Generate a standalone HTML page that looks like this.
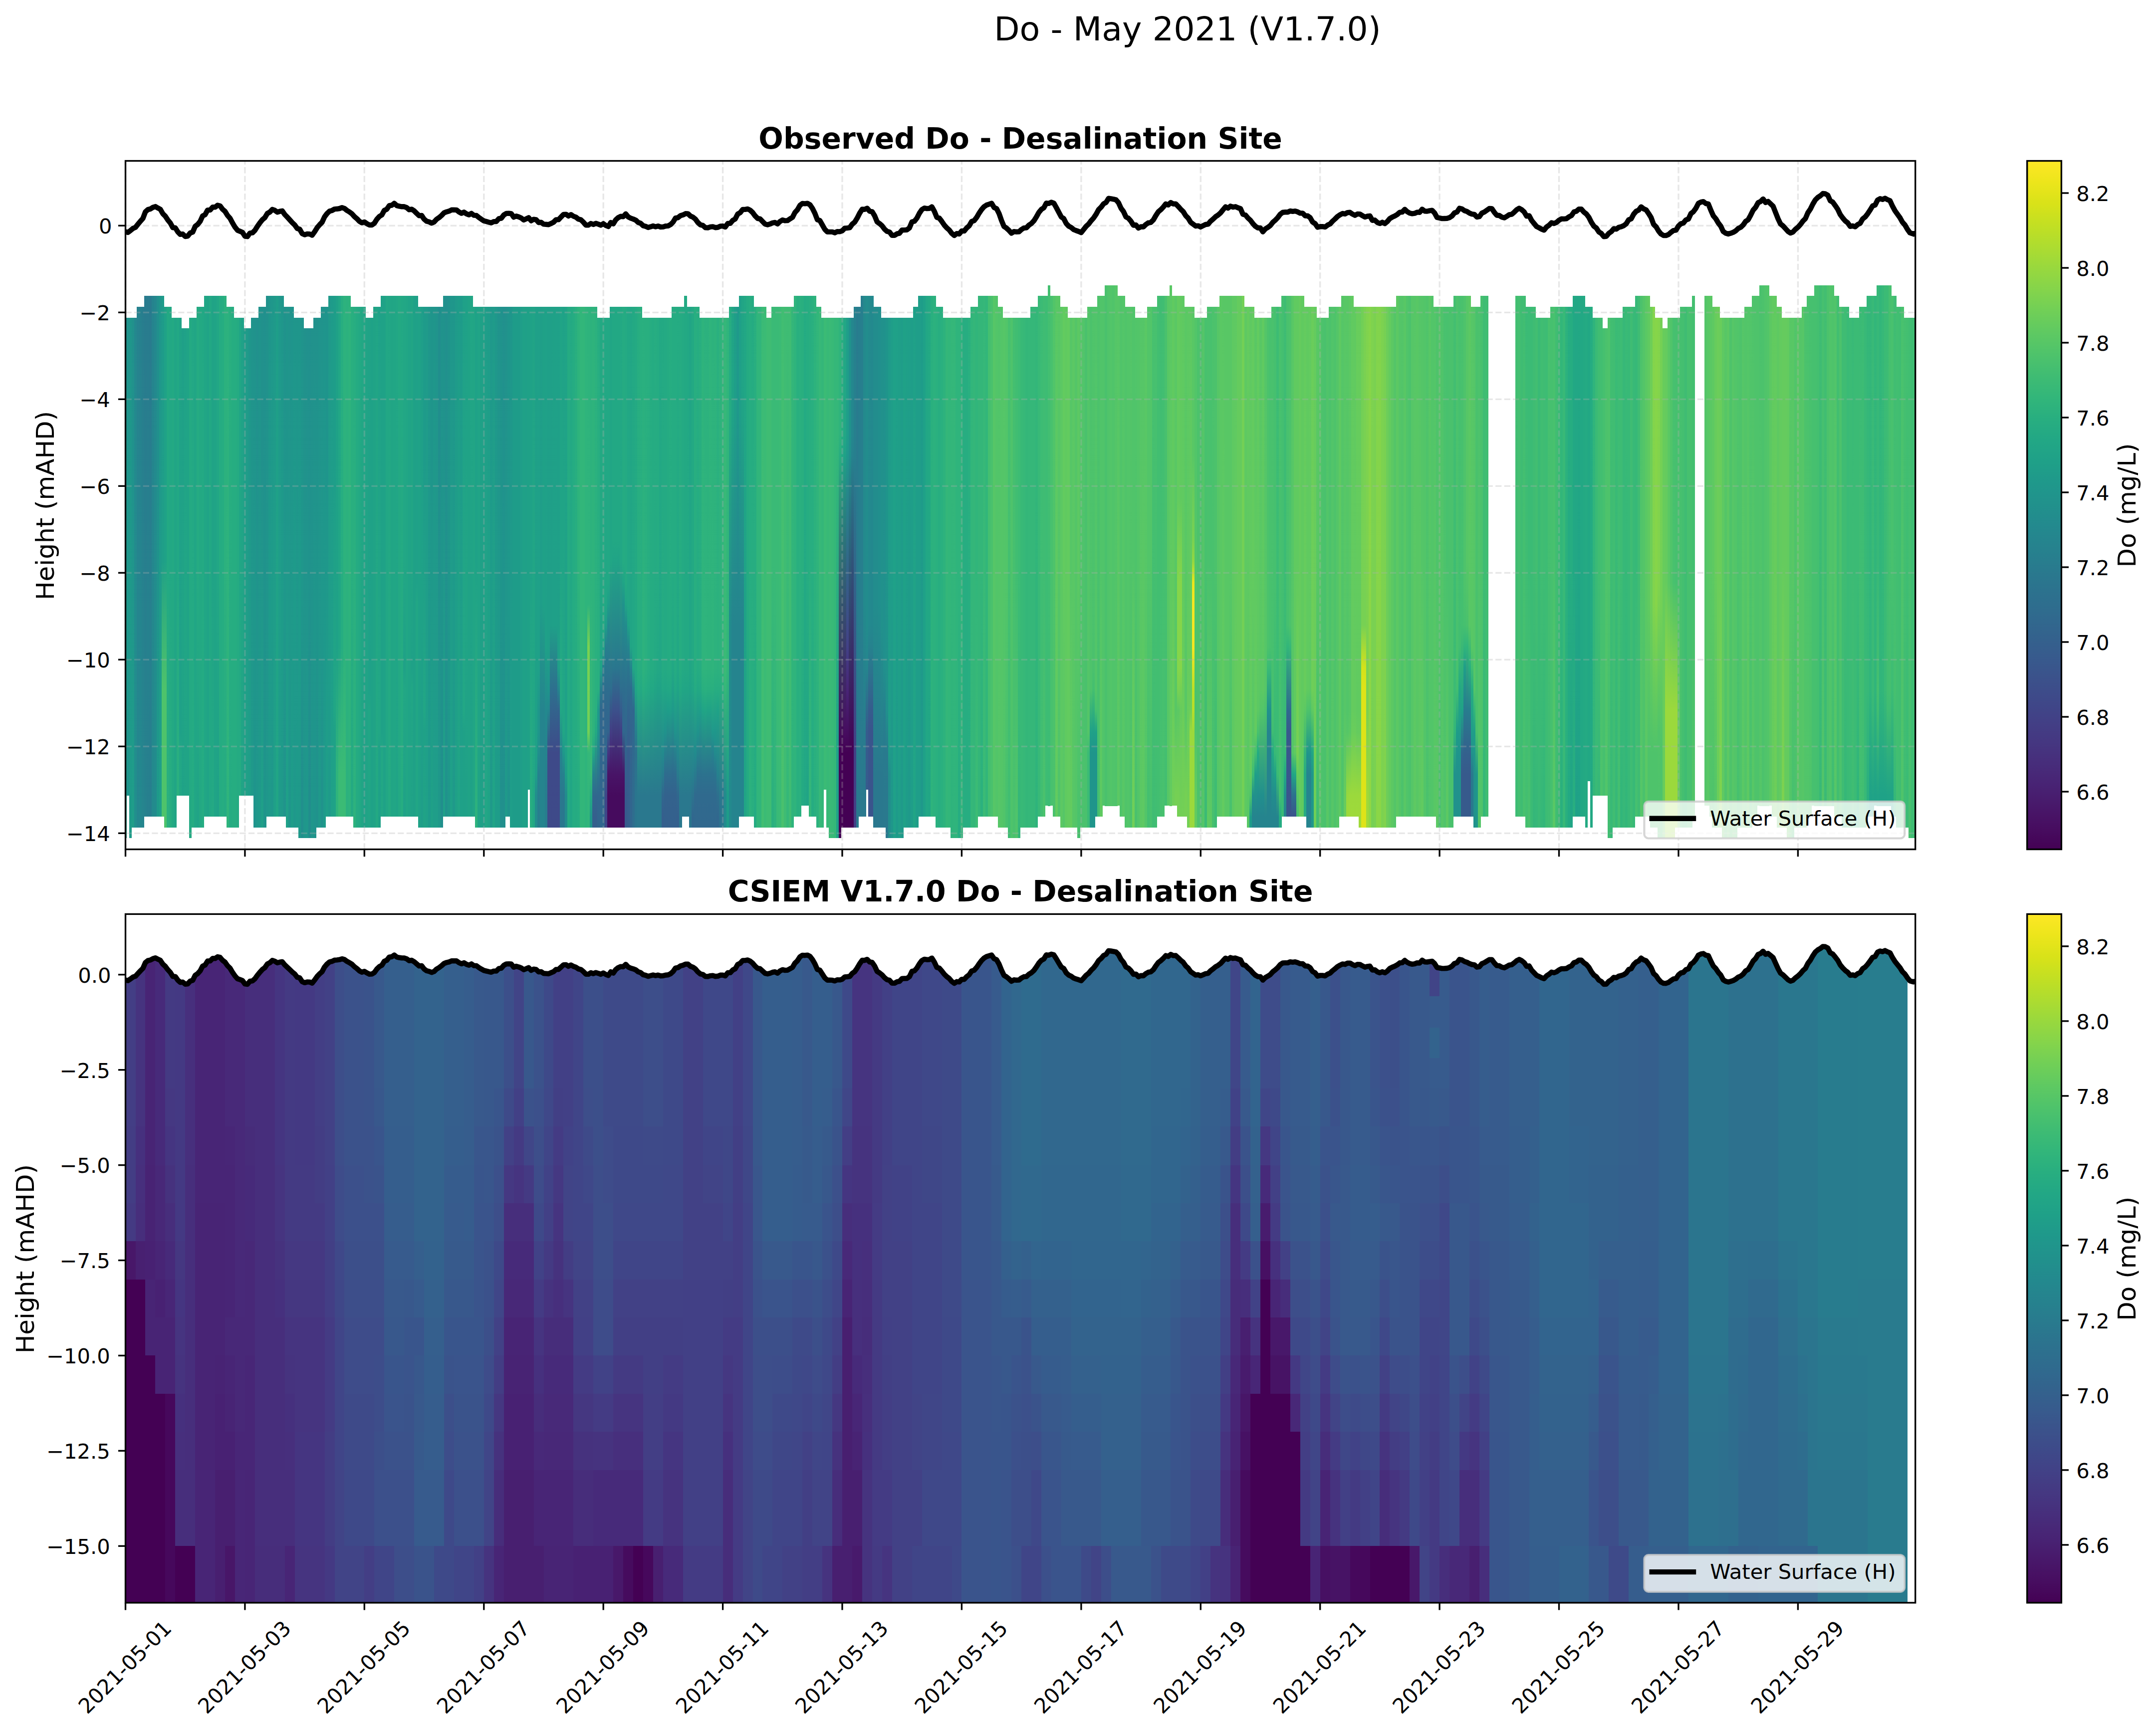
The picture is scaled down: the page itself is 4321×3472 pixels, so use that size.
<!DOCTYPE html><html><head><meta charset="utf-8"><title>Do - May 2021 (V1.7.0)</title>
<style>html,body{margin:0;padding:0;background:#fff}svg{display:block}text{font-family:'DejaVu Sans','Liberation Sans',sans-serif;fill:#000}</style></head><body>
<svg width="4321" height="3472" viewBox="0 0 4321 3472">
<defs>
<linearGradient id="gv" gradientUnits="userSpaceOnUse" x1="0" x2="0" y1="571.5" y2="1679.9"/>
<linearGradient id="g1" href="#gv"><stop offset="0.000" stop-color="#1f948c"/><stop offset="1.000" stop-color="#1f9e89"/></linearGradient><linearGradient id="g2" href="#gv"><stop offset="0.000" stop-color="#20928c"/><stop offset="0.577" stop-color="#1f978b"/><stop offset="1.000" stop-color="#20928c"/></linearGradient><linearGradient id="g3" href="#gv"><stop offset="0.000" stop-color="#1f958b"/><stop offset="1.000" stop-color="#1e9c89"/></linearGradient><linearGradient id="g4" href="#gv"><stop offset="0.000" stop-color="#21918c"/><stop offset="0.308" stop-color="#20928c"/><stop offset="1.000" stop-color="#1f9e89"/></linearGradient><linearGradient id="g5" href="#gv"><stop offset="0.000" stop-color="#24878e"/><stop offset="1.000" stop-color="#218f8d"/></linearGradient><linearGradient id="g6" href="#gv"><stop offset="0.000" stop-color="#26828e"/><stop offset="1.000" stop-color="#24878e"/></linearGradient><linearGradient id="g7" href="#gv"><stop offset="0.000" stop-color="#27808e"/><stop offset="1.000" stop-color="#23888e"/></linearGradient><linearGradient id="g8" href="#gv"><stop offset="0.000" stop-color="#287d8e"/><stop offset="1.000" stop-color="#25858e"/></linearGradient><linearGradient id="g9" href="#gv"><stop offset="0.000" stop-color="#297b8e"/><stop offset="1.000" stop-color="#26828e"/></linearGradient><linearGradient id="g10" href="#gv"><stop offset="0.000" stop-color="#297b8e"/><stop offset="0.615" stop-color="#26818e"/><stop offset="1.000" stop-color="#277f8e"/></linearGradient><linearGradient id="g11" href="#gv"><stop offset="0.000" stop-color="#297a8e"/><stop offset="0.615" stop-color="#27808e"/><stop offset="1.000" stop-color="#277e8e"/></linearGradient><linearGradient id="g12" href="#gv"><stop offset="0.000" stop-color="#25838e"/><stop offset="1.000" stop-color="#238a8d"/></linearGradient><linearGradient id="g13" href="#gv"><stop offset="0.000" stop-color="#24878e"/><stop offset="0.615" stop-color="#228d8d"/><stop offset="1.000" stop-color="#228b8d"/></linearGradient><linearGradient id="g14" href="#gv"><stop offset="0.000" stop-color="#21908d"/><stop offset="0.308" stop-color="#21908d"/><stop offset="1.000" stop-color="#1e9b8a"/></linearGradient><linearGradient id="g15" href="#gv"><stop offset="0.000" stop-color="#1f968b"/><stop offset="1.000" stop-color="#1fa088"/></linearGradient><linearGradient id="g16" href="#gv"><stop offset="0.000" stop-color="#1e9b8a"/><stop offset="0.500" stop-color="#1f9f88"/><stop offset="0.731" stop-color="#4ec36b"/><stop offset="1.000" stop-color="#4ec36b"/></linearGradient><linearGradient id="g17" href="#gv"><stop offset="0.000" stop-color="#1fa287"/><stop offset="0.500" stop-color="#1fa287"/><stop offset="0.731" stop-color="#4ec36b"/><stop offset="1.000" stop-color="#4ec36b"/></linearGradient><linearGradient id="g18" href="#gv"><stop offset="0.000" stop-color="#23a983"/><stop offset="0.500" stop-color="#23a983"/><stop offset="1.000" stop-color="#2cb17e"/></linearGradient><linearGradient id="g19" href="#gv"><stop offset="0.000" stop-color="#22a884"/><stop offset="0.500" stop-color="#22a884"/><stop offset="1.000" stop-color="#28ae80"/></linearGradient><linearGradient id="g20" href="#gv"><stop offset="0.000" stop-color="#22a884"/><stop offset="0.500" stop-color="#22a884"/><stop offset="1.000" stop-color="#2cb17e"/></linearGradient><linearGradient id="g21" href="#gv"><stop offset="0.000" stop-color="#20a386"/><stop offset="0.808" stop-color="#1fa188"/><stop offset="0.846" stop-color="#22a785"/><stop offset="1.000" stop-color="#21a685"/></linearGradient><linearGradient id="g22" href="#gv"><stop offset="0.000" stop-color="#1f9f88"/><stop offset="0.615" stop-color="#20a486"/><stop offset="1.000" stop-color="#1fa287"/></linearGradient><linearGradient id="g23" href="#gv"><stop offset="0.000" stop-color="#1fa188"/><stop offset="0.577" stop-color="#21a685"/><stop offset="1.000" stop-color="#20a386"/></linearGradient><linearGradient id="g24" href="#gv"><stop offset="0.000" stop-color="#22a785"/><stop offset="1.000" stop-color="#25ac82"/></linearGradient><linearGradient id="g25" href="#gv"><stop offset="0.000" stop-color="#25ab82"/><stop offset="0.500" stop-color="#25ab82"/><stop offset="1.000" stop-color="#20a386"/></linearGradient><linearGradient id="g26" href="#gv"><stop offset="0.000" stop-color="#22a884"/><stop offset="1.000" stop-color="#25ac82"/></linearGradient><linearGradient id="g27" href="#gv"><stop offset="0.000" stop-color="#20a386"/><stop offset="0.500" stop-color="#20a386"/><stop offset="1.000" stop-color="#24aa83"/></linearGradient><linearGradient id="g28" href="#gv"><stop offset="0.000" stop-color="#22a785"/><stop offset="0.500" stop-color="#22a785"/><stop offset="1.000" stop-color="#1fa187"/></linearGradient><linearGradient id="g29" href="#gv"><stop offset="0.000" stop-color="#2cb17e"/><stop offset="0.500" stop-color="#2cb17e"/><stop offset="1.000" stop-color="#24aa83"/></linearGradient><linearGradient id="g30" href="#gv"><stop offset="0.000" stop-color="#2cb17e"/><stop offset="1.000" stop-color="#2fb47c"/></linearGradient><linearGradient id="g31" href="#gv"><stop offset="0.000" stop-color="#29af7f"/><stop offset="1.000" stop-color="#25ac82"/></linearGradient><linearGradient id="g32" href="#gv"><stop offset="0.000" stop-color="#21a685"/><stop offset="0.500" stop-color="#21a685"/><stop offset="1.000" stop-color="#27ad81"/></linearGradient><linearGradient id="g33" href="#gv"><stop offset="0.000" stop-color="#1fa188"/><stop offset="0.615" stop-color="#21a685"/><stop offset="1.000" stop-color="#20a486"/></linearGradient><linearGradient id="g34" href="#gv"><stop offset="0.000" stop-color="#1e9c89"/><stop offset="0.615" stop-color="#1fa187"/><stop offset="1.000" stop-color="#1f9f88"/></linearGradient><linearGradient id="g35" href="#gv"><stop offset="0.000" stop-color="#1f9a8a"/><stop offset="1.000" stop-color="#1fa187"/></linearGradient><linearGradient id="g36" href="#gv"><stop offset="0.000" stop-color="#1f958b"/><stop offset="1.000" stop-color="#1f9f88"/></linearGradient><linearGradient id="g37" href="#gv"><stop offset="0.000" stop-color="#20938c"/><stop offset="1.000" stop-color="#1f9a8a"/></linearGradient><linearGradient id="g38" href="#gv"><stop offset="0.000" stop-color="#20928c"/><stop offset="0.577" stop-color="#1f978b"/><stop offset="1.000" stop-color="#1f948c"/></linearGradient><linearGradient id="g39" href="#gv"><stop offset="0.000" stop-color="#21908d"/><stop offset="1.000" stop-color="#1f988b"/></linearGradient><linearGradient id="g40" href="#gv"><stop offset="0.000" stop-color="#20928c"/><stop offset="1.000" stop-color="#1f9a8a"/></linearGradient><linearGradient id="g41" href="#gv"><stop offset="0.000" stop-color="#21918c"/><stop offset="0.308" stop-color="#21918c"/><stop offset="1.000" stop-color="#1fa088"/></linearGradient><linearGradient id="g42" href="#gv"><stop offset="0.000" stop-color="#21908d"/><stop offset="1.000" stop-color="#1f958b"/></linearGradient><linearGradient id="g43" href="#gv"><stop offset="0.000" stop-color="#21918c"/><stop offset="1.000" stop-color="#1f988b"/></linearGradient><linearGradient id="g44" href="#gv"><stop offset="0.000" stop-color="#1f958b"/><stop offset="0.615" stop-color="#1e9b8a"/><stop offset="1.000" stop-color="#1f998a"/></linearGradient><linearGradient id="g45" href="#gv"><stop offset="0.000" stop-color="#1f978b"/><stop offset="0.577" stop-color="#1e9c89"/><stop offset="1.000" stop-color="#1f978b"/></linearGradient><linearGradient id="g46" href="#gv"><stop offset="0.000" stop-color="#1f998a"/><stop offset="1.000" stop-color="#1fa088"/></linearGradient><linearGradient id="g47" href="#gv"><stop offset="0.000" stop-color="#1e9d89"/><stop offset="1.000" stop-color="#21a685"/></linearGradient><linearGradient id="g48" href="#gv"><stop offset="0.000" stop-color="#1f988b"/><stop offset="0.577" stop-color="#1f9e89"/><stop offset="1.000" stop-color="#1f9a8a"/></linearGradient><linearGradient id="g49" href="#gv"><stop offset="0.000" stop-color="#1f968b"/><stop offset="0.615" stop-color="#1e9c89"/><stop offset="1.000" stop-color="#1f998a"/></linearGradient><linearGradient id="g50" href="#gv"><stop offset="0.000" stop-color="#20928c"/><stop offset="0.577" stop-color="#1f988b"/><stop offset="1.000" stop-color="#20938c"/></linearGradient><linearGradient id="g51" href="#gv"><stop offset="0.000" stop-color="#1f958b"/><stop offset="0.308" stop-color="#1f958b"/><stop offset="1.000" stop-color="#1fa188"/></linearGradient><linearGradient id="g52" href="#gv"><stop offset="0.000" stop-color="#20938c"/><stop offset="0.615" stop-color="#1f998a"/><stop offset="1.000" stop-color="#1f968b"/></linearGradient><linearGradient id="g53" href="#gv"><stop offset="0.000" stop-color="#1f948c"/><stop offset="1.000" stop-color="#1e9d89"/></linearGradient><linearGradient id="g54" href="#gv"><stop offset="0.000" stop-color="#1f958b"/><stop offset="0.577" stop-color="#1e9b8a"/><stop offset="1.000" stop-color="#1f988b"/></linearGradient><linearGradient id="g55" href="#gv"><stop offset="0.000" stop-color="#1f958b"/><stop offset="1.000" stop-color="#1e9b8a"/></linearGradient><linearGradient id="g56" href="#gv"><stop offset="0.000" stop-color="#1f958b"/><stop offset="0.615" stop-color="#1e9b8a"/><stop offset="1.000" stop-color="#1f998a"/></linearGradient><linearGradient id="g57" href="#gv"><stop offset="0.000" stop-color="#20938c"/><stop offset="0.538" stop-color="#1f978b"/><stop offset="1.000" stop-color="#218f8d"/></linearGradient><linearGradient id="g58" href="#gv"><stop offset="0.000" stop-color="#21918c"/><stop offset="1.000" stop-color="#1f978b"/></linearGradient><linearGradient id="g59" href="#gv"><stop offset="0.000" stop-color="#21908d"/><stop offset="1.000" stop-color="#1f988b"/></linearGradient><linearGradient id="g60" href="#gv"><stop offset="0.000" stop-color="#21908d"/><stop offset="0.538" stop-color="#20938c"/><stop offset="1.000" stop-color="#228d8d"/></linearGradient><linearGradient id="g61" href="#gv"><stop offset="0.000" stop-color="#21918c"/><stop offset="1.000" stop-color="#1f968b"/></linearGradient><linearGradient id="g62" href="#gv"><stop offset="0.000" stop-color="#21918c"/><stop offset="0.615" stop-color="#1f968b"/><stop offset="1.000" stop-color="#1f948c"/></linearGradient><linearGradient id="g63" href="#gv"><stop offset="0.000" stop-color="#21918c"/><stop offset="0.577" stop-color="#1f958b"/><stop offset="1.000" stop-color="#20928c"/></linearGradient><linearGradient id="g64" href="#gv"><stop offset="0.000" stop-color="#20938c"/><stop offset="1.000" stop-color="#1f998a"/></linearGradient><linearGradient id="g65" href="#gv"><stop offset="0.000" stop-color="#20938c"/><stop offset="0.577" stop-color="#1f988b"/><stop offset="1.000" stop-color="#20928c"/></linearGradient><linearGradient id="g66" href="#gv"><stop offset="0.000" stop-color="#1f948c"/><stop offset="1.000" stop-color="#1e9b8a"/></linearGradient><linearGradient id="g67" href="#gv"><stop offset="0.000" stop-color="#1f948c"/><stop offset="0.269" stop-color="#1f948c"/><stop offset="1.000" stop-color="#1fa088"/></linearGradient><linearGradient id="g68" href="#gv"><stop offset="0.000" stop-color="#1f998a"/><stop offset="0.577" stop-color="#1f9e89"/><stop offset="1.000" stop-color="#1f9a8a"/></linearGradient><linearGradient id="g69" href="#gv"><stop offset="0.000" stop-color="#1e9b8a"/><stop offset="1.000" stop-color="#1fa188"/></linearGradient><linearGradient id="g70" href="#gv"><stop offset="0.000" stop-color="#1e9d89"/><stop offset="0.308" stop-color="#1e9d89"/><stop offset="0.769" stop-color="#21a685"/><stop offset="0.808" stop-color="#1fa187"/><stop offset="1.000" stop-color="#1fa287"/></linearGradient><linearGradient id="g71" href="#gv"><stop offset="0.000" stop-color="#1fa187"/><stop offset="0.654" stop-color="#1fa287"/><stop offset="0.885" stop-color="#2fb47c"/><stop offset="1.000" stop-color="#2fb47c"/></linearGradient><linearGradient id="g72" href="#gv"><stop offset="0.000" stop-color="#22a785"/><stop offset="0.654" stop-color="#21a685"/><stop offset="0.885" stop-color="#3bbb75"/><stop offset="1.000" stop-color="#3bbb75"/></linearGradient><linearGradient id="g73" href="#gv"><stop offset="0.000" stop-color="#28ae80"/><stop offset="0.654" stop-color="#26ad81"/><stop offset="0.885" stop-color="#3bbb75"/><stop offset="1.000" stop-color="#3bbb75"/></linearGradient><linearGradient id="g74" href="#gv"><stop offset="0.000" stop-color="#2db27d"/><stop offset="0.654" stop-color="#2db27d"/><stop offset="0.885" stop-color="#3bbb75"/><stop offset="1.000" stop-color="#3bbb75"/></linearGradient><linearGradient id="g75" href="#gv"><stop offset="0.000" stop-color="#29af7f"/><stop offset="0.500" stop-color="#29af7f"/><stop offset="1.000" stop-color="#23a983"/></linearGradient><linearGradient id="g76" href="#gv"><stop offset="0.000" stop-color="#27ad81"/><stop offset="1.000" stop-color="#2db27d"/></linearGradient><linearGradient id="g77" href="#gv"><stop offset="0.000" stop-color="#22a884"/><stop offset="1.000" stop-color="#21a585"/></linearGradient><linearGradient id="g78" href="#gv"><stop offset="0.000" stop-color="#22a785"/><stop offset="1.000" stop-color="#1fa187"/></linearGradient><linearGradient id="g79" href="#gv"><stop offset="0.000" stop-color="#20a386"/><stop offset="0.731" stop-color="#1fa188"/><stop offset="0.769" stop-color="#21a685"/><stop offset="1.000" stop-color="#21a585"/></linearGradient><linearGradient id="g80" href="#gv"><stop offset="0.000" stop-color="#20a486"/><stop offset="1.000" stop-color="#23a983"/></linearGradient><linearGradient id="g81" href="#gv"><stop offset="0.000" stop-color="#1fa188"/><stop offset="0.808" stop-color="#22a785"/><stop offset="0.846" stop-color="#1fa188"/><stop offset="1.000" stop-color="#1fa187"/></linearGradient><linearGradient id="g82" href="#gv"><stop offset="0.000" stop-color="#1fa287"/><stop offset="0.808" stop-color="#1fa187"/><stop offset="0.846" stop-color="#22a785"/><stop offset="1.000" stop-color="#21a685"/></linearGradient><linearGradient id="g83" href="#gv"><stop offset="0.000" stop-color="#21a685"/><stop offset="1.000" stop-color="#25ab82"/></linearGradient><linearGradient id="g84" href="#gv"><stop offset="0.000" stop-color="#22a785"/><stop offset="1.000" stop-color="#20a486"/></linearGradient><linearGradient id="g85" href="#gv"><stop offset="0.000" stop-color="#22a884"/><stop offset="1.000" stop-color="#26ad81"/></linearGradient><linearGradient id="g86" href="#gv"><stop offset="0.000" stop-color="#22a785"/><stop offset="0.500" stop-color="#22a785"/><stop offset="0.692" stop-color="#1fa187"/><stop offset="0.731" stop-color="#22a785"/><stop offset="1.000" stop-color="#1fa188"/></linearGradient><linearGradient id="g87" href="#gv"><stop offset="0.000" stop-color="#21a585"/><stop offset="0.500" stop-color="#21a585"/><stop offset="0.692" stop-color="#1fa187"/><stop offset="0.731" stop-color="#21a685"/><stop offset="1.000" stop-color="#1fa187"/></linearGradient><linearGradient id="g88" href="#gv"><stop offset="0.000" stop-color="#1fa188"/><stop offset="0.538" stop-color="#1fa188"/><stop offset="0.577" stop-color="#21a685"/><stop offset="1.000" stop-color="#21a685"/></linearGradient><linearGradient id="g89" href="#gv"><stop offset="0.000" stop-color="#1f9e89"/><stop offset="0.577" stop-color="#1fa287"/><stop offset="1.000" stop-color="#1f9e89"/></linearGradient><linearGradient id="g90" href="#gv"><stop offset="0.000" stop-color="#1e9b8a"/><stop offset="0.308" stop-color="#1e9b8a"/><stop offset="0.769" stop-color="#21a685"/><stop offset="0.808" stop-color="#1fa187"/><stop offset="1.000" stop-color="#20a386"/></linearGradient><linearGradient id="g91" href="#gv"><stop offset="0.000" stop-color="#1f9a8a"/><stop offset="1.000" stop-color="#1fa188"/></linearGradient><linearGradient id="g92" href="#gv"><stop offset="0.000" stop-color="#1f968b"/><stop offset="1.000" stop-color="#1e9b8a"/></linearGradient><linearGradient id="g93" href="#gv"><stop offset="0.000" stop-color="#1f958b"/><stop offset="0.308" stop-color="#1f958b"/><stop offset="1.000" stop-color="#1fa187"/></linearGradient><linearGradient id="g94" href="#gv"><stop offset="0.000" stop-color="#1f958b"/><stop offset="1.000" stop-color="#1f9e89"/></linearGradient><linearGradient id="g95" href="#gv"><stop offset="0.000" stop-color="#20938c"/><stop offset="1.000" stop-color="#1f9e89"/></linearGradient><linearGradient id="g96" href="#gv"><stop offset="0.000" stop-color="#218e8d"/><stop offset="0.269" stop-color="#218e8d"/><stop offset="1.000" stop-color="#1f998a"/></linearGradient><linearGradient id="g97" href="#gv"><stop offset="0.000" stop-color="#20928c"/><stop offset="0.538" stop-color="#1f958b"/><stop offset="1.000" stop-color="#218e8d"/></linearGradient><linearGradient id="g98" href="#gv"><stop offset="0.000" stop-color="#20928c"/><stop offset="0.308" stop-color="#20938c"/><stop offset="1.000" stop-color="#1fa188"/></linearGradient><linearGradient id="g99" href="#gv"><stop offset="0.000" stop-color="#21908d"/><stop offset="1.000" stop-color="#20938c"/></linearGradient><linearGradient id="g100" href="#gv"><stop offset="0.000" stop-color="#20928c"/><stop offset="1.000" stop-color="#1f998a"/></linearGradient><linearGradient id="g101" href="#gv"><stop offset="0.000" stop-color="#1f968b"/><stop offset="1.000" stop-color="#1fa188"/></linearGradient><linearGradient id="g102" href="#gv"><stop offset="0.000" stop-color="#1f968b"/><stop offset="0.615" stop-color="#1e9b8a"/><stop offset="1.000" stop-color="#1f998a"/></linearGradient><linearGradient id="g103" href="#gv"><stop offset="0.000" stop-color="#1f9a8a"/><stop offset="1.000" stop-color="#1fa187"/></linearGradient><linearGradient id="g104" href="#gv"><stop offset="0.000" stop-color="#1e9c89"/><stop offset="1.000" stop-color="#21a585"/></linearGradient><linearGradient id="g105" href="#gv"><stop offset="0.000" stop-color="#1e9b8a"/><stop offset="1.000" stop-color="#1fa188"/></linearGradient><linearGradient id="g106" href="#gv"><stop offset="0.000" stop-color="#1fa088"/><stop offset="0.769" stop-color="#22a785"/><stop offset="0.808" stop-color="#1fa187"/><stop offset="1.000" stop-color="#1fa187"/></linearGradient><linearGradient id="g107" href="#gv"><stop offset="0.000" stop-color="#1fa188"/><stop offset="0.577" stop-color="#21a585"/><stop offset="1.000" stop-color="#1fa088"/></linearGradient><linearGradient id="g108" href="#gv"><stop offset="0.000" stop-color="#21a685"/><stop offset="1.000" stop-color="#1fa187"/></linearGradient><linearGradient id="g109" href="#gv"><stop offset="0.000" stop-color="#1fa287"/><stop offset="0.500" stop-color="#1fa287"/><stop offset="1.000" stop-color="#2eb37c"/></linearGradient><linearGradient id="g110" href="#gv"><stop offset="0.000" stop-color="#1e9d89"/><stop offset="1.000" stop-color="#22a785"/></linearGradient><linearGradient id="g111" href="#gv"><stop offset="0.000" stop-color="#1e9c89"/><stop offset="1.000" stop-color="#20a486"/></linearGradient><linearGradient id="g112" href="#gv"><stop offset="0.000" stop-color="#1f988b"/><stop offset="0.577" stop-color="#1e9d89"/><stop offset="1.000" stop-color="#1f998a"/></linearGradient><linearGradient id="g113" href="#gv"><stop offset="0.000" stop-color="#1f9a8a"/><stop offset="1.000" stop-color="#20a486"/></linearGradient><linearGradient id="g114" href="#gv"><stop offset="0.000" stop-color="#1f978b"/><stop offset="1.000" stop-color="#1e9d89"/></linearGradient><linearGradient id="g115" href="#gv"><stop offset="0.000" stop-color="#20938c"/><stop offset="1.000" stop-color="#1e9d89"/></linearGradient><linearGradient id="g116" href="#gv"><stop offset="0.000" stop-color="#20928c"/><stop offset="0.538" stop-color="#1f958b"/><stop offset="1.000" stop-color="#218f8d"/></linearGradient><linearGradient id="g117" href="#gv"><stop offset="0.000" stop-color="#21908d"/><stop offset="0.577" stop-color="#1f948c"/><stop offset="1.000" stop-color="#218f8d"/></linearGradient><linearGradient id="g118" href="#gv"><stop offset="0.000" stop-color="#21918c"/><stop offset="1.000" stop-color="#1f9a8a"/></linearGradient><linearGradient id="g119" href="#gv"><stop offset="0.000" stop-color="#1f948c"/><stop offset="0.577" stop-color="#1f988b"/><stop offset="1.000" stop-color="#20928c"/></linearGradient><linearGradient id="g120" href="#gv"><stop offset="0.000" stop-color="#1f968b"/><stop offset="1.000" stop-color="#1f9e89"/></linearGradient><linearGradient id="g121" href="#gv"><stop offset="0.000" stop-color="#1fa287"/><stop offset="0.500" stop-color="#1fa287"/><stop offset="1.000" stop-color="#28ae80"/></linearGradient><linearGradient id="g122" href="#gv"><stop offset="0.000" stop-color="#20a386"/><stop offset="1.000" stop-color="#22a884"/></linearGradient><linearGradient id="g123" href="#gv"><stop offset="0.000" stop-color="#1fa088"/><stop offset="0.846" stop-color="#1fa187"/><stop offset="0.885" stop-color="#1f9e89"/><stop offset="0.923" stop-color="#228d8d"/><stop offset="1.000" stop-color="#228d8d"/></linearGradient><linearGradient id="g124" href="#gv"><stop offset="0.000" stop-color="#1fa088"/><stop offset="0.692" stop-color="#1fa188"/><stop offset="0.769" stop-color="#1f978b"/><stop offset="0.808" stop-color="#1f978b"/><stop offset="0.846" stop-color="#218f8d"/><stop offset="0.885" stop-color="#26818e"/><stop offset="1.000" stop-color="#287c8e"/></linearGradient><linearGradient id="g125" href="#gv"><stop offset="0.000" stop-color="#1f9f88"/><stop offset="0.577" stop-color="#1f9e89"/><stop offset="0.769" stop-color="#25848e"/><stop offset="1.000" stop-color="#25848e"/></linearGradient><linearGradient id="g126" href="#gv"><stop offset="0.000" stop-color="#1fa187"/><stop offset="0.577" stop-color="#1fa187"/><stop offset="0.769" stop-color="#25848e"/><stop offset="1.000" stop-color="#25848e"/></linearGradient><linearGradient id="g127" href="#gv"><stop offset="0.000" stop-color="#1fa188"/><stop offset="0.654" stop-color="#1fa088"/><stop offset="0.769" stop-color="#23898e"/><stop offset="0.923" stop-color="#287d8e"/><stop offset="1.000" stop-color="#287d8e"/></linearGradient><linearGradient id="g128" href="#gv"><stop offset="0.000" stop-color="#1fa088"/><stop offset="0.654" stop-color="#1f9f88"/><stop offset="0.731" stop-color="#1f948c"/><stop offset="0.769" stop-color="#24868e"/><stop offset="0.846" stop-color="#3e4a89"/><stop offset="1.000" stop-color="#3e4989"/></linearGradient><linearGradient id="g129" href="#gv"><stop offset="0.000" stop-color="#1fa088"/><stop offset="0.615" stop-color="#1f9f88"/><stop offset="0.731" stop-color="#2d708e"/><stop offset="0.846" stop-color="#3e4a89"/><stop offset="1.000" stop-color="#3e4989"/></linearGradient><linearGradient id="g130" href="#gv"><stop offset="0.000" stop-color="#1fa187"/><stop offset="0.615" stop-color="#1fa088"/><stop offset="0.731" stop-color="#2e6f8e"/><stop offset="0.846" stop-color="#3e4a89"/><stop offset="1.000" stop-color="#3e4989"/></linearGradient><linearGradient id="g131" href="#gv"><stop offset="0.000" stop-color="#1fa188"/><stop offset="0.615" stop-color="#1fa088"/><stop offset="0.731" stop-color="#2d708e"/><stop offset="0.846" stop-color="#3e4a89"/><stop offset="1.000" stop-color="#3e4989"/></linearGradient><linearGradient id="g132" href="#gv"><stop offset="0.000" stop-color="#1fa188"/><stop offset="0.692" stop-color="#1f9f88"/><stop offset="0.731" stop-color="#25858e"/><stop offset="0.769" stop-color="#33638d"/><stop offset="0.808" stop-color="#39558c"/><stop offset="0.846" stop-color="#3e4a89"/><stop offset="1.000" stop-color="#3e4989"/></linearGradient><linearGradient id="g133" href="#gv"><stop offset="0.000" stop-color="#20a486"/><stop offset="0.500" stop-color="#20a486"/><stop offset="0.731" stop-color="#24aa83"/><stop offset="0.769" stop-color="#22a785"/><stop offset="0.846" stop-color="#25858e"/><stop offset="0.885" stop-color="#277e8e"/><stop offset="0.923" stop-color="#2a788e"/><stop offset="1.000" stop-color="#2a788e"/></linearGradient><linearGradient id="g134" href="#gv"><stop offset="0.000" stop-color="#1fa287"/><stop offset="0.808" stop-color="#21a685"/><stop offset="0.846" stop-color="#1f988b"/><stop offset="0.885" stop-color="#27808e"/><stop offset="0.923" stop-color="#2a788e"/><stop offset="1.000" stop-color="#2a788e"/></linearGradient><linearGradient id="g135" href="#gv"><stop offset="0.000" stop-color="#20a486"/><stop offset="0.846" stop-color="#1fa188"/><stop offset="0.885" stop-color="#1e9d89"/><stop offset="0.923" stop-color="#228c8d"/><stop offset="1.000" stop-color="#228c8d"/></linearGradient><linearGradient id="g136" href="#gv"><stop offset="0.000" stop-color="#24aa83"/><stop offset="1.000" stop-color="#21a685"/></linearGradient><linearGradient id="g137" href="#gv"><stop offset="0.000" stop-color="#29af7f"/><stop offset="1.000" stop-color="#25ab82"/></linearGradient><linearGradient id="g138" href="#gv"><stop offset="0.000" stop-color="#2eb37c"/><stop offset="0.500" stop-color="#2eb37c"/><stop offset="1.000" stop-color="#25ac82"/></linearGradient><linearGradient id="g139" href="#gv"><stop offset="0.000" stop-color="#2eb37c"/><stop offset="0.577" stop-color="#2fb47c"/><stop offset="0.654" stop-color="#7ad151"/><stop offset="0.808" stop-color="#73d056"/><stop offset="0.846" stop-color="#35b779"/><stop offset="1.000" stop-color="#31b57b"/></linearGradient><linearGradient id="g140" href="#gv"><stop offset="0.000" stop-color="#2db27d"/><stop offset="0.500" stop-color="#2db27d"/><stop offset="0.885" stop-color="#38b977"/><stop offset="0.923" stop-color="#25ac82"/><stop offset="0.962" stop-color="#1f978b"/><stop offset="1.000" stop-color="#1f978b"/></linearGradient><linearGradient id="g141" href="#gv"><stop offset="0.000" stop-color="#2eb37c"/><stop offset="0.808" stop-color="#2eb37c"/><stop offset="0.846" stop-color="#22a884"/><stop offset="0.885" stop-color="#26818e"/><stop offset="0.923" stop-color="#31688e"/><stop offset="0.962" stop-color="#355f8d"/><stop offset="1.000" stop-color="#355f8d"/></linearGradient><linearGradient id="g142" href="#gv"><stop offset="0.000" stop-color="#2cb17e"/><stop offset="0.769" stop-color="#2ab07f"/><stop offset="0.808" stop-color="#23a983"/><stop offset="0.923" stop-color="#31678e"/><stop offset="0.962" stop-color="#355f8d"/><stop offset="1.000" stop-color="#355f8d"/></linearGradient><linearGradient id="g143" href="#gv"><stop offset="0.000" stop-color="#27ad81"/><stop offset="0.731" stop-color="#29af7f"/><stop offset="0.769" stop-color="#1f988b"/><stop offset="0.808" stop-color="#20938c"/><stop offset="0.923" stop-color="#31678e"/><stop offset="1.000" stop-color="#33628d"/></linearGradient><linearGradient id="g144" href="#gv"><stop offset="0.000" stop-color="#23a983"/><stop offset="0.500" stop-color="#23a983"/><stop offset="0.692" stop-color="#20a486"/><stop offset="0.731" stop-color="#287d8e"/><stop offset="0.769" stop-color="#31678e"/><stop offset="1.000" stop-color="#31678e"/></linearGradient><linearGradient id="g145" href="#gv"><stop offset="0.000" stop-color="#23a983"/><stop offset="0.615" stop-color="#24aa83"/><stop offset="0.654" stop-color="#20a386"/><stop offset="0.692" stop-color="#277f8e"/><stop offset="0.731" stop-color="#2e6e8e"/><stop offset="0.769" stop-color="#31678e"/><stop offset="1.000" stop-color="#31678e"/></linearGradient><linearGradient id="g146" href="#gv"><stop offset="0.000" stop-color="#22a884"/><stop offset="0.577" stop-color="#22a785"/><stop offset="0.615" stop-color="#1f9e89"/><stop offset="0.654" stop-color="#277f8e"/><stop offset="0.731" stop-color="#2e6d8e"/><stop offset="0.769" stop-color="#31678e"/><stop offset="0.846" stop-color="#31678e"/><stop offset="0.885" stop-color="#365c8d"/><stop offset="0.923" stop-color="#3f4788"/><stop offset="1.000" stop-color="#3f4788"/></linearGradient><linearGradient id="g147" href="#gv"><stop offset="0.000" stop-color="#22a884"/><stop offset="0.538" stop-color="#22a884"/><stop offset="0.577" stop-color="#1f9e89"/><stop offset="0.615" stop-color="#23888e"/><stop offset="0.731" stop-color="#2e6d8e"/><stop offset="0.808" stop-color="#33638d"/><stop offset="0.846" stop-color="#453581"/><stop offset="0.885" stop-color="#481467"/><stop offset="0.923" stop-color="#460b5e"/><stop offset="1.000" stop-color="#460b5e"/></linearGradient><linearGradient id="g148" href="#gv"><stop offset="0.000" stop-color="#21a685"/><stop offset="0.500" stop-color="#21a685"/><stop offset="0.731" stop-color="#2e6d8e"/><stop offset="0.808" stop-color="#433d84"/><stop offset="0.885" stop-color="#481467"/><stop offset="0.923" stop-color="#460b5e"/><stop offset="1.000" stop-color="#460b5e"/></linearGradient><linearGradient id="g149" href="#gv"><stop offset="0.000" stop-color="#22a884"/><stop offset="0.462" stop-color="#22a884"/><stop offset="0.500" stop-color="#20a486"/><stop offset="0.692" stop-color="#2a778e"/><stop offset="0.769" stop-color="#3c508b"/><stop offset="0.885" stop-color="#481467"/><stop offset="0.923" stop-color="#460b5e"/><stop offset="1.000" stop-color="#460b5e"/></linearGradient><linearGradient id="g150" href="#gv"><stop offset="0.000" stop-color="#22a884"/><stop offset="0.462" stop-color="#22a884"/><stop offset="0.500" stop-color="#20a486"/><stop offset="0.692" stop-color="#2a768e"/><stop offset="0.769" stop-color="#3c508b"/><stop offset="0.885" stop-color="#481467"/><stop offset="0.923" stop-color="#460b5e"/><stop offset="1.000" stop-color="#460b5e"/></linearGradient><linearGradient id="g151" href="#gv"><stop offset="0.000" stop-color="#22a884"/><stop offset="0.462" stop-color="#22a884"/><stop offset="0.500" stop-color="#20a386"/><stop offset="0.692" stop-color="#2a768e"/><stop offset="0.769" stop-color="#3c508b"/><stop offset="0.885" stop-color="#481467"/><stop offset="0.923" stop-color="#460b5e"/><stop offset="1.000" stop-color="#460b5e"/></linearGradient><linearGradient id="g152" href="#gv"><stop offset="0.000" stop-color="#23a983"/><stop offset="0.500" stop-color="#22a785"/><stop offset="0.731" stop-color="#2e6d8e"/><stop offset="0.769" stop-color="#375b8d"/><stop offset="0.808" stop-color="#433d84"/><stop offset="0.885" stop-color="#481467"/><stop offset="0.923" stop-color="#460b5e"/><stop offset="1.000" stop-color="#460b5e"/></linearGradient><linearGradient id="g153" href="#gv"><stop offset="0.000" stop-color="#25ab82"/><stop offset="0.500" stop-color="#25ab82"/><stop offset="0.538" stop-color="#20a486"/><stop offset="0.577" stop-color="#20928c"/><stop offset="0.731" stop-color="#2e6d8e"/><stop offset="0.769" stop-color="#31678e"/><stop offset="0.808" stop-color="#31678e"/><stop offset="0.885" stop-color="#481467"/><stop offset="0.923" stop-color="#460b5e"/><stop offset="1.000" stop-color="#460b5e"/></linearGradient><linearGradient id="g154" href="#gv"><stop offset="0.000" stop-color="#24aa83"/><stop offset="0.538" stop-color="#24aa83"/><stop offset="0.577" stop-color="#20a486"/><stop offset="0.615" stop-color="#228b8d"/><stop offset="0.731" stop-color="#2e6e8e"/><stop offset="0.923" stop-color="#375a8c"/><stop offset="1.000" stop-color="#375a8c"/></linearGradient><linearGradient id="g155" href="#gv"><stop offset="0.000" stop-color="#22a884"/><stop offset="0.577" stop-color="#22a785"/><stop offset="0.615" stop-color="#1fa287"/><stop offset="0.654" stop-color="#25858e"/><stop offset="0.692" stop-color="#2b758e"/><stop offset="0.769" stop-color="#32648e"/><stop offset="0.846" stop-color="#365d8d"/><stop offset="1.000" stop-color="#355e8d"/></linearGradient><linearGradient id="g156" href="#gv"><stop offset="0.000" stop-color="#22a785"/><stop offset="0.654" stop-color="#21a585"/><stop offset="0.692" stop-color="#25848e"/><stop offset="0.731" stop-color="#2f6b8e"/><stop offset="0.808" stop-color="#33638d"/><stop offset="1.000" stop-color="#31668e"/></linearGradient><linearGradient id="g157" href="#gv"><stop offset="0.000" stop-color="#23a983"/><stop offset="0.692" stop-color="#22a785"/><stop offset="0.731" stop-color="#26828e"/><stop offset="0.769" stop-color="#31668e"/><stop offset="1.000" stop-color="#2e6f8e"/></linearGradient><linearGradient id="g158" href="#gv"><stop offset="0.000" stop-color="#24aa83"/><stop offset="0.692" stop-color="#23a983"/><stop offset="0.731" stop-color="#21a585"/><stop offset="0.808" stop-color="#277f8e"/><stop offset="0.846" stop-color="#2d708e"/><stop offset="0.923" stop-color="#2a768e"/><stop offset="1.000" stop-color="#2a768e"/></linearGradient><linearGradient id="g159" href="#gv"><stop offset="0.000" stop-color="#27ad81"/><stop offset="0.692" stop-color="#28ae80"/><stop offset="0.731" stop-color="#25ab82"/><stop offset="0.923" stop-color="#2a788e"/><stop offset="1.000" stop-color="#2a788e"/></linearGradient><linearGradient id="g160" href="#gv"><stop offset="0.000" stop-color="#29af7f"/><stop offset="0.692" stop-color="#28ae80"/><stop offset="0.731" stop-color="#24aa83"/><stop offset="0.923" stop-color="#2a788e"/><stop offset="1.000" stop-color="#2a788e"/></linearGradient><linearGradient id="g161" href="#gv"><stop offset="0.000" stop-color="#29af7f"/><stop offset="0.692" stop-color="#2db27d"/><stop offset="0.731" stop-color="#28ae80"/><stop offset="0.923" stop-color="#2a788e"/><stop offset="1.000" stop-color="#2a788e"/></linearGradient><linearGradient id="g162" href="#gv"><stop offset="0.000" stop-color="#29af7f"/><stop offset="0.692" stop-color="#2ab07f"/><stop offset="0.731" stop-color="#25ac82"/><stop offset="0.923" stop-color="#2a788e"/><stop offset="1.000" stop-color="#2a788e"/></linearGradient><linearGradient id="g163" href="#gv"><stop offset="0.000" stop-color="#29af7f"/><stop offset="0.692" stop-color="#27ad81"/><stop offset="0.731" stop-color="#24aa83"/><stop offset="0.923" stop-color="#2a788e"/><stop offset="1.000" stop-color="#2a788e"/></linearGradient><linearGradient id="g164" href="#gv"><stop offset="0.000" stop-color="#27ad81"/><stop offset="0.692" stop-color="#25ac82"/><stop offset="0.731" stop-color="#22a884"/><stop offset="0.923" stop-color="#2a788e"/><stop offset="1.000" stop-color="#2a788e"/></linearGradient><linearGradient id="g165" href="#gv"><stop offset="0.000" stop-color="#25ac82"/><stop offset="0.692" stop-color="#25ac82"/><stop offset="0.731" stop-color="#22a884"/><stop offset="0.923" stop-color="#2a788e"/><stop offset="1.000" stop-color="#2a788e"/></linearGradient><linearGradient id="g166" href="#gv"><stop offset="0.000" stop-color="#27ad81"/><stop offset="0.692" stop-color="#24aa83"/><stop offset="0.731" stop-color="#21a585"/><stop offset="0.923" stop-color="#2a788e"/><stop offset="1.000" stop-color="#2a788e"/></linearGradient><linearGradient id="g167" href="#gv"><stop offset="0.000" stop-color="#25ac82"/><stop offset="0.500" stop-color="#25ac82"/><stop offset="0.692" stop-color="#22a884"/><stop offset="0.731" stop-color="#20a386"/><stop offset="0.923" stop-color="#2a788e"/><stop offset="1.000" stop-color="#2a788e"/></linearGradient><linearGradient id="g168" href="#gv"><stop offset="0.000" stop-color="#23a983"/><stop offset="0.692" stop-color="#22a785"/><stop offset="0.731" stop-color="#20a386"/><stop offset="0.923" stop-color="#2a788e"/><stop offset="1.000" stop-color="#2a788e"/></linearGradient><linearGradient id="g169" href="#gv"><stop offset="0.000" stop-color="#23a983"/><stop offset="0.692" stop-color="#25ab82"/><stop offset="0.731" stop-color="#22a785"/><stop offset="0.846" stop-color="#238a8d"/><stop offset="0.885" stop-color="#287c8e"/><stop offset="0.923" stop-color="#31678e"/><stop offset="0.962" stop-color="#355f8d"/><stop offset="1.000" stop-color="#355f8d"/></linearGradient><linearGradient id="g170" href="#gv"><stop offset="0.000" stop-color="#24aa83"/><stop offset="0.692" stop-color="#24aa83"/><stop offset="0.731" stop-color="#21a685"/><stop offset="0.808" stop-color="#20928c"/><stop offset="0.885" stop-color="#2f6c8e"/><stop offset="0.923" stop-color="#33628d"/><stop offset="1.000" stop-color="#355f8d"/></linearGradient><linearGradient id="g171" href="#gv"><stop offset="0.000" stop-color="#25ab82"/><stop offset="0.692" stop-color="#25ab82"/><stop offset="0.731" stop-color="#22a785"/><stop offset="0.769" stop-color="#1e9d89"/><stop offset="0.885" stop-color="#2f6c8e"/><stop offset="0.923" stop-color="#33628d"/><stop offset="1.000" stop-color="#355f8d"/></linearGradient><linearGradient id="g172" href="#gv"><stop offset="0.000" stop-color="#26ad81"/><stop offset="0.692" stop-color="#25ac82"/><stop offset="0.731" stop-color="#22a884"/><stop offset="0.769" stop-color="#1f9e89"/><stop offset="0.885" stop-color="#2f6c8e"/><stop offset="0.923" stop-color="#33628d"/><stop offset="1.000" stop-color="#355f8d"/></linearGradient><linearGradient id="g173" href="#gv"><stop offset="0.000" stop-color="#25ac82"/><stop offset="0.500" stop-color="#25ac82"/><stop offset="0.692" stop-color="#22a884"/><stop offset="0.769" stop-color="#1f9a8a"/><stop offset="0.885" stop-color="#2f6b8e"/><stop offset="0.923" stop-color="#33628d"/><stop offset="1.000" stop-color="#355f8d"/></linearGradient><linearGradient id="g174" href="#gv"><stop offset="0.000" stop-color="#25ac82"/><stop offset="0.692" stop-color="#25ac82"/><stop offset="0.731" stop-color="#22a884"/><stop offset="0.808" stop-color="#20938c"/><stop offset="0.885" stop-color="#2f6c8e"/><stop offset="0.923" stop-color="#33628d"/><stop offset="1.000" stop-color="#355f8d"/></linearGradient><linearGradient id="g175" href="#gv"><stop offset="0.000" stop-color="#25ac82"/><stop offset="0.692" stop-color="#22a884"/><stop offset="0.731" stop-color="#20a486"/><stop offset="0.846" stop-color="#24878e"/><stop offset="0.885" stop-color="#297b8e"/><stop offset="0.923" stop-color="#31678e"/><stop offset="0.962" stop-color="#355f8d"/><stop offset="1.000" stop-color="#355f8d"/></linearGradient><linearGradient id="g176" href="#gv"><stop offset="0.000" stop-color="#25ab82"/><stop offset="0.692" stop-color="#26ad81"/><stop offset="0.731" stop-color="#23a983"/><stop offset="0.923" stop-color="#2a788e"/><stop offset="1.000" stop-color="#2a788e"/></linearGradient><linearGradient id="g177" href="#gv"><stop offset="0.000" stop-color="#24aa83"/><stop offset="0.692" stop-color="#24aa83"/><stop offset="0.731" stop-color="#21a685"/><stop offset="0.923" stop-color="#2a788e"/><stop offset="1.000" stop-color="#2a788e"/></linearGradient><linearGradient id="g178" href="#gv"><stop offset="0.000" stop-color="#23a983"/><stop offset="0.692" stop-color="#23a983"/><stop offset="0.731" stop-color="#21a585"/><stop offset="0.923" stop-color="#2a788e"/><stop offset="1.000" stop-color="#2a788e"/></linearGradient><linearGradient id="g179" href="#gv"><stop offset="0.000" stop-color="#22a884"/><stop offset="0.692" stop-color="#23a983"/><stop offset="0.731" stop-color="#21a585"/><stop offset="0.923" stop-color="#2a788e"/><stop offset="1.000" stop-color="#2a788e"/></linearGradient><linearGradient id="g180" href="#gv"><stop offset="0.000" stop-color="#21a585"/><stop offset="0.692" stop-color="#21a685"/><stop offset="0.731" stop-color="#20a386"/><stop offset="0.923" stop-color="#2a788e"/><stop offset="1.000" stop-color="#2b758e"/></linearGradient><linearGradient id="g181" href="#gv"><stop offset="0.000" stop-color="#23a983"/><stop offset="0.692" stop-color="#23a983"/><stop offset="0.731" stop-color="#21a685"/><stop offset="0.885" stop-color="#27808e"/><stop offset="0.962" stop-color="#31678e"/><stop offset="1.000" stop-color="#31678e"/></linearGradient><linearGradient id="g182" href="#gv"><stop offset="0.000" stop-color="#28ae80"/><stop offset="0.692" stop-color="#28ae80"/><stop offset="0.731" stop-color="#25ab82"/><stop offset="0.846" stop-color="#228b8d"/><stop offset="0.923" stop-color="#306a8e"/><stop offset="1.000" stop-color="#31678e"/></linearGradient><linearGradient id="g183" href="#gv"><stop offset="0.000" stop-color="#27ad81"/><stop offset="0.692" stop-color="#25ac82"/><stop offset="0.731" stop-color="#22a884"/><stop offset="0.808" stop-color="#20938c"/><stop offset="0.885" stop-color="#2c718e"/><stop offset="0.923" stop-color="#306a8e"/><stop offset="1.000" stop-color="#31678e"/></linearGradient><linearGradient id="g184" href="#gv"><stop offset="0.000" stop-color="#29af7f"/><stop offset="0.692" stop-color="#26ad81"/><stop offset="0.731" stop-color="#23a983"/><stop offset="0.769" stop-color="#1f9e89"/><stop offset="0.885" stop-color="#2c718e"/><stop offset="0.923" stop-color="#306a8e"/><stop offset="1.000" stop-color="#31678e"/></linearGradient><linearGradient id="g185" href="#gv"><stop offset="0.000" stop-color="#2eb37c"/><stop offset="0.692" stop-color="#2fb47c"/><stop offset="0.731" stop-color="#29af7f"/><stop offset="0.769" stop-color="#20a486"/><stop offset="0.885" stop-color="#2c728e"/><stop offset="0.923" stop-color="#306a8e"/><stop offset="1.000" stop-color="#31678e"/></linearGradient><linearGradient id="g186" href="#gv"><stop offset="0.000" stop-color="#2cb17e"/><stop offset="0.692" stop-color="#2fb47c"/><stop offset="0.731" stop-color="#2ab07f"/><stop offset="0.769" stop-color="#21a585"/><stop offset="0.885" stop-color="#2c728e"/><stop offset="0.923" stop-color="#306a8e"/><stop offset="1.000" stop-color="#31678e"/></linearGradient><linearGradient id="g187" href="#gv"><stop offset="0.000" stop-color="#2cb17e"/><stop offset="0.692" stop-color="#2eb37c"/><stop offset="0.731" stop-color="#29af7f"/><stop offset="0.769" stop-color="#20a386"/><stop offset="0.885" stop-color="#2c728e"/><stop offset="0.923" stop-color="#306a8e"/><stop offset="1.000" stop-color="#31678e"/></linearGradient><linearGradient id="g188" href="#gv"><stop offset="0.000" stop-color="#2fb47c"/><stop offset="0.692" stop-color="#2eb37c"/><stop offset="0.731" stop-color="#29af7f"/><stop offset="0.769" stop-color="#20a386"/><stop offset="0.885" stop-color="#2c728e"/><stop offset="0.923" stop-color="#306a8e"/><stop offset="1.000" stop-color="#31678e"/></linearGradient><linearGradient id="g189" href="#gv"><stop offset="0.000" stop-color="#2db27d"/><stop offset="0.692" stop-color="#2fb47c"/><stop offset="0.731" stop-color="#29af7f"/><stop offset="0.808" stop-color="#1f988b"/><stop offset="0.846" stop-color="#26828e"/><stop offset="0.885" stop-color="#2c728e"/><stop offset="0.923" stop-color="#306a8e"/><stop offset="1.000" stop-color="#31678e"/></linearGradient><linearGradient id="g190" href="#gv"><stop offset="0.000" stop-color="#2eb37c"/><stop offset="0.692" stop-color="#2db27d"/><stop offset="0.731" stop-color="#27ad81"/><stop offset="0.808" stop-color="#1f978b"/><stop offset="0.846" stop-color="#228b8d"/><stop offset="0.885" stop-color="#2b748e"/><stop offset="0.923" stop-color="#306a8e"/><stop offset="1.000" stop-color="#31678e"/></linearGradient><linearGradient id="g191" href="#gv"><stop offset="0.000" stop-color="#2ab07f"/><stop offset="0.692" stop-color="#2cb17e"/><stop offset="0.731" stop-color="#27ad81"/><stop offset="0.769" stop-color="#1fa287"/><stop offset="0.885" stop-color="#26818e"/><stop offset="0.923" stop-color="#2e6f8e"/><stop offset="0.962" stop-color="#31678e"/><stop offset="1.000" stop-color="#31678e"/></linearGradient><linearGradient id="g192" href="#gv"><stop offset="0.000" stop-color="#2eb37c"/><stop offset="0.692" stop-color="#2db27d"/><stop offset="0.731" stop-color="#27ad81"/><stop offset="0.923" stop-color="#2a788e"/><stop offset="0.962" stop-color="#2d718e"/><stop offset="1.000" stop-color="#2d718e"/></linearGradient><linearGradient id="g193" href="#gv"><stop offset="0.000" stop-color="#31b57b"/><stop offset="0.692" stop-color="#31b57b"/><stop offset="0.731" stop-color="#2ab07f"/><stop offset="0.923" stop-color="#2a788e"/><stop offset="1.000" stop-color="#2a788e"/></linearGradient><linearGradient id="g194" href="#gv"><stop offset="0.000" stop-color="#34b679"/><stop offset="0.692" stop-color="#3aba76"/><stop offset="0.731" stop-color="#35b779"/><stop offset="0.923" stop-color="#228c8d"/><stop offset="1.000" stop-color="#228c8d"/></linearGradient><linearGradient id="g195" href="#gv"><stop offset="0.000" stop-color="#2fb47c"/><stop offset="0.692" stop-color="#32b67a"/><stop offset="0.923" stop-color="#1e9c89"/><stop offset="1.000" stop-color="#1e9c89"/></linearGradient><linearGradient id="g196" href="#gv"><stop offset="0.000" stop-color="#27ad81"/><stop offset="0.231" stop-color="#25ab82"/><stop offset="0.615" stop-color="#228b8d"/><stop offset="1.000" stop-color="#238a8d"/></linearGradient><linearGradient id="g197" href="#gv"><stop offset="0.000" stop-color="#21a585"/><stop offset="0.231" stop-color="#20a386"/><stop offset="0.615" stop-color="#25848e"/><stop offset="1.000" stop-color="#25848e"/></linearGradient><linearGradient id="g198" href="#gv"><stop offset="0.000" stop-color="#1f9f88"/><stop offset="0.231" stop-color="#1f9e89"/><stop offset="0.615" stop-color="#25848e"/><stop offset="1.000" stop-color="#25848e"/></linearGradient><linearGradient id="g199" href="#gv"><stop offset="0.000" stop-color="#1f9a8a"/><stop offset="0.231" stop-color="#1f988b"/><stop offset="0.615" stop-color="#25848e"/><stop offset="1.000" stop-color="#25848e"/></linearGradient><linearGradient id="g200" href="#gv"><stop offset="0.000" stop-color="#1fa188"/><stop offset="0.231" stop-color="#1f9f88"/><stop offset="0.615" stop-color="#25848e"/><stop offset="1.000" stop-color="#25848e"/></linearGradient><linearGradient id="g201" href="#gv"><stop offset="0.000" stop-color="#21a585"/><stop offset="0.231" stop-color="#20a386"/><stop offset="0.615" stop-color="#25848e"/><stop offset="1.000" stop-color="#25848e"/></linearGradient><linearGradient id="g202" href="#gv"><stop offset="0.000" stop-color="#22a884"/><stop offset="0.577" stop-color="#1fa287"/><stop offset="1.000" stop-color="#21a585"/></linearGradient><linearGradient id="g203" href="#gv"><stop offset="0.000" stop-color="#26ad81"/><stop offset="0.500" stop-color="#26ad81"/><stop offset="1.000" stop-color="#2db27d"/></linearGradient><linearGradient id="g204" href="#gv"><stop offset="0.000" stop-color="#25ab82"/><stop offset="1.000" stop-color="#29af7f"/></linearGradient><linearGradient id="g205" href="#gv"><stop offset="0.000" stop-color="#29af7f"/><stop offset="1.000" stop-color="#25ab82"/></linearGradient><linearGradient id="g206" href="#gv"><stop offset="0.000" stop-color="#3aba76"/><stop offset="1.000" stop-color="#42be71"/></linearGradient><linearGradient id="g207" href="#gv"><stop offset="0.000" stop-color="#3aba76"/><stop offset="0.500" stop-color="#3aba76"/><stop offset="1.000" stop-color="#29af7f"/></linearGradient><linearGradient id="g208" href="#gv"><stop offset="0.000" stop-color="#3aba76"/><stop offset="0.500" stop-color="#3aba76"/><stop offset="1.000" stop-color="#2db27d"/></linearGradient><linearGradient id="g209" href="#gv"><stop offset="0.000" stop-color="#40bd72"/><stop offset="1.000" stop-color="#4ac16d"/></linearGradient><linearGradient id="g210" href="#gv"><stop offset="0.000" stop-color="#3fbc73"/><stop offset="1.000" stop-color="#35b779"/></linearGradient><linearGradient id="g211" href="#gv"><stop offset="0.000" stop-color="#34b679"/><stop offset="1.000" stop-color="#2eb37c"/></linearGradient><linearGradient id="g212" href="#gv"><stop offset="0.000" stop-color="#29af7f"/><stop offset="0.500" stop-color="#29af7f"/><stop offset="1.000" stop-color="#23a983"/></linearGradient><linearGradient id="g213" href="#gv"><stop offset="0.000" stop-color="#25ac82"/><stop offset="1.000" stop-color="#22a785"/></linearGradient><linearGradient id="g214" href="#gv"><stop offset="0.000" stop-color="#26ad81"/><stop offset="0.500" stop-color="#26ad81"/><stop offset="1.000" stop-color="#20a386"/></linearGradient><linearGradient id="g215" href="#gv"><stop offset="0.000" stop-color="#28ae80"/><stop offset="0.500" stop-color="#28ae80"/><stop offset="1.000" stop-color="#35b779"/></linearGradient><linearGradient id="g216" href="#gv"><stop offset="0.000" stop-color="#2ab07f"/><stop offset="1.000" stop-color="#25ac82"/></linearGradient><linearGradient id="g217" href="#gv"><stop offset="0.000" stop-color="#2eb37c"/><stop offset="1.000" stop-color="#29af7f"/></linearGradient><linearGradient id="g218" href="#gv"><stop offset="0.000" stop-color="#32b67a"/><stop offset="1.000" stop-color="#2cb17e"/></linearGradient><linearGradient id="g219" href="#gv"><stop offset="0.000" stop-color="#35b779"/><stop offset="0.269" stop-color="#35b779"/><stop offset="0.846" stop-color="#1fa188"/><stop offset="1.000" stop-color="#1fa187"/></linearGradient><linearGradient id="g220" href="#gv"><stop offset="0.000" stop-color="#2fb47c"/><stop offset="0.269" stop-color="#2fb47c"/><stop offset="0.308" stop-color="#28ae80"/><stop offset="0.846" stop-color="#440256"/><stop offset="1.000" stop-color="#440154"/></linearGradient><linearGradient id="g221" href="#gv"><stop offset="0.000" stop-color="#26ad81"/><stop offset="0.269" stop-color="#26ad81"/><stop offset="0.308" stop-color="#22a785"/><stop offset="0.846" stop-color="#440154"/><stop offset="1.000" stop-color="#440154"/></linearGradient><linearGradient id="g222" href="#gv"><stop offset="0.000" stop-color="#22a785"/><stop offset="0.269" stop-color="#22a785"/><stop offset="0.308" stop-color="#1fa187"/><stop offset="0.808" stop-color="#470d60"/><stop offset="0.846" stop-color="#440154"/><stop offset="1.000" stop-color="#440154"/></linearGradient><linearGradient id="g223" href="#gv"><stop offset="0.000" stop-color="#1f9e89"/><stop offset="0.269" stop-color="#1f9e89"/><stop offset="0.308" stop-color="#1f988b"/><stop offset="0.654" stop-color="#424186"/><stop offset="0.731" stop-color="#482576"/><stop offset="0.846" stop-color="#440154"/><stop offset="1.000" stop-color="#440154"/></linearGradient><linearGradient id="g224" href="#gv"><stop offset="0.000" stop-color="#20928c"/><stop offset="0.269" stop-color="#20928c"/><stop offset="0.308" stop-color="#218e8d"/><stop offset="0.846" stop-color="#440154"/><stop offset="1.000" stop-color="#440154"/></linearGradient><linearGradient id="g225" href="#gv"><stop offset="0.000" stop-color="#24878e"/><stop offset="0.269" stop-color="#24878e"/><stop offset="0.308" stop-color="#26828e"/><stop offset="0.846" stop-color="#440154"/><stop offset="1.000" stop-color="#440154"/></linearGradient><linearGradient id="g226" href="#gv"><stop offset="0.000" stop-color="#26828e"/><stop offset="0.308" stop-color="#277f8e"/><stop offset="0.846" stop-color="#423f85"/><stop offset="1.000" stop-color="#433e85"/></linearGradient><linearGradient id="g227" href="#gv"><stop offset="0.000" stop-color="#287c8e"/><stop offset="1.000" stop-color="#2a788e"/></linearGradient><linearGradient id="g228" href="#gv"><stop offset="0.000" stop-color="#277e8e"/><stop offset="0.577" stop-color="#277e8e"/><stop offset="1.000" stop-color="#2a788e"/></linearGradient><linearGradient id="g229" href="#gv"><stop offset="0.000" stop-color="#277f8e"/><stop offset="0.577" stop-color="#277f8e"/><stop offset="1.000" stop-color="#2a788e"/></linearGradient><linearGradient id="g230" href="#gv"><stop offset="0.000" stop-color="#238a8d"/><stop offset="0.577" stop-color="#238a8d"/><stop offset="0.846" stop-color="#297a8e"/><stop offset="1.000" stop-color="#2a788e"/></linearGradient><linearGradient id="g231" href="#gv"><stop offset="0.000" stop-color="#228d8d"/><stop offset="0.615" stop-color="#228c8d"/><stop offset="0.692" stop-color="#25858e"/><stop offset="0.808" stop-color="#365c8d"/><stop offset="1.000" stop-color="#375b8d"/></linearGradient><linearGradient id="g232" href="#gv"><stop offset="0.000" stop-color="#238a8d"/><stop offset="0.615" stop-color="#23898e"/><stop offset="0.654" stop-color="#26828e"/><stop offset="0.769" stop-color="#365c8d"/><stop offset="0.808" stop-color="#3a548c"/><stop offset="1.000" stop-color="#3a548c"/></linearGradient><linearGradient id="g233" href="#gv"><stop offset="0.000" stop-color="#23898e"/><stop offset="0.615" stop-color="#23888e"/><stop offset="0.654" stop-color="#26828e"/><stop offset="0.769" stop-color="#365c8d"/><stop offset="0.808" stop-color="#3a548c"/><stop offset="1.000" stop-color="#3a548c"/></linearGradient><linearGradient id="g234" href="#gv"><stop offset="0.000" stop-color="#228d8d"/><stop offset="0.577" stop-color="#228d8d"/><stop offset="0.885" stop-color="#2a788e"/><stop offset="1.000" stop-color="#2a788e"/></linearGradient><linearGradient id="g235" href="#gv"><stop offset="0.000" stop-color="#228d8d"/><stop offset="0.577" stop-color="#228d8d"/><stop offset="0.885" stop-color="#2a788e"/><stop offset="1.000" stop-color="#2a788e"/></linearGradient><linearGradient id="g236" href="#gv"><stop offset="0.000" stop-color="#218f8d"/><stop offset="0.577" stop-color="#218f8d"/><stop offset="0.885" stop-color="#2a788e"/><stop offset="1.000" stop-color="#2a788e"/></linearGradient><linearGradient id="g237" href="#gv"><stop offset="0.000" stop-color="#21918c"/><stop offset="0.615" stop-color="#21918c"/><stop offset="0.885" stop-color="#2a788e"/><stop offset="1.000" stop-color="#2a788e"/></linearGradient><linearGradient id="g238" href="#gv"><stop offset="0.000" stop-color="#20928c"/><stop offset="0.692" stop-color="#21908d"/><stop offset="0.769" stop-color="#26818e"/><stop offset="0.846" stop-color="#297a8e"/><stop offset="1.000" stop-color="#2a788e"/></linearGradient><linearGradient id="g239" href="#gv"><stop offset="0.000" stop-color="#1f958b"/><stop offset="0.500" stop-color="#1f958b"/><stop offset="0.731" stop-color="#21918c"/><stop offset="0.769" stop-color="#21908d"/><stop offset="0.846" stop-color="#297a8e"/><stop offset="1.000" stop-color="#2a788e"/></linearGradient><linearGradient id="g240" href="#gv"><stop offset="0.000" stop-color="#1f9a8a"/><stop offset="0.808" stop-color="#1f9e89"/><stop offset="0.846" stop-color="#1e9c89"/><stop offset="0.885" stop-color="#228d8d"/><stop offset="1.000" stop-color="#218e8d"/></linearGradient><linearGradient id="g241" href="#gv"><stop offset="0.000" stop-color="#1f9e89"/><stop offset="0.500" stop-color="#1f9e89"/><stop offset="1.000" stop-color="#1f968b"/></linearGradient><linearGradient id="g242" href="#gv"><stop offset="0.000" stop-color="#1fa188"/><stop offset="1.000" stop-color="#1e9b8a"/></linearGradient><linearGradient id="g243" href="#gv"><stop offset="0.000" stop-color="#1f9e89"/><stop offset="1.000" stop-color="#1f9a8a"/></linearGradient><linearGradient id="g244" href="#gv"><stop offset="0.000" stop-color="#1fa088"/><stop offset="1.000" stop-color="#1e9c89"/></linearGradient><linearGradient id="g245" href="#gv"><stop offset="0.000" stop-color="#1fa088"/><stop offset="1.000" stop-color="#1f998a"/></linearGradient><linearGradient id="g246" href="#gv"><stop offset="0.000" stop-color="#1fa088"/><stop offset="1.000" stop-color="#21a585"/></linearGradient><linearGradient id="g247" href="#gv"><stop offset="0.000" stop-color="#1e9d89"/><stop offset="1.000" stop-color="#1f988b"/></linearGradient><linearGradient id="g248" href="#gv"><stop offset="0.000" stop-color="#23a983"/><stop offset="1.000" stop-color="#21a685"/></linearGradient><linearGradient id="g249" href="#gv"><stop offset="0.000" stop-color="#29af7f"/><stop offset="1.000" stop-color="#2eb37c"/></linearGradient><linearGradient id="g250" href="#gv"><stop offset="0.000" stop-color="#35b779"/><stop offset="1.000" stop-color="#2eb37c"/></linearGradient><linearGradient id="g251" href="#gv"><stop offset="0.000" stop-color="#35b779"/><stop offset="1.000" stop-color="#2fb47c"/></linearGradient><linearGradient id="g252" href="#gv"><stop offset="0.000" stop-color="#2fb47c"/><stop offset="0.500" stop-color="#2fb47c"/><stop offset="1.000" stop-color="#25ac82"/></linearGradient><linearGradient id="g253" href="#gv"><stop offset="0.000" stop-color="#2ab07f"/><stop offset="1.000" stop-color="#31b57b"/></linearGradient><linearGradient id="g254" href="#gv"><stop offset="0.000" stop-color="#2ab07f"/><stop offset="1.000" stop-color="#27ad81"/></linearGradient><linearGradient id="g255" href="#gv"><stop offset="0.000" stop-color="#31b57b"/><stop offset="1.000" stop-color="#35b779"/></linearGradient><linearGradient id="g256" href="#gv"><stop offset="0.000" stop-color="#31b57b"/><stop offset="0.500" stop-color="#31b57b"/><stop offset="1.000" stop-color="#3dbc74"/></linearGradient><linearGradient id="g257" href="#gv"><stop offset="0.000" stop-color="#34b679"/><stop offset="0.500" stop-color="#34b679"/><stop offset="1.000" stop-color="#2ab07f"/></linearGradient><linearGradient id="g258" href="#gv"><stop offset="0.000" stop-color="#35b779"/><stop offset="1.000" stop-color="#3bbb75"/></linearGradient><linearGradient id="g259" href="#gv"><stop offset="0.000" stop-color="#50c46a"/><stop offset="1.000" stop-color="#56c667"/></linearGradient><linearGradient id="g260" href="#gv"><stop offset="0.000" stop-color="#56c667"/><stop offset="1.000" stop-color="#50c46a"/></linearGradient><linearGradient id="g261" href="#gv"><stop offset="0.000" stop-color="#52c569"/><stop offset="0.500" stop-color="#52c569"/><stop offset="1.000" stop-color="#46c06f"/></linearGradient><linearGradient id="g262" href="#gv"><stop offset="0.000" stop-color="#48c16e"/><stop offset="1.000" stop-color="#40bd72"/></linearGradient><linearGradient id="g263" href="#gv"><stop offset="0.000" stop-color="#42be71"/><stop offset="1.000" stop-color="#4ac16d"/></linearGradient><linearGradient id="g264" href="#gv"><stop offset="0.000" stop-color="#40bd72"/><stop offset="0.500" stop-color="#40bd72"/><stop offset="1.000" stop-color="#50c46a"/></linearGradient><linearGradient id="g265" href="#gv"><stop offset="0.000" stop-color="#3dbc74"/><stop offset="0.500" stop-color="#3dbc74"/><stop offset="1.000" stop-color="#34b679"/></linearGradient><linearGradient id="g266" href="#gv"><stop offset="0.000" stop-color="#34b679"/><stop offset="1.000" stop-color="#2eb37c"/></linearGradient><linearGradient id="g267" href="#gv"><stop offset="0.000" stop-color="#3bbb75"/><stop offset="1.000" stop-color="#42be71"/></linearGradient><linearGradient id="g268" href="#gv"><stop offset="0.000" stop-color="#3fbc73"/><stop offset="0.500" stop-color="#3fbc73"/><stop offset="1.000" stop-color="#4cc26c"/></linearGradient><linearGradient id="g269" href="#gv"><stop offset="0.000" stop-color="#44bf70"/><stop offset="1.000" stop-color="#3bbb75"/></linearGradient><linearGradient id="g270" href="#gv"><stop offset="0.000" stop-color="#52c569"/><stop offset="1.000" stop-color="#4ac16d"/></linearGradient><linearGradient id="g271" href="#gv"><stop offset="0.000" stop-color="#58c765"/><stop offset="1.000" stop-color="#63cb5f"/></linearGradient><linearGradient id="g272" href="#gv"><stop offset="0.000" stop-color="#58c765"/><stop offset="1.000" stop-color="#50c46a"/></linearGradient><linearGradient id="g273" href="#gv"><stop offset="0.000" stop-color="#63cb5f"/><stop offset="0.500" stop-color="#63cb5f"/><stop offset="1.000" stop-color="#54c568"/></linearGradient><linearGradient id="g274" href="#gv"><stop offset="0.000" stop-color="#56c667"/><stop offset="0.500" stop-color="#56c667"/><stop offset="1.000" stop-color="#65cb5e"/></linearGradient><linearGradient id="g275" href="#gv"><stop offset="0.000" stop-color="#5cc863"/><stop offset="1.000" stop-color="#56c667"/></linearGradient><linearGradient id="g276" href="#gv"><stop offset="0.000" stop-color="#5cc863"/><stop offset="0.500" stop-color="#5cc863"/><stop offset="1.000" stop-color="#48c16e"/></linearGradient><linearGradient id="g277" href="#gv"><stop offset="0.000" stop-color="#56c667"/><stop offset="1.000" stop-color="#4ac16d"/></linearGradient><linearGradient id="g278" href="#gv"><stop offset="0.000" stop-color="#52c569"/><stop offset="1.000" stop-color="#4ac16d"/></linearGradient><linearGradient id="g279" href="#gv"><stop offset="0.000" stop-color="#52c569"/><stop offset="0.808" stop-color="#54c568"/><stop offset="0.846" stop-color="#3bbb75"/><stop offset="1.000" stop-color="#3bbb75"/></linearGradient><linearGradient id="g280" href="#gv"><stop offset="0.000" stop-color="#4cc26c"/><stop offset="0.731" stop-color="#4ec36b"/><stop offset="0.808" stop-color="#1fa188"/><stop offset="0.846" stop-color="#1f958b"/><stop offset="1.000" stop-color="#1f958b"/></linearGradient><linearGradient id="g281" href="#gv"><stop offset="0.000" stop-color="#50c46a"/><stop offset="0.692" stop-color="#4ac16d"/><stop offset="0.731" stop-color="#44bf70"/><stop offset="0.808" stop-color="#1fa088"/><stop offset="0.846" stop-color="#1f958b"/><stop offset="1.000" stop-color="#1f958b"/></linearGradient><linearGradient id="g282" href="#gv"><stop offset="0.000" stop-color="#50c46a"/><stop offset="0.731" stop-color="#52c569"/><stop offset="0.769" stop-color="#46c06f"/><stop offset="0.808" stop-color="#1fa187"/><stop offset="0.846" stop-color="#1f958b"/><stop offset="1.000" stop-color="#1f958b"/></linearGradient><linearGradient id="g283" href="#gv"><stop offset="0.000" stop-color="#4ec36b"/><stop offset="1.000" stop-color="#44bf70"/></linearGradient><linearGradient id="g284" href="#gv"><stop offset="0.000" stop-color="#50c46a"/><stop offset="0.500" stop-color="#50c46a"/><stop offset="1.000" stop-color="#60ca60"/></linearGradient><linearGradient id="g285" href="#gv"><stop offset="0.000" stop-color="#56c667"/><stop offset="1.000" stop-color="#4ec36b"/></linearGradient><linearGradient id="g286" href="#gv"><stop offset="0.000" stop-color="#56c667"/><stop offset="1.000" stop-color="#5cc863"/></linearGradient><linearGradient id="g287" href="#gv"><stop offset="0.000" stop-color="#52c569"/><stop offset="1.000" stop-color="#58c765"/></linearGradient><linearGradient id="g288" href="#gv"><stop offset="0.000" stop-color="#54c568"/><stop offset="1.000" stop-color="#4cc26c"/></linearGradient><linearGradient id="g289" href="#gv"><stop offset="0.000" stop-color="#50c46a"/><stop offset="0.500" stop-color="#50c46a"/><stop offset="1.000" stop-color="#73d056"/></linearGradient><linearGradient id="g290" href="#gv"><stop offset="0.000" stop-color="#52c569"/><stop offset="1.000" stop-color="#4ac16d"/></linearGradient><linearGradient id="g291" href="#gv"><stop offset="0.000" stop-color="#54c568"/><stop offset="1.000" stop-color="#5cc863"/></linearGradient><linearGradient id="g292" href="#gv"><stop offset="0.000" stop-color="#54c568"/><stop offset="1.000" stop-color="#5ec962"/></linearGradient><linearGradient id="g293" href="#gv"><stop offset="0.000" stop-color="#5ac864"/><stop offset="1.000" stop-color="#52c569"/></linearGradient><linearGradient id="g294" href="#gv"><stop offset="0.000" stop-color="#52c569"/><stop offset="0.500" stop-color="#52c569"/><stop offset="1.000" stop-color="#42be71"/></linearGradient><linearGradient id="g295" href="#gv"><stop offset="0.000" stop-color="#52c569"/><stop offset="0.500" stop-color="#52c569"/><stop offset="1.000" stop-color="#46c06f"/></linearGradient><linearGradient id="g296" href="#gv"><stop offset="0.000" stop-color="#48c16e"/><stop offset="1.000" stop-color="#3fbc73"/></linearGradient><linearGradient id="g297" href="#gv"><stop offset="0.000" stop-color="#48c16e"/><stop offset="1.000" stop-color="#40bd72"/></linearGradient><linearGradient id="g298" href="#gv"><stop offset="0.000" stop-color="#3fbc73"/><stop offset="1.000" stop-color="#46c06f"/></linearGradient><linearGradient id="g299" href="#gv"><stop offset="0.000" stop-color="#40bd72"/><stop offset="1.000" stop-color="#48c16e"/></linearGradient><linearGradient id="g300" href="#gv"><stop offset="0.000" stop-color="#4ac16d"/><stop offset="1.000" stop-color="#42be71"/></linearGradient><linearGradient id="g301" href="#gv"><stop offset="0.000" stop-color="#5ac864"/><stop offset="1.000" stop-color="#63cb5f"/></linearGradient><linearGradient id="g302" href="#gv"><stop offset="0.000" stop-color="#60ca60"/><stop offset="0.538" stop-color="#60ca60"/><stop offset="1.000" stop-color="#73d056"/></linearGradient><linearGradient id="g303" href="#gv"><stop offset="0.000" stop-color="#5ac864"/><stop offset="0.769" stop-color="#58c765"/><stop offset="0.923" stop-color="#75d054"/><stop offset="1.000" stop-color="#75d054"/></linearGradient><linearGradient id="g304" href="#gv"><stop offset="0.000" stop-color="#63cb5f"/><stop offset="0.385" stop-color="#63cb5f"/><stop offset="0.538" stop-color="#86d549"/><stop offset="0.692" stop-color="#86d549"/><stop offset="0.731" stop-color="#7ad151"/><stop offset="0.769" stop-color="#5cc863"/><stop offset="0.923" stop-color="#75d054"/><stop offset="1.000" stop-color="#75d054"/></linearGradient><linearGradient id="g305" href="#gv"><stop offset="0.000" stop-color="#60ca60"/><stop offset="0.385" stop-color="#60ca60"/><stop offset="0.538" stop-color="#86d549"/><stop offset="0.692" stop-color="#86d549"/><stop offset="0.769" stop-color="#65cb5e"/><stop offset="1.000" stop-color="#75d054"/></linearGradient><linearGradient id="g306" href="#gv"><stop offset="0.000" stop-color="#5ec962"/><stop offset="0.538" stop-color="#60ca60"/><stop offset="1.000" stop-color="#75d054"/></linearGradient><linearGradient id="g307" href="#gv"><stop offset="0.000" stop-color="#5ac864"/><stop offset="0.769" stop-color="#58c765"/><stop offset="0.923" stop-color="#75d054"/><stop offset="1.000" stop-color="#75d054"/></linearGradient><linearGradient id="g308" href="#gv"><stop offset="0.000" stop-color="#5cc863"/><stop offset="0.538" stop-color="#5ec962"/><stop offset="1.000" stop-color="#75d054"/></linearGradient><linearGradient id="g309" href="#gv"><stop offset="0.000" stop-color="#5cc863"/><stop offset="0.731" stop-color="#65cb5e"/><stop offset="0.769" stop-color="#6ece58"/><stop offset="0.808" stop-color="#9bd93c"/><stop offset="1.000" stop-color="#9bd93c"/></linearGradient><linearGradient id="g310" href="#gv"><stop offset="0.000" stop-color="#58c765"/><stop offset="0.308" stop-color="#58c765"/><stop offset="0.462" stop-color="#7ad151"/><stop offset="0.500" stop-color="#93d741"/><stop offset="0.538" stop-color="#ece51b"/><stop offset="0.577" stop-color="#f8e621"/><stop offset="0.654" stop-color="#f8e621"/><stop offset="0.731" stop-color="#bddf26"/><stop offset="0.769" stop-color="#b8de29"/><stop offset="0.808" stop-color="#9bd93c"/><stop offset="1.000" stop-color="#9bd93c"/></linearGradient><linearGradient id="g311" href="#gv"><stop offset="0.000" stop-color="#52c569"/><stop offset="0.500" stop-color="#52c569"/><stop offset="0.769" stop-color="#4ac16d"/><stop offset="0.923" stop-color="#63cb5f"/><stop offset="1.000" stop-color="#63cb5f"/></linearGradient><linearGradient id="g312" href="#gv"><stop offset="0.000" stop-color="#48c16e"/><stop offset="0.500" stop-color="#48c16e"/><stop offset="1.000" stop-color="#3aba76"/></linearGradient><linearGradient id="g313" href="#gv"><stop offset="0.000" stop-color="#4ac16d"/><stop offset="0.500" stop-color="#4ac16d"/><stop offset="1.000" stop-color="#60ca60"/></linearGradient><linearGradient id="g314" href="#gv"><stop offset="0.000" stop-color="#48c16e"/><stop offset="0.500" stop-color="#48c16e"/><stop offset="1.000" stop-color="#5ec962"/></linearGradient><linearGradient id="g315" href="#gv"><stop offset="0.000" stop-color="#4cc26c"/><stop offset="1.000" stop-color="#46c06f"/></linearGradient><linearGradient id="g316" href="#gv"><stop offset="0.000" stop-color="#4cc26c"/><stop offset="0.500" stop-color="#4cc26c"/><stop offset="1.000" stop-color="#3bbb75"/></linearGradient><linearGradient id="g317" href="#gv"><stop offset="0.000" stop-color="#58c765"/><stop offset="1.000" stop-color="#63cb5f"/></linearGradient><linearGradient id="g318" href="#gv"><stop offset="0.000" stop-color="#58c765"/><stop offset="0.500" stop-color="#58c765"/><stop offset="1.000" stop-color="#46c06f"/></linearGradient><linearGradient id="g319" href="#gv"><stop offset="0.000" stop-color="#5ec962"/><stop offset="1.000" stop-color="#65cb5e"/></linearGradient><linearGradient id="g320" href="#gv"><stop offset="0.000" stop-color="#65cb5e"/><stop offset="1.000" stop-color="#58c765"/></linearGradient><linearGradient id="g321" href="#gv"><stop offset="0.000" stop-color="#5ec962"/><stop offset="0.885" stop-color="#63cb5f"/><stop offset="0.923" stop-color="#50c46a"/><stop offset="0.962" stop-color="#1e9d89"/><stop offset="1.000" stop-color="#1e9d89"/></linearGradient><linearGradient id="g322" href="#gv"><stop offset="0.000" stop-color="#63cb5f"/><stop offset="0.500" stop-color="#63cb5f"/><stop offset="0.846" stop-color="#56c667"/><stop offset="0.885" stop-color="#3dbc74"/><stop offset="0.923" stop-color="#21908d"/><stop offset="0.962" stop-color="#25848e"/><stop offset="1.000" stop-color="#25848e"/></linearGradient><linearGradient id="g323" href="#gv"><stop offset="0.000" stop-color="#58c765"/><stop offset="0.808" stop-color="#63cb5f"/><stop offset="0.846" stop-color="#46c06f"/><stop offset="0.885" stop-color="#1f9e89"/><stop offset="0.962" stop-color="#25848e"/><stop offset="1.000" stop-color="#25848e"/></linearGradient><linearGradient id="g324" href="#gv"><stop offset="0.000" stop-color="#63cb5f"/><stop offset="0.769" stop-color="#5cc863"/><stop offset="0.808" stop-color="#48c16e"/><stop offset="0.846" stop-color="#25ab82"/><stop offset="0.923" stop-color="#218f8d"/><stop offset="0.962" stop-color="#25848e"/><stop offset="1.000" stop-color="#25848e"/></linearGradient><linearGradient id="g325" href="#gv"><stop offset="0.000" stop-color="#58c765"/><stop offset="0.731" stop-color="#5ac864"/><stop offset="0.769" stop-color="#54c568"/><stop offset="0.923" stop-color="#218f8d"/><stop offset="0.962" stop-color="#25848e"/><stop offset="1.000" stop-color="#25848e"/></linearGradient><linearGradient id="g326" href="#gv"><stop offset="0.000" stop-color="#60ca60"/><stop offset="0.731" stop-color="#5cc863"/><stop offset="0.769" stop-color="#52c569"/><stop offset="0.923" stop-color="#218f8d"/><stop offset="0.962" stop-color="#25848e"/><stop offset="1.000" stop-color="#25848e"/></linearGradient><linearGradient id="g327" href="#gv"><stop offset="0.000" stop-color="#54c568"/><stop offset="0.731" stop-color="#56c667"/><stop offset="0.769" stop-color="#4cc26c"/><stop offset="0.962" stop-color="#25848e"/><stop offset="1.000" stop-color="#25848e"/></linearGradient><linearGradient id="g328" href="#gv"><stop offset="0.000" stop-color="#4cc26c"/><stop offset="0.654" stop-color="#4cc26c"/><stop offset="0.692" stop-color="#3bbb75"/><stop offset="0.769" stop-color="#20928c"/><stop offset="0.808" stop-color="#25848e"/><stop offset="1.000" stop-color="#25848e"/></linearGradient><linearGradient id="g329" href="#gv"><stop offset="0.000" stop-color="#48c16e"/><stop offset="0.654" stop-color="#48c16e"/><stop offset="0.692" stop-color="#3aba76"/><stop offset="0.769" stop-color="#20928c"/><stop offset="0.808" stop-color="#25848e"/><stop offset="1.000" stop-color="#25848e"/></linearGradient><linearGradient id="g330" href="#gv"><stop offset="0.000" stop-color="#4ac16d"/><stop offset="0.769" stop-color="#46c06f"/><stop offset="0.808" stop-color="#3fbc73"/><stop offset="0.846" stop-color="#22a884"/><stop offset="0.923" stop-color="#228d8d"/><stop offset="0.962" stop-color="#25848e"/><stop offset="1.000" stop-color="#25848e"/></linearGradient><linearGradient id="g331" href="#gv"><stop offset="0.000" stop-color="#46c06f"/><stop offset="0.538" stop-color="#46c06f"/><stop offset="0.846" stop-color="#38b977"/><stop offset="0.885" stop-color="#1fa088"/><stop offset="0.923" stop-color="#228c8d"/><stop offset="0.962" stop-color="#25848e"/><stop offset="1.000" stop-color="#25848e"/></linearGradient><linearGradient id="g332" href="#gv"><stop offset="0.000" stop-color="#3dbc74"/><stop offset="0.885" stop-color="#3bbb75"/><stop offset="0.962" stop-color="#25848e"/><stop offset="1.000" stop-color="#25848e"/></linearGradient><linearGradient id="g333" href="#gv"><stop offset="0.000" stop-color="#48c16e"/><stop offset="0.923" stop-color="#44bf70"/><stop offset="0.962" stop-color="#25ac82"/><stop offset="1.000" stop-color="#25ac82"/></linearGradient><linearGradient id="g334" href="#gv"><stop offset="0.000" stop-color="#44bf70"/><stop offset="0.500" stop-color="#44bf70"/><stop offset="1.000" stop-color="#38b977"/></linearGradient><linearGradient id="g335" href="#gv"><stop offset="0.000" stop-color="#3fbc73"/><stop offset="0.846" stop-color="#3aba76"/><stop offset="0.885" stop-color="#23a983"/><stop offset="0.923" stop-color="#21908d"/><stop offset="0.962" stop-color="#26828e"/><stop offset="1.000" stop-color="#26828e"/></linearGradient><linearGradient id="g336" href="#gv"><stop offset="0.000" stop-color="#4ac16d"/><stop offset="0.615" stop-color="#46c06f"/><stop offset="0.654" stop-color="#32b67a"/><stop offset="0.769" stop-color="#30698e"/><stop offset="0.808" stop-color="#38588c"/><stop offset="1.000" stop-color="#3b528b"/></linearGradient><linearGradient id="g337" href="#gv"><stop offset="0.000" stop-color="#4cc26c"/><stop offset="0.615" stop-color="#4cc26c"/><stop offset="0.654" stop-color="#37b878"/><stop offset="0.769" stop-color="#306a8e"/><stop offset="0.808" stop-color="#38588c"/><stop offset="1.000" stop-color="#3b528b"/></linearGradient><linearGradient id="g338" href="#gv"><stop offset="0.000" stop-color="#58c765"/><stop offset="0.846" stop-color="#54c568"/><stop offset="0.885" stop-color="#20a486"/><stop offset="0.923" stop-color="#2d718e"/><stop offset="0.962" stop-color="#3b528b"/><stop offset="1.000" stop-color="#3b528b"/></linearGradient><linearGradient id="g339" href="#gv"><stop offset="0.000" stop-color="#60ca60"/><stop offset="0.846" stop-color="#60ca60"/><stop offset="0.885" stop-color="#22a884"/><stop offset="0.923" stop-color="#2c718e"/><stop offset="0.962" stop-color="#3b528b"/><stop offset="1.000" stop-color="#3b528b"/></linearGradient><linearGradient id="g340" href="#gv"><stop offset="0.000" stop-color="#60ca60"/><stop offset="0.500" stop-color="#60ca60"/><stop offset="0.846" stop-color="#77d153"/><stop offset="0.962" stop-color="#48c16e"/><stop offset="1.000" stop-color="#48c16e"/></linearGradient><linearGradient id="g341" href="#gv"><stop offset="0.000" stop-color="#63cb5f"/><stop offset="0.731" stop-color="#67cc5c"/><stop offset="0.769" stop-color="#5cc863"/><stop offset="0.885" stop-color="#25ab82"/><stop offset="1.000" stop-color="#25ab82"/></linearGradient><linearGradient id="g342" href="#gv"><stop offset="0.000" stop-color="#60ca60"/><stop offset="0.731" stop-color="#60ca60"/><stop offset="0.769" stop-color="#4ec36b"/><stop offset="0.846" stop-color="#1f958b"/><stop offset="0.885" stop-color="#25848e"/><stop offset="1.000" stop-color="#25848e"/></linearGradient><linearGradient id="g343" href="#gv"><stop offset="0.000" stop-color="#63cb5f"/><stop offset="0.731" stop-color="#5ec962"/><stop offset="0.769" stop-color="#4cc26c"/><stop offset="0.846" stop-color="#1f958b"/><stop offset="0.885" stop-color="#25848e"/><stop offset="1.000" stop-color="#25848e"/></linearGradient><linearGradient id="g344" href="#gv"><stop offset="0.000" stop-color="#69cd5b"/><stop offset="0.731" stop-color="#6ece58"/><stop offset="0.769" stop-color="#5ec962"/><stop offset="0.846" stop-color="#21a685"/><stop offset="0.885" stop-color="#1f988b"/><stop offset="1.000" stop-color="#1f988b"/></linearGradient><linearGradient id="g345" href="#gv"><stop offset="0.000" stop-color="#63cb5f"/><stop offset="1.000" stop-color="#6ece58"/></linearGradient><linearGradient id="g346" href="#gv"><stop offset="0.000" stop-color="#58c765"/><stop offset="0.500" stop-color="#58c765"/><stop offset="1.000" stop-color="#3fbc73"/></linearGradient><linearGradient id="g347" href="#gv"><stop offset="0.000" stop-color="#4ec36b"/><stop offset="1.000" stop-color="#58c765"/></linearGradient><linearGradient id="g348" href="#gv"><stop offset="0.000" stop-color="#50c46a"/><stop offset="1.000" stop-color="#56c667"/></linearGradient><linearGradient id="g349" href="#gv"><stop offset="0.000" stop-color="#56c667"/><stop offset="1.000" stop-color="#4ec36b"/></linearGradient><linearGradient id="g350" href="#gv"><stop offset="0.000" stop-color="#58c765"/><stop offset="0.769" stop-color="#56c667"/><stop offset="1.000" stop-color="#6ccd5a"/></linearGradient><linearGradient id="g351" href="#gv"><stop offset="0.000" stop-color="#58c765"/><stop offset="0.769" stop-color="#52c569"/><stop offset="0.808" stop-color="#56c667"/><stop offset="0.923" stop-color="#98d83e"/><stop offset="1.000" stop-color="#a2da37"/></linearGradient><linearGradient id="g352" href="#gv"><stop offset="0.000" stop-color="#5cc863"/><stop offset="0.769" stop-color="#56c667"/><stop offset="0.808" stop-color="#5ac864"/><stop offset="0.923" stop-color="#9bd93c"/><stop offset="1.000" stop-color="#a2da37"/></linearGradient><linearGradient id="g353" href="#gv"><stop offset="0.000" stop-color="#60ca60"/><stop offset="0.769" stop-color="#65cb5e"/><stop offset="0.808" stop-color="#69cd5b"/><stop offset="0.923" stop-color="#9bd93c"/><stop offset="1.000" stop-color="#a2da37"/></linearGradient><linearGradient id="g354" href="#gv"><stop offset="0.000" stop-color="#60ca60"/><stop offset="0.769" stop-color="#63cb5f"/><stop offset="0.808" stop-color="#69cd5b"/><stop offset="0.923" stop-color="#9bd93c"/><stop offset="1.000" stop-color="#a2da37"/></linearGradient><linearGradient id="g355" href="#gv"><stop offset="0.000" stop-color="#69cd5b"/><stop offset="0.769" stop-color="#60ca60"/><stop offset="0.808" stop-color="#65cb5e"/><stop offset="0.923" stop-color="#9bd93c"/><stop offset="1.000" stop-color="#a2da37"/></linearGradient><linearGradient id="g356" href="#gv"><stop offset="0.000" stop-color="#69cd5b"/><stop offset="0.769" stop-color="#60ca60"/><stop offset="0.808" stop-color="#65cb5e"/><stop offset="0.923" stop-color="#9bd93c"/><stop offset="1.000" stop-color="#a2da37"/></linearGradient><linearGradient id="g357" href="#gv"><stop offset="0.000" stop-color="#70cf57"/><stop offset="0.615" stop-color="#77d153"/><stop offset="0.692" stop-color="#d5e21a"/><stop offset="0.731" stop-color="#dfe318"/><stop offset="1.000" stop-color="#dfe318"/></linearGradient><linearGradient id="g358" href="#gv"><stop offset="0.000" stop-color="#7ad151"/><stop offset="0.615" stop-color="#77d153"/><stop offset="0.692" stop-color="#d2e21b"/><stop offset="0.731" stop-color="#dfe318"/><stop offset="1.000" stop-color="#dfe318"/></linearGradient><linearGradient id="g359" href="#gv"><stop offset="0.000" stop-color="#81d34d"/><stop offset="0.769" stop-color="#7ad151"/><stop offset="0.923" stop-color="#9dd93b"/><stop offset="1.000" stop-color="#a2da37"/></linearGradient><linearGradient id="g360" href="#gv"><stop offset="0.000" stop-color="#84d44b"/><stop offset="1.000" stop-color="#90d743"/></linearGradient><linearGradient id="g361" href="#gv"><stop offset="0.000" stop-color="#7fd34e"/><stop offset="1.000" stop-color="#75d054"/></linearGradient><linearGradient id="g362" href="#gv"><stop offset="0.000" stop-color="#81d34d"/><stop offset="1.000" stop-color="#8bd646"/></linearGradient><linearGradient id="g363" href="#gv"><stop offset="0.000" stop-color="#81d34d"/><stop offset="1.000" stop-color="#8bd646"/></linearGradient><linearGradient id="g364" href="#gv"><stop offset="0.000" stop-color="#75d054"/><stop offset="1.000" stop-color="#81d34d"/></linearGradient><linearGradient id="g365" href="#gv"><stop offset="0.000" stop-color="#54c568"/><stop offset="1.000" stop-color="#4cc26c"/></linearGradient><linearGradient id="g366" href="#gv"><stop offset="0.000" stop-color="#56c667"/><stop offset="1.000" stop-color="#5ec962"/></linearGradient><linearGradient id="g367" href="#gv"><stop offset="0.000" stop-color="#54c568"/><stop offset="1.000" stop-color="#5ec962"/></linearGradient><linearGradient id="g368" href="#gv"><stop offset="0.000" stop-color="#54c568"/><stop offset="0.500" stop-color="#54c568"/><stop offset="1.000" stop-color="#63cb5f"/></linearGradient><linearGradient id="g369" href="#gv"><stop offset="0.000" stop-color="#50c46a"/><stop offset="1.000" stop-color="#4ac16d"/></linearGradient><linearGradient id="g370" href="#gv"><stop offset="0.000" stop-color="#58c765"/><stop offset="1.000" stop-color="#50c46a"/></linearGradient><linearGradient id="g371" href="#gv"><stop offset="0.000" stop-color="#52c569"/><stop offset="1.000" stop-color="#58c765"/></linearGradient><linearGradient id="g372" href="#gv"><stop offset="0.000" stop-color="#4ec36b"/><stop offset="0.500" stop-color="#4ec36b"/><stop offset="1.000" stop-color="#5cc863"/></linearGradient><linearGradient id="g373" href="#gv"><stop offset="0.000" stop-color="#54c568"/><stop offset="0.500" stop-color="#54c568"/><stop offset="1.000" stop-color="#46c06f"/></linearGradient><linearGradient id="g374" href="#gv"><stop offset="0.000" stop-color="#4ec36b"/><stop offset="1.000" stop-color="#56c667"/></linearGradient><linearGradient id="g375" href="#gv"><stop offset="0.000" stop-color="#48c16e"/><stop offset="1.000" stop-color="#50c46a"/></linearGradient><linearGradient id="g376" href="#gv"><stop offset="0.000" stop-color="#48c16e"/><stop offset="0.500" stop-color="#48c16e"/><stop offset="1.000" stop-color="#5ec962"/></linearGradient><linearGradient id="g377" href="#gv"><stop offset="0.000" stop-color="#44bf70"/><stop offset="0.769" stop-color="#3bbb75"/><stop offset="0.808" stop-color="#34b679"/><stop offset="0.885" stop-color="#21918c"/><stop offset="1.000" stop-color="#21918c"/></linearGradient><linearGradient id="g378" href="#gv"><stop offset="0.000" stop-color="#4cc26c"/><stop offset="0.692" stop-color="#48c16e"/><stop offset="0.731" stop-color="#42be71"/><stop offset="0.808" stop-color="#1e9c89"/><stop offset="0.846" stop-color="#1f958b"/><stop offset="0.885" stop-color="#21918c"/><stop offset="1.000" stop-color="#21918c"/></linearGradient><linearGradient id="g379" href="#gv"><stop offset="0.000" stop-color="#48c16e"/><stop offset="0.654" stop-color="#42be71"/><stop offset="0.731" stop-color="#23a983"/><stop offset="0.846" stop-color="#1f948c"/><stop offset="0.885" stop-color="#21918c"/><stop offset="1.000" stop-color="#21918c"/></linearGradient><linearGradient id="g380" href="#gv"><stop offset="0.000" stop-color="#4ac16d"/><stop offset="0.615" stop-color="#44bf70"/><stop offset="0.769" stop-color="#1fa287"/><stop offset="0.846" stop-color="#32658e"/><stop offset="0.885" stop-color="#375a8c"/><stop offset="1.000" stop-color="#375a8c"/></linearGradient><linearGradient id="g381" href="#gv"><stop offset="0.000" stop-color="#4ec36b"/><stop offset="0.538" stop-color="#4ec36b"/><stop offset="0.615" stop-color="#46c06f"/><stop offset="0.654" stop-color="#31b57b"/><stop offset="0.692" stop-color="#1f9e89"/><stop offset="0.769" stop-color="#297b8e"/><stop offset="0.846" stop-color="#34618d"/><stop offset="0.885" stop-color="#375a8c"/><stop offset="1.000" stop-color="#375a8c"/></linearGradient><linearGradient id="g382" href="#gv"><stop offset="0.000" stop-color="#56c667"/><stop offset="0.500" stop-color="#56c667"/><stop offset="0.615" stop-color="#4ac16d"/><stop offset="0.654" stop-color="#31b57b"/><stop offset="0.769" stop-color="#287c8e"/><stop offset="0.846" stop-color="#34618d"/><stop offset="0.885" stop-color="#375a8c"/><stop offset="1.000" stop-color="#375a8c"/></linearGradient><linearGradient id="g383" href="#gv"><stop offset="0.000" stop-color="#5cc863"/><stop offset="0.615" stop-color="#58c765"/><stop offset="0.692" stop-color="#29af7f"/><stop offset="0.769" stop-color="#287d8e"/><stop offset="0.846" stop-color="#34618d"/><stop offset="0.885" stop-color="#375a8c"/><stop offset="1.000" stop-color="#375a8c"/></linearGradient><linearGradient id="g384" href="#gv"><stop offset="0.000" stop-color="#56c667"/><stop offset="0.654" stop-color="#58c765"/><stop offset="0.692" stop-color="#42be71"/><stop offset="0.731" stop-color="#27ad81"/><stop offset="0.808" stop-color="#1f9e89"/><stop offset="0.846" stop-color="#20928c"/><stop offset="0.885" stop-color="#297a8e"/><stop offset="1.000" stop-color="#297a8e"/></linearGradient><linearGradient id="g385" href="#gv"><stop offset="0.000" stop-color="#54c568"/><stop offset="0.731" stop-color="#56c667"/><stop offset="0.769" stop-color="#34b679"/><stop offset="0.808" stop-color="#1f9e89"/><stop offset="0.885" stop-color="#21918c"/><stop offset="1.000" stop-color="#21918c"/></linearGradient><linearGradient id="g386" href="#gv"><stop offset="0.000" stop-color="#4ac16d"/><stop offset="0.808" stop-color="#4ac16d"/><stop offset="0.885" stop-color="#1f968b"/><stop offset="1.000" stop-color="#1f968b"/></linearGradient><linearGradient id="g387" href="#gv"><stop offset="0.000" stop-color="#4ac16d"/><stop offset="1.000" stop-color="#54c568"/></linearGradient><linearGradient id="g388" href="#gv"><stop offset="0.000" stop-color="#46c06f"/><stop offset="1.000" stop-color="#50c46a"/></linearGradient><linearGradient id="g389" href="#gv"><stop offset="0.000" stop-color="#3fbc73"/><stop offset="0.500" stop-color="#3fbc73"/><stop offset="1.000" stop-color="#34b679"/></linearGradient><linearGradient id="g390" href="#gv"><stop offset="0.000" stop-color="#42be71"/><stop offset="1.000" stop-color="#3dbc74"/></linearGradient><linearGradient id="g391" href="#gv"><stop offset="0.000" stop-color="#40bd72"/><stop offset="1.000" stop-color="#48c16e"/></linearGradient><linearGradient id="g392" href="#gv"><stop offset="0.000" stop-color="#3aba76"/><stop offset="1.000" stop-color="#44bf70"/></linearGradient><linearGradient id="g393" href="#gv"><stop offset="0.000" stop-color="#3bbb75"/><stop offset="0.500" stop-color="#3bbb75"/><stop offset="1.000" stop-color="#4ac16d"/></linearGradient><linearGradient id="g394" href="#gv"><stop offset="0.000" stop-color="#3fbc73"/><stop offset="0.500" stop-color="#3fbc73"/><stop offset="1.000" stop-color="#34b679"/></linearGradient><linearGradient id="g395" href="#gv"><stop offset="0.000" stop-color="#42be71"/><stop offset="0.500" stop-color="#42be71"/><stop offset="1.000" stop-color="#35b779"/></linearGradient><linearGradient id="g396" href="#gv"><stop offset="0.000" stop-color="#40bd72"/><stop offset="0.500" stop-color="#40bd72"/><stop offset="1.000" stop-color="#35b779"/></linearGradient><linearGradient id="g397" href="#gv"><stop offset="0.000" stop-color="#3fbc73"/><stop offset="0.500" stop-color="#3fbc73"/><stop offset="1.000" stop-color="#32b67a"/></linearGradient><linearGradient id="g398" href="#gv"><stop offset="0.000" stop-color="#48c16e"/><stop offset="1.000" stop-color="#3fbc73"/></linearGradient><linearGradient id="g399" href="#gv"><stop offset="0.000" stop-color="#48c16e"/><stop offset="0.500" stop-color="#48c16e"/><stop offset="1.000" stop-color="#5ac864"/></linearGradient><linearGradient id="g400" href="#gv"><stop offset="0.000" stop-color="#32b67a"/><stop offset="0.500" stop-color="#32b67a"/><stop offset="1.000" stop-color="#29af7f"/></linearGradient><linearGradient id="g401" href="#gv"><stop offset="0.000" stop-color="#2db27d"/><stop offset="1.000" stop-color="#29af7f"/></linearGradient><linearGradient id="g402" href="#gv"><stop offset="0.000" stop-color="#27ad81"/><stop offset="1.000" stop-color="#23a983"/></linearGradient><linearGradient id="g403" href="#gv"><stop offset="0.000" stop-color="#26ad81"/><stop offset="0.500" stop-color="#26ad81"/><stop offset="1.000" stop-color="#20a486"/></linearGradient><linearGradient id="g404" href="#gv"><stop offset="0.000" stop-color="#22a884"/><stop offset="0.500" stop-color="#22a884"/><stop offset="1.000" stop-color="#29af7f"/></linearGradient><linearGradient id="g405" href="#gv"><stop offset="0.000" stop-color="#22a785"/><stop offset="0.500" stop-color="#22a785"/><stop offset="1.000" stop-color="#1fa088"/></linearGradient><linearGradient id="g406" href="#gv"><stop offset="0.000" stop-color="#22a884"/><stop offset="1.000" stop-color="#1fa287"/></linearGradient><linearGradient id="g407" href="#gv"><stop offset="0.000" stop-color="#26ad81"/><stop offset="1.000" stop-color="#22a884"/></linearGradient><linearGradient id="g408" href="#gv"><stop offset="0.000" stop-color="#2fb47c"/><stop offset="1.000" stop-color="#34b679"/></linearGradient><linearGradient id="g409" href="#gv"><stop offset="0.000" stop-color="#40bd72"/><stop offset="0.500" stop-color="#40bd72"/><stop offset="1.000" stop-color="#35b779"/></linearGradient><linearGradient id="g410" href="#gv"><stop offset="0.000" stop-color="#42be71"/><stop offset="0.500" stop-color="#42be71"/><stop offset="1.000" stop-color="#50c46a"/></linearGradient><linearGradient id="g411" href="#gv"><stop offset="0.000" stop-color="#4ac16d"/><stop offset="1.000" stop-color="#52c569"/></linearGradient><linearGradient id="g412" href="#gv"><stop offset="0.000" stop-color="#4ec36b"/><stop offset="0.500" stop-color="#4ec36b"/><stop offset="1.000" stop-color="#40bd72"/></linearGradient><linearGradient id="g413" href="#gv"><stop offset="0.000" stop-color="#42be71"/><stop offset="1.000" stop-color="#38b977"/></linearGradient><linearGradient id="g414" href="#gv"><stop offset="0.000" stop-color="#3bbb75"/><stop offset="1.000" stop-color="#37b878"/></linearGradient><linearGradient id="g415" href="#gv"><stop offset="0.000" stop-color="#3bbb75"/><stop offset="1.000" stop-color="#44bf70"/></linearGradient><linearGradient id="g416" href="#gv"><stop offset="0.000" stop-color="#3dbc74"/><stop offset="0.500" stop-color="#3dbc74"/><stop offset="1.000" stop-color="#31b57b"/></linearGradient><linearGradient id="g417" href="#gv"><stop offset="0.000" stop-color="#3aba76"/><stop offset="1.000" stop-color="#32b67a"/></linearGradient><linearGradient id="g418" href="#gv"><stop offset="0.000" stop-color="#37b878"/><stop offset="0.500" stop-color="#37b878"/><stop offset="1.000" stop-color="#48c16e"/></linearGradient><linearGradient id="g419" href="#gv"><stop offset="0.000" stop-color="#4cc26c"/><stop offset="1.000" stop-color="#56c667"/></linearGradient><linearGradient id="g420" href="#gv"><stop offset="0.000" stop-color="#54c568"/><stop offset="0.500" stop-color="#54c568"/><stop offset="1.000" stop-color="#48c16e"/></linearGradient><linearGradient id="g421" href="#gv"><stop offset="0.000" stop-color="#60ca60"/><stop offset="0.577" stop-color="#60ca60"/><stop offset="0.846" stop-color="#4ec36b"/><stop offset="1.000" stop-color="#4ec36b"/></linearGradient><linearGradient id="g422" href="#gv"><stop offset="0.000" stop-color="#6ece58"/><stop offset="0.577" stop-color="#6ece58"/><stop offset="0.846" stop-color="#4ec36b"/><stop offset="1.000" stop-color="#4ec36b"/></linearGradient><linearGradient id="g423" href="#gv"><stop offset="0.000" stop-color="#84d44b"/><stop offset="0.577" stop-color="#81d34d"/><stop offset="0.846" stop-color="#4ec36b"/><stop offset="1.000" stop-color="#4ec36b"/></linearGradient><linearGradient id="g424" href="#gv"><stop offset="0.000" stop-color="#86d549"/><stop offset="0.577" stop-color="#86d549"/><stop offset="0.846" stop-color="#4ec36b"/><stop offset="1.000" stop-color="#4ec36b"/></linearGradient><linearGradient id="g425" href="#gv"><stop offset="0.000" stop-color="#84d44b"/><stop offset="0.538" stop-color="#81d34d"/><stop offset="0.808" stop-color="#50c46a"/><stop offset="1.000" stop-color="#4ec36b"/></linearGradient><linearGradient id="g426" href="#gv"><stop offset="0.000" stop-color="#75d054"/><stop offset="0.577" stop-color="#73d056"/><stop offset="0.846" stop-color="#4ec36b"/><stop offset="1.000" stop-color="#4ec36b"/></linearGradient><linearGradient id="g427" href="#gv"><stop offset="0.000" stop-color="#65cb5e"/><stop offset="0.538" stop-color="#65cb5e"/><stop offset="0.769" stop-color="#9bd93c"/><stop offset="1.000" stop-color="#9bd93c"/></linearGradient><linearGradient id="g428" href="#gv"><stop offset="0.000" stop-color="#5ac864"/><stop offset="0.538" stop-color="#5ac864"/><stop offset="0.769" stop-color="#9bd93c"/><stop offset="1.000" stop-color="#9bd93c"/></linearGradient><linearGradient id="g429" href="#gv"><stop offset="0.000" stop-color="#50c46a"/><stop offset="0.538" stop-color="#50c46a"/><stop offset="0.769" stop-color="#9bd93c"/><stop offset="1.000" stop-color="#9bd93c"/></linearGradient><linearGradient id="g430" href="#gv"><stop offset="0.000" stop-color="#46c06f"/><stop offset="0.538" stop-color="#48c16e"/><stop offset="0.769" stop-color="#9bd93c"/><stop offset="1.000" stop-color="#9bd93c"/></linearGradient><linearGradient id="g431" href="#gv"><stop offset="0.000" stop-color="#46c06f"/><stop offset="0.538" stop-color="#46c06f"/><stop offset="0.769" stop-color="#9bd93c"/><stop offset="1.000" stop-color="#9bd93c"/></linearGradient><linearGradient id="g432" href="#gv"><stop offset="0.000" stop-color="#48c16e"/><stop offset="0.538" stop-color="#48c16e"/><stop offset="0.769" stop-color="#63cb5f"/><stop offset="1.000" stop-color="#65cb5e"/></linearGradient><linearGradient id="g433" href="#gv"><stop offset="0.000" stop-color="#44bf70"/><stop offset="1.000" stop-color="#4ac16d"/></linearGradient><linearGradient id="g434" href="#gv"><stop offset="0.000" stop-color="#44bf70"/><stop offset="0.500" stop-color="#44bf70"/><stop offset="1.000" stop-color="#54c568"/></linearGradient><linearGradient id="g435" href="#gv"><stop offset="0.000" stop-color="#5ac864"/><stop offset="0.500" stop-color="#5ac864"/><stop offset="1.000" stop-color="#4ec36b"/></linearGradient><linearGradient id="g436" href="#gv"><stop offset="0.000" stop-color="#5ec962"/><stop offset="0.500" stop-color="#5ec962"/><stop offset="1.000" stop-color="#4cc26c"/></linearGradient><linearGradient id="g437" href="#gv"><stop offset="0.000" stop-color="#67cc5c"/><stop offset="0.500" stop-color="#67cc5c"/><stop offset="1.000" stop-color="#52c569"/></linearGradient><linearGradient id="g438" href="#gv"><stop offset="0.000" stop-color="#69cd5b"/><stop offset="0.500" stop-color="#69cd5b"/><stop offset="1.000" stop-color="#84d44b"/></linearGradient><linearGradient id="g439" href="#gv"><stop offset="0.000" stop-color="#58c765"/><stop offset="1.000" stop-color="#4ec36b"/></linearGradient><linearGradient id="g440" href="#gv"><stop offset="0.000" stop-color="#52c569"/><stop offset="1.000" stop-color="#46c06f"/></linearGradient><linearGradient id="g441" href="#gv"><stop offset="0.000" stop-color="#54c568"/><stop offset="1.000" stop-color="#5ac864"/></linearGradient><linearGradient id="g442" href="#gv"><stop offset="0.000" stop-color="#52c569"/><stop offset="1.000" stop-color="#5ec962"/></linearGradient><linearGradient id="g443" href="#gv"><stop offset="0.000" stop-color="#52c569"/><stop offset="1.000" stop-color="#48c16e"/></linearGradient><linearGradient id="g444" href="#gv"><stop offset="0.000" stop-color="#4ec36b"/><stop offset="1.000" stop-color="#58c765"/></linearGradient><linearGradient id="g445" href="#gv"><stop offset="0.000" stop-color="#4ac16d"/><stop offset="1.000" stop-color="#56c667"/></linearGradient><linearGradient id="g446" href="#gv"><stop offset="0.000" stop-color="#60ca60"/><stop offset="1.000" stop-color="#67cc5c"/></linearGradient><linearGradient id="g447" href="#gv"><stop offset="0.000" stop-color="#60ca60"/><stop offset="1.000" stop-color="#6ece58"/></linearGradient><linearGradient id="g448" href="#gv"><stop offset="0.000" stop-color="#65cb5e"/><stop offset="0.500" stop-color="#65cb5e"/><stop offset="1.000" stop-color="#81d34d"/></linearGradient><linearGradient id="g449" href="#gv"><stop offset="0.000" stop-color="#58c765"/><stop offset="1.000" stop-color="#52c569"/></linearGradient><linearGradient id="g450" href="#gv"><stop offset="0.000" stop-color="#58c765"/><stop offset="0.500" stop-color="#58c765"/><stop offset="1.000" stop-color="#44bf70"/></linearGradient><linearGradient id="g451" href="#gv"><stop offset="0.000" stop-color="#52c569"/><stop offset="1.000" stop-color="#4ac16d"/></linearGradient><linearGradient id="g452" href="#gv"><stop offset="0.000" stop-color="#4ac16d"/><stop offset="1.000" stop-color="#52c569"/></linearGradient><linearGradient id="g453" href="#gv"><stop offset="0.000" stop-color="#48c16e"/><stop offset="1.000" stop-color="#52c569"/></linearGradient><linearGradient id="g454" href="#gv"><stop offset="0.000" stop-color="#46c06f"/><stop offset="1.000" stop-color="#50c46a"/></linearGradient><linearGradient id="g455" href="#gv"><stop offset="0.000" stop-color="#3fbc73"/><stop offset="1.000" stop-color="#38b977"/></linearGradient><linearGradient id="g456" href="#gv"><stop offset="0.000" stop-color="#46c06f"/><stop offset="0.500" stop-color="#46c06f"/><stop offset="1.000" stop-color="#54c568"/></linearGradient><linearGradient id="g457" href="#gv"><stop offset="0.000" stop-color="#42be71"/><stop offset="1.000" stop-color="#3aba76"/></linearGradient><linearGradient id="g458" href="#gv"><stop offset="0.000" stop-color="#4ec36b"/><stop offset="0.500" stop-color="#4ec36b"/><stop offset="1.000" stop-color="#3dbc74"/></linearGradient><linearGradient id="g459" href="#gv"><stop offset="0.000" stop-color="#50c46a"/><stop offset="1.000" stop-color="#56c667"/></linearGradient><linearGradient id="g460" href="#gv"><stop offset="0.000" stop-color="#3fbc73"/><stop offset="0.500" stop-color="#3fbc73"/><stop offset="1.000" stop-color="#34b679"/></linearGradient><linearGradient id="g461" href="#gv"><stop offset="0.000" stop-color="#38b977"/><stop offset="1.000" stop-color="#40bd72"/></linearGradient><linearGradient id="g462" href="#gv"><stop offset="0.000" stop-color="#3bbb75"/><stop offset="0.500" stop-color="#3bbb75"/><stop offset="1.000" stop-color="#2fb47c"/></linearGradient><linearGradient id="g463" href="#gv"><stop offset="0.000" stop-color="#3aba76"/><stop offset="1.000" stop-color="#44bf70"/></linearGradient><linearGradient id="g464" href="#gv"><stop offset="0.000" stop-color="#3bbb75"/><stop offset="1.000" stop-color="#42be71"/></linearGradient><linearGradient id="g465" href="#gv"><stop offset="0.000" stop-color="#34b679"/><stop offset="0.731" stop-color="#37b878"/><stop offset="1.000" stop-color="#25ab82"/></linearGradient><linearGradient id="g466" href="#gv"><stop offset="0.000" stop-color="#34b679"/><stop offset="0.731" stop-color="#31b57b"/><stop offset="0.923" stop-color="#1fa287"/><stop offset="1.000" stop-color="#1fa188"/></linearGradient><linearGradient id="g467" href="#gv"><stop offset="0.000" stop-color="#38b977"/><stop offset="0.731" stop-color="#3aba76"/><stop offset="0.769" stop-color="#37b878"/><stop offset="0.923" stop-color="#20a386"/><stop offset="1.000" stop-color="#1fa188"/></linearGradient><linearGradient id="g468" href="#gv"><stop offset="0.000" stop-color="#32b67a"/><stop offset="0.731" stop-color="#31b57b"/><stop offset="0.923" stop-color="#1fa287"/><stop offset="1.000" stop-color="#1fa188"/></linearGradient><linearGradient id="g469" href="#gv"><stop offset="0.000" stop-color="#37b878"/><stop offset="0.500" stop-color="#37b878"/><stop offset="0.731" stop-color="#44bf70"/><stop offset="0.769" stop-color="#40bd72"/><stop offset="0.923" stop-color="#20a386"/><stop offset="1.000" stop-color="#1fa188"/></linearGradient><linearGradient id="g470" href="#gv"><stop offset="0.000" stop-color="#32b67a"/><stop offset="0.731" stop-color="#31b57b"/><stop offset="0.923" stop-color="#1fa287"/><stop offset="1.000" stop-color="#1fa188"/></linearGradient><linearGradient id="g471" href="#gv"><stop offset="0.000" stop-color="#37b878"/><stop offset="0.731" stop-color="#32b67a"/><stop offset="0.923" stop-color="#1fa287"/><stop offset="1.000" stop-color="#1fa188"/></linearGradient><linearGradient id="g472" href="#gv"><stop offset="0.000" stop-color="#3bbb75"/><stop offset="0.731" stop-color="#3aba76"/><stop offset="0.923" stop-color="#1fa287"/><stop offset="1.000" stop-color="#1fa188"/></linearGradient><linearGradient id="g473" href="#gv"><stop offset="0.000" stop-color="#3bbb75"/><stop offset="0.731" stop-color="#42be71"/><stop offset="0.769" stop-color="#3fbc73"/><stop offset="0.923" stop-color="#20a386"/><stop offset="1.000" stop-color="#1fa188"/></linearGradient><linearGradient id="g474" href="#gv"><stop offset="0.000" stop-color="#46c06f"/><stop offset="0.731" stop-color="#44bf70"/><stop offset="0.769" stop-color="#3fbc73"/><stop offset="0.923" stop-color="#20a386"/><stop offset="1.000" stop-color="#1fa188"/></linearGradient><linearGradient id="g475" href="#gv"><stop offset="0.000" stop-color="#48c16e"/><stop offset="0.500" stop-color="#48c16e"/><stop offset="0.731" stop-color="#3dbc74"/><stop offset="0.923" stop-color="#20a386"/><stop offset="1.000" stop-color="#1fa187"/></linearGradient><linearGradient id="g476" href="#gv"><stop offset="0.000" stop-color="#3fbc73"/><stop offset="0.731" stop-color="#46c06f"/><stop offset="1.000" stop-color="#2fb47c"/></linearGradient><linearGradient id="g477" href="#gv"><stop offset="0.000" stop-color="#48c16e"/><stop offset="1.000" stop-color="#50c46a"/></linearGradient><linearGradient id="g478" href="#gv"><stop offset="0.000" stop-color="#46c06f"/><stop offset="1.000" stop-color="#3fbc73"/></linearGradient><linearGradient id="g479" href="#gv"><stop offset="0.000" stop-color="#44bf70"/><stop offset="1.000" stop-color="#3bbb75"/></linearGradient><linearGradient id="g480" href="#gv"><stop offset="0.000" stop-color="#40bd72"/><stop offset="1.000" stop-color="#48c16e"/></linearGradient>
<linearGradient id="cb" x1="0" x2="0" y1="0" y2="1"><stop offset="0.0000" stop-color="#fde725"/><stop offset="0.0312" stop-color="#ece51b"/><stop offset="0.0625" stop-color="#d8e219"/><stop offset="0.0938" stop-color="#c2df23"/><stop offset="0.1250" stop-color="#addc30"/><stop offset="0.1562" stop-color="#98d83e"/><stop offset="0.1875" stop-color="#84d44b"/><stop offset="0.2188" stop-color="#70cf57"/><stop offset="0.2500" stop-color="#5ec962"/><stop offset="0.2812" stop-color="#4ec36b"/><stop offset="0.3125" stop-color="#3fbc73"/><stop offset="0.3438" stop-color="#32b67a"/><stop offset="0.3750" stop-color="#28ae80"/><stop offset="0.4062" stop-color="#22a785"/><stop offset="0.4375" stop-color="#1fa088"/><stop offset="0.4688" stop-color="#1f988b"/><stop offset="0.5000" stop-color="#21918c"/><stop offset="0.5312" stop-color="#23898e"/><stop offset="0.5625" stop-color="#26828e"/><stop offset="0.5938" stop-color="#297a8e"/><stop offset="0.6250" stop-color="#2c728e"/><stop offset="0.6562" stop-color="#2f6b8e"/><stop offset="0.6875" stop-color="#33638d"/><stop offset="0.7188" stop-color="#375b8d"/><stop offset="0.7500" stop-color="#3b528b"/><stop offset="0.7812" stop-color="#3e4989"/><stop offset="0.8125" stop-color="#424086"/><stop offset="0.8438" stop-color="#453781"/><stop offset="0.8750" stop-color="#472d7b"/><stop offset="0.9062" stop-color="#482374"/><stop offset="0.9375" stop-color="#48186a"/><stop offset="0.9688" stop-color="#470d60"/><stop offset="1.0000" stop-color="#440154"/></linearGradient>
<clipPath id="cl2"><path d="M251.5 3212.9 L251.5 1964.6 L256.5 1965.8 L261.5 1962.4 L266.5 1958.7 L271.5 1956.9 L276.4 1951.5 L281.4 1946.1 L286.4 1941.1 L291.4 1929.5 L296.4 1925.6 L301.4 1924.5 L306.4 1921.8 L311.4 1920.3 L316.3 1922.7 L321.3 1925.0 L326.3 1932.7 L331.3 1937.2 L336.3 1943.8 L341.3 1949.2 L346.3 1957.2 L351.3 1957.6 L356.2 1964.6 L361.2 1969.2 L366.2 1968.7 L371.2 1972.8 L376.2 1972.3 L381.2 1966.7 L386.2 1965.3 L391.2 1955.0 L396.1 1951.8 L401.1 1946.3 L406.1 1936.7 L411.1 1934.5 L416.1 1926.4 L421.1 1926.4 L426.1 1921.3 L431.1 1921.3 L436.1 1918.0 L441.0 1919.1 L446.0 1925.0 L451.0 1928.7 L456.0 1935.9 L461.0 1940.8 L466.0 1949.1 L471.0 1956.4 L476.0 1962.0 L480.9 1963.7 L485.9 1965.6 L490.9 1972.4 L495.9 1973.0 L500.9 1967.0 L505.9 1966.4 L510.9 1962.0 L515.9 1955.0 L520.8 1948.9 L525.8 1943.4 L530.8 1939.7 L535.8 1932.4 L540.8 1929.9 L545.8 1925.3 L550.8 1926.9 L555.8 1930.0 L560.8 1928.7 L565.7 1927.9 L570.7 1934.2 L575.7 1938.8 L580.7 1943.5 L585.7 1948.4 L590.7 1952.6 L595.7 1958.9 L600.7 1960.2 L605.6 1967.8 L610.6 1969.9 L615.6 1968.4 L620.6 1968.6 L625.6 1970.7 L630.6 1964.5 L635.6 1957.4 L640.6 1952.2 L645.5 1947.8 L650.5 1938.3 L655.5 1932.5 L660.5 1928.3 L665.5 1927.1 L670.5 1924.7 L675.5 1924.4 L680.5 1923.7 L685.4 1922.1 L690.4 1923.6 L695.4 1927.2 L700.4 1929.8 L705.4 1933.0 L710.4 1937.9 L715.4 1941.6 L720.4 1946.3 L725.4 1948.8 L730.3 1947.3 L735.3 1950.3 L740.3 1952.7 L745.3 1952.6 L750.3 1949.5 L755.3 1942.5 L760.3 1937.6 L765.3 1935.0 L770.2 1927.0 L775.2 1924.9 L780.2 1918.6 L785.2 1918.0 L790.2 1914.5 L795.2 1918.5 L800.2 1919.7 L805.2 1920.4 L810.1 1920.4 L815.1 1922.1 L820.1 1925.8 L825.1 1925.0 L830.1 1927.9 L835.1 1932.2 L840.1 1936.4 L845.1 1936.0 L850.0 1942.4 L855.0 1946.0 L860.0 1947.2 L865.0 1949.3 L870.0 1947.4 L875.0 1942.6 L880.0 1939.6 L885.0 1935.9 L890.0 1931.3 L894.9 1929.5 L899.9 1928.4 L904.9 1926.2 L909.9 1926.2 L914.9 1926.2 L919.9 1929.8 L924.9 1932.1 L929.9 1930.0 L934.8 1933.0 L939.8 1934.8 L944.8 1932.3 L949.8 1935.7 L954.8 1935.9 L959.8 1939.6 L964.8 1942.7 L969.8 1945.4 L974.7 1946.6 L979.7 1947.8 L984.7 1948.8 L989.7 1946.6 L994.7 1946.6 L999.7 1941.6 L1004.7 1940.8 L1009.7 1935.1 L1014.7 1932.4 L1019.6 1932.3 L1024.6 1932.5 L1029.6 1938.8 L1034.6 1937.0 L1039.6 1938.4 L1044.6 1940.4 L1049.6 1943.8 L1054.6 1941.9 L1059.5 1939.9 L1064.5 1945.2 L1069.5 1942.7 L1074.5 1943.4 L1079.5 1948.3 L1084.5 1947.9 L1089.5 1951.3 L1094.5 1951.6 L1099.4 1952.0 L1104.4 1949.9 L1109.4 1947.8 L1114.4 1943.4 L1119.4 1943.3 L1124.4 1938.6 L1129.4 1934.2 L1134.4 1933.9 L1139.3 1937.0 L1144.3 1934.4 L1149.3 1937.3 L1154.3 1939.0 L1159.3 1942.4 L1164.3 1943.6 L1169.3 1947.8 L1174.3 1952.8 L1179.3 1952.9 L1184.2 1950.0 L1189.2 1951.7 L1194.2 1949.7 L1199.2 1951.2 L1204.2 1953.0 L1209.2 1950.4 L1214.2 1953.4 L1219.2 1955.4 L1224.1 1948.2 L1229.1 1950.7 L1234.1 1943.6 L1239.1 1939.7 L1244.1 1937.6 L1249.1 1938.0 L1254.1 1933.2 L1259.1 1938.5 L1264.0 1940.7 L1269.0 1942.2 L1274.0 1944.1 L1279.0 1948.1 L1284.0 1949.7 L1289.0 1953.9 L1294.0 1955.1 L1299.0 1957.1 L1304.0 1955.8 L1308.9 1954.4 L1313.9 1955.8 L1318.9 1954.6 L1323.9 1956.2 L1328.9 1956.1 L1333.9 1954.7 L1338.9 1954.3 L1343.9 1952.0 L1348.8 1947.7 L1353.8 1940.6 L1358.8 1939.7 L1363.8 1936.2 L1368.8 1935.0 L1373.8 1932.7 L1378.8 1932.8 L1383.8 1937.0 L1388.7 1938.8 L1393.7 1942.3 L1398.7 1948.3 L1403.7 1952.4 L1408.7 1953.5 L1413.7 1957.3 L1418.7 1957.5 L1423.7 1956.1 L1428.6 1955.6 L1433.6 1957.2 L1438.6 1956.8 L1443.6 1954.8 L1448.6 1954.6 L1453.6 1956.2 L1458.6 1949.9 L1463.6 1949.8 L1468.6 1944.5 L1473.5 1942.0 L1478.5 1933.4 L1483.5 1931.0 L1488.5 1925.4 L1493.5 1925.4 L1498.5 1924.4 L1503.5 1926.7 L1508.5 1930.8 L1513.4 1936.6 L1518.4 1941.1 L1523.4 1942.0 L1528.4 1946.6 L1533.4 1951.1 L1538.4 1952.3 L1543.4 1951.0 L1548.4 1949.0 L1553.3 1948.2 L1558.3 1950.8 L1563.3 1946.4 L1568.3 1943.9 L1573.3 1945.1 L1578.3 1944.8 L1583.3 1941.9 L1588.3 1939.1 L1593.2 1930.7 L1598.2 1925.9 L1603.2 1918.2 L1608.2 1914.9 L1613.2 1915.2 L1618.2 1914.6 L1623.2 1916.9 L1628.2 1923.4 L1633.2 1932.1 L1638.1 1943.4 L1643.1 1944.8 L1648.1 1952.6 L1653.1 1960.3 L1658.1 1964.7 L1663.1 1964.8 L1668.1 1964.9 L1673.1 1966.4 L1678.0 1964.1 L1683.0 1964.4 L1688.0 1962.9 L1693.0 1958.4 L1698.0 1958.0 L1703.0 1957.4 L1708.0 1951.2 L1713.0 1947.7 L1717.9 1940.7 L1722.9 1932.0 L1727.9 1925.0 L1732.9 1925.2 L1737.9 1923.2 L1742.9 1928.3 L1747.9 1929.2 L1752.9 1936.4 L1757.9 1947.2 L1762.8 1950.2 L1767.8 1954.2 L1772.8 1959.9 L1777.8 1963.9 L1782.8 1965.1 L1787.8 1970.9 L1792.8 1970.9 L1797.8 1968.2 L1802.7 1967.2 L1807.7 1961.7 L1812.7 1961.5 L1817.7 1961.2 L1822.7 1957.8 L1827.7 1947.2 L1832.7 1946.1 L1837.7 1940.4 L1842.6 1932.1 L1847.6 1925.5 L1852.6 1922.9 L1857.6 1923.7 L1862.6 1923.5 L1867.6 1920.6 L1872.6 1928.5 L1877.6 1939.2 L1882.5 1940.7 L1887.5 1946.4 L1892.5 1952.9 L1897.5 1957.8 L1902.5 1961.5 L1907.5 1967.4 L1912.5 1971.1 L1917.5 1967.8 L1922.5 1968.4 L1927.4 1963.1 L1932.4 1963.3 L1937.4 1957.9 L1942.4 1954.0 L1947.4 1946.4 L1952.4 1945.0 L1957.4 1939.3 L1962.4 1931.8 L1967.3 1925.4 L1972.3 1920.5 L1977.3 1917.6 L1982.3 1916.1 L1987.3 1914.5 L1992.3 1921.8 L1997.3 1923.9 L2002.3 1932.6 L2007.2 1944.8 L2012.2 1955.2 L2017.2 1958.2 L2022.2 1962.2 L2027.2 1967.1 L2032.2 1964.2 L2037.2 1964.8 L2042.2 1964.6 L2047.1 1960.6 L2052.1 1958.0 L2057.1 1957.6 L2062.1 1953.0 L2067.1 1950.0 L2072.1 1945.4 L2077.1 1938.4 L2082.1 1930.6 L2087.1 1925.1 L2092.0 1922.5 L2097.0 1914.2 L2102.0 1914.8 L2107.0 1912.7 L2112.0 1914.1 L2117.0 1921.9 L2122.0 1930.3 L2127.0 1938.5 L2131.9 1941.4 L2136.9 1950.1 L2141.9 1954.8 L2146.9 1957.1 L2151.9 1960.7 L2156.9 1962.6 L2161.9 1964.1 L2166.9 1966.0 L2171.8 1960.7 L2176.8 1955.0 L2181.8 1951.1 L2186.8 1945.1 L2191.8 1940.3 L2196.8 1933.8 L2201.8 1925.6 L2206.8 1921.3 L2211.8 1915.4 L2216.7 1913.1 L2221.7 1905.9 L2226.7 1906.5 L2231.7 1907.3 L2236.7 1908.4 L2241.7 1913.5 L2246.7 1923.1 L2251.7 1929.0 L2256.6 1938.4 L2261.6 1940.9 L2266.6 1946.0 L2271.6 1953.1 L2276.6 1952.6 L2281.6 1958.0 L2286.6 1955.7 L2291.6 1956.0 L2296.5 1951.8 L2301.5 1948.9 L2306.5 1948.1 L2311.5 1943.8 L2316.5 1936.1 L2321.5 1929.4 L2326.5 1925.7 L2331.5 1921.1 L2336.4 1915.6 L2341.4 1917.3 L2346.4 1913.2 L2351.4 1915.6 L2356.4 1915.5 L2361.4 1920.0 L2366.4 1924.9 L2371.4 1929.1 L2376.4 1936.3 L2381.3 1940.6 L2386.3 1947.9 L2391.3 1951.3 L2396.3 1954.6 L2401.3 1954.0 L2406.3 1956.1 L2411.3 1953.9 L2416.3 1951.8 L2421.2 1951.1 L2426.2 1946.0 L2431.2 1942.3 L2436.2 1938.1 L2441.2 1935.2 L2446.2 1931.4 L2451.2 1925.9 L2456.2 1920.7 L2461.1 1923.0 L2466.1 1919.6 L2471.1 1921.2 L2476.1 1920.5 L2481.1 1922.4 L2486.1 1923.9 L2491.1 1933.9 L2496.1 1935.1 L2501.1 1940.4 L2506.0 1944.3 L2511.0 1950.2 L2516.0 1954.9 L2521.0 1957.7 L2526.0 1957.9 L2531.0 1964.7 L2536.0 1959.6 L2541.0 1956.8 L2545.9 1953.6 L2550.9 1948.0 L2555.9 1944.2 L2560.9 1939.7 L2565.9 1933.7 L2570.9 1930.4 L2575.9 1930.1 L2580.9 1930.1 L2585.8 1928.1 L2590.8 1928.8 L2595.8 1928.2 L2600.8 1929.7 L2605.8 1931.9 L2610.8 1932.0 L2615.8 1936.4 L2620.8 1936.7 L2625.7 1939.8 L2630.7 1947.5 L2635.7 1950.2 L2640.7 1956.7 L2645.7 1955.4 L2650.7 1955.4 L2655.7 1956.3 L2660.7 1952.9 L2665.7 1950.8 L2670.6 1946.0 L2675.6 1942.1 L2680.6 1937.7 L2685.6 1934.9 L2690.6 1932.5 L2695.6 1933.2 L2700.6 1930.8 L2705.6 1930.6 L2710.5 1933.5 L2715.5 1935.7 L2720.5 1933.3 L2725.5 1933.4 L2730.5 1936.2 L2735.5 1938.7 L2740.5 1937.3 L2745.5 1936.7 L2750.4 1944.5 L2755.4 1944.2 L2760.4 1948.1 L2765.4 1950.1 L2770.4 1947.9 L2775.4 1950.1 L2780.4 1946.7 L2785.4 1941.4 L2790.3 1938.8 L2795.3 1936.8 L2800.3 1934.2 L2805.3 1930.3 L2810.3 1929.9 L2815.3 1925.2 L2820.3 1929.2 L2825.3 1931.7 L2830.3 1932.8 L2835.2 1932.2 L2840.2 1930.2 L2845.2 1930.5 L2850.2 1924.9 L2855.2 1928.2 L2860.2 1928.5 L2865.2 1927.6 L2870.2 1927.0 L2875.1 1931.4 L2880.1 1939.5 L2885.1 1940.3 L2890.1 1941.4 L2895.1 1941.3 L2900.1 1941.0 L2905.1 1939.7 L2910.1 1936.7 L2915.0 1931.4 L2920.0 1930.0 L2925.0 1923.3 L2930.0 1924.4 L2935.0 1927.4 L2940.0 1928.9 L2945.0 1931.7 L2950.0 1933.5 L2955.0 1934.2 L2959.9 1938.7 L2964.9 1937.9 L2969.9 1931.9 L2974.9 1929.8 L2979.9 1926.7 L2984.9 1923.6 L2989.9 1923.7 L2994.9 1930.4 L2999.8 1935.6 L3004.8 1936.0 L3009.8 1938.8 L3014.8 1940.0 L3019.8 1937.5 L3024.8 1934.6 L3029.8 1933.9 L3034.8 1930.1 L3039.7 1925.9 L3044.7 1923.3 L3049.7 1925.7 L3054.7 1929.7 L3059.7 1937.1 L3064.7 1936.3 L3069.7 1944.8 L3074.7 1950.1 L3079.6 1955.3 L3084.6 1957.6 L3089.6 1960.0 L3094.6 1961.7 L3099.6 1956.2 L3104.6 1953.0 L3109.6 1948.8 L3114.6 1950.0 L3119.6 1948.0 L3124.5 1944.4 L3129.5 1941.9 L3134.5 1942.0 L3139.5 1941.5 L3144.5 1938.3 L3149.5 1936.2 L3154.5 1929.7 L3159.5 1928.4 L3164.4 1924.7 L3169.4 1924.8 L3174.4 1930.0 L3179.4 1933.4 L3184.4 1939.2 L3189.4 1947.9 L3194.4 1954.6 L3199.4 1958.0 L3204.3 1964.7 L3209.3 1967.5 L3214.3 1973.0 L3219.3 1972.7 L3224.3 1967.3 L3229.3 1964.3 L3234.3 1959.3 L3239.3 1960.0 L3244.2 1956.8 L3249.2 1955.7 L3254.2 1953.9 L3259.2 1950.5 L3264.2 1943.5 L3269.2 1941.8 L3274.2 1933.5 L3279.2 1928.6 L3284.2 1926.4 L3289.1 1920.7 L3294.1 1924.2 L3299.1 1926.0 L3304.1 1932.5 L3309.1 1939.6 L3314.1 1951.6 L3319.1 1955.9 L3324.1 1963.3 L3329.0 1968.6 L3334.0 1971.1 L3339.0 1971.2 L3344.0 1969.4 L3349.0 1965.6 L3354.0 1962.4 L3359.0 1961.7 L3364.0 1954.4 L3368.9 1950.4 L3373.9 1949.1 L3378.9 1943.7 L3383.9 1942.2 L3388.9 1932.7 L3393.9 1929.2 L3398.9 1923.2 L3403.9 1914.7 L3408.9 1912.4 L3413.8 1911.5 L3418.8 1914.9 L3423.8 1915.7 L3428.8 1926.6 L3433.8 1936.5 L3438.8 1941.7 L3443.8 1949.2 L3448.8 1954.8 L3453.7 1964.2 L3458.7 1967.2 L3463.7 1968.6 L3468.7 1967.3 L3473.7 1965.6 L3478.7 1962.9 L3483.7 1958.8 L3488.7 1956.7 L3493.6 1952.7 L3498.6 1946.3 L3503.6 1943.5 L3508.6 1935.5 L3513.6 1926.5 L3518.6 1921.5 L3523.6 1913.3 L3528.6 1911.3 L3533.5 1906.9 L3538.5 1913.0 L3543.5 1911.2 L3548.5 1915.3 L3553.5 1919.5 L3558.5 1930.6 L3563.5 1941.7 L3568.5 1950.8 L3573.5 1954.3 L3578.4 1959.0 L3583.4 1963.9 L3588.4 1966.8 L3593.4 1965.0 L3598.4 1960.2 L3603.4 1956.6 L3608.4 1951.8 L3613.4 1945.7 L3618.3 1941.4 L3623.3 1931.2 L3628.3 1924.7 L3633.3 1915.8 L3638.3 1908.4 L3643.3 1904.1 L3648.3 1901.3 L3653.3 1897.4 L3658.2 1897.8 L3663.2 1900.3 L3668.2 1910.1 L3673.2 1912.4 L3678.2 1918.6 L3683.2 1925.1 L3688.2 1934.4 L3693.2 1940.4 L3698.2 1945.4 L3703.1 1948.9 L3708.1 1955.1 L3713.1 1954.3 L3718.1 1955.8 L3723.1 1951.8 L3728.1 1949.7 L3733.1 1941.9 L3738.1 1938.6 L3743.0 1933.1 L3748.0 1926.5 L3753.0 1919.2 L3758.0 1917.6 L3763.0 1908.8 L3768.0 1906.4 L3773.0 1907.8 L3778.0 1905.6 L3782.9 1908.1 L3787.9 1910.0 L3792.9 1919.6 L3797.9 1927.6 L3802.9 1933.8 L3807.9 1939.8 L3812.9 1947.9 L3817.9 1952.8 L3822.8 1960.2 L3827.8 1966.3 L3832.8 1967.9 L3837.8 1967.5 L3838.7 1973.0 L3838.7 3212.9 Z"/></clipPath>
<clipPath id="ax1"><rect x="251.5" y="322.5" width="3587.2" height="1380.1"/></clipPath>
<clipPath id="ax2"><rect x="251.5" y="1832.4" width="3587.2" height="1380.5"/></clipPath>
</defs>
<rect width="4321" height="3472" fill="#fff"/>
<text x="2380" y="81" font-size="66.67" text-anchor="middle">Do - May 2021 (V1.7.0)</text>
<text x="2045.1" y="297.5" font-size="58.33" font-weight="bold" text-anchor="middle">Observed Do - Desalination Site</text>
<text x="2045.1" y="1807.4" font-size="58.33" font-weight="bold" text-anchor="middle">CSIEM V1.7.0 Do - Desalination Site</text>
<g clip-path="url(#ax1)" shape-rendering="crispEdges">
<rect x="251.5" y="636.7" width="2.9" height="1043.1" fill="url(#g1)"/><rect x="254.0" y="636.7" width="5.4" height="957.9" fill="url(#g2)"/><rect x="259.0" y="636.7" width="5.4" height="1043.1" fill="url(#g3)"/><rect x="264.0" y="636.7" width="5.4" height="1022.2" fill="url(#g4)"/><rect x="269.0" y="636.7" width="5.4" height="1022.2" fill="url(#g5)"/><rect x="273.9" y="615.0" width="5.4" height="1044.0" fill="url(#g6)"/><rect x="278.9" y="615.0" width="5.4" height="1044.0" fill="url(#g7)"/><rect x="283.9" y="615.0" width="5.4" height="1044.0" fill="url(#g8)"/><rect x="288.9" y="593.2" width="5.4" height="1044.0" fill="url(#g9)"/><rect x="293.9" y="593.2" width="5.4" height="1044.0" fill="url(#g10)"/><rect x="298.9" y="593.2" width="5.4" height="1044.0" fill="url(#g11)"/><rect x="303.9" y="593.2" width="5.4" height="1044.0" fill="url(#g12)"/><rect x="308.9" y="593.2" width="5.4" height="1044.0" fill="url(#g13)"/><rect x="313.8" y="593.2" width="5.4" height="1044.0" fill="url(#g14)"/><rect x="318.8" y="593.2" width="5.4" height="1044.0" fill="url(#g15)"/><rect x="323.8" y="593.2" width="5.4" height="1044.0" fill="url(#g16)"/><rect x="328.8" y="615.0" width="5.4" height="1044.0" fill="url(#g17)"/><rect x="333.8" y="615.0" width="5.4" height="1044.0" fill="url(#g18)"/><rect x="338.8" y="615.0" width="5.4" height="1044.0" fill="url(#g19)"/><rect x="343.8" y="636.7" width="5.4" height="1022.2" fill="#23a983"/><rect x="348.8" y="636.7" width="5.4" height="1022.2" fill="#21a585"/><rect x="353.8" y="636.7" width="5.4" height="957.9" fill="url(#g20)"/><rect x="358.7" y="636.7" width="5.4" height="957.9" fill="url(#g21)"/><rect x="363.7" y="657.6" width="5.4" height="937.0" fill="url(#g22)"/><rect x="368.7" y="657.6" width="5.4" height="937.0" fill="url(#g23)"/><rect x="373.7" y="657.6" width="5.4" height="937.0" fill="#20a486"/><rect x="378.7" y="636.7" width="5.4" height="1043.1" fill="#24aa83"/><rect x="383.7" y="636.7" width="5.4" height="1022.2" fill="url(#g24)"/><rect x="388.7" y="636.7" width="5.4" height="1022.2" fill="#21a685"/><rect x="393.7" y="615.0" width="5.4" height="1044.0" fill="url(#g25)"/><rect x="398.6" y="615.0" width="5.4" height="1044.0" fill="#23a983"/><rect x="403.6" y="615.0" width="5.4" height="1044.0" fill="url(#g26)"/><rect x="408.6" y="593.2" width="5.4" height="1044.0" fill="#21a685"/><rect x="413.6" y="593.2" width="5.4" height="1044.0" fill="#20a486"/><rect x="418.6" y="593.2" width="5.4" height="1044.0" fill="#22a884"/><rect x="423.6" y="593.2" width="5.4" height="1044.0" fill="url(#g27)"/><rect x="428.6" y="593.2" width="5.4" height="1044.0" fill="#20a486"/><rect x="433.6" y="593.2" width="5.4" height="1044.0" fill="url(#g28)"/><rect x="438.5" y="593.2" width="5.4" height="1044.0" fill="#25ac82"/><rect x="443.5" y="593.2" width="5.4" height="1044.0" fill="#26ad81"/><rect x="448.5" y="593.2" width="5.4" height="1044.0" fill="url(#g29)"/><rect x="453.5" y="615.0" width="5.4" height="1044.0" fill="url(#g30)"/><rect x="458.5" y="615.0" width="5.4" height="1044.0" fill="url(#g31)"/><rect x="463.5" y="615.0" width="5.4" height="1044.0" fill="#26ad81"/><rect x="468.5" y="636.7" width="5.4" height="1022.2" fill="#26ad81"/><rect x="473.5" y="636.7" width="5.4" height="1022.2" fill="#25ab82"/><rect x="478.5" y="636.7" width="5.4" height="957.9" fill="url(#g32)"/><rect x="483.4" y="636.7" width="5.4" height="957.9" fill="url(#g33)"/><rect x="488.4" y="657.6" width="5.4" height="937.0" fill="url(#g34)"/><rect x="493.4" y="657.6" width="5.4" height="937.0" fill="url(#g35)"/><rect x="498.4" y="657.6" width="5.4" height="937.0" fill="url(#g36)"/><rect x="503.4" y="636.7" width="5.4" height="957.9" fill="url(#g37)"/><rect x="508.4" y="636.7" width="5.4" height="1022.2" fill="url(#g38)"/><rect x="513.4" y="636.7" width="5.4" height="1022.2" fill="url(#g39)"/><rect x="518.4" y="615.0" width="5.4" height="1044.0" fill="url(#g40)"/><rect x="523.3" y="615.0" width="5.4" height="1044.0" fill="url(#g41)"/><rect x="528.3" y="615.0" width="5.4" height="1044.0" fill="url(#g42)"/><rect x="533.3" y="593.2" width="5.4" height="1044.0" fill="url(#g43)"/><rect x="538.3" y="593.2" width="5.4" height="1044.0" fill="url(#g44)"/><rect x="543.3" y="593.2" width="5.4" height="1044.0" fill="url(#g45)"/><rect x="548.3" y="593.2" width="5.4" height="1044.0" fill="url(#g46)"/><rect x="553.3" y="593.2" width="5.4" height="1044.0" fill="url(#g47)"/><rect x="558.3" y="593.2" width="5.4" height="1044.0" fill="url(#g48)"/><rect x="563.2" y="593.2" width="5.4" height="1044.0" fill="url(#g49)"/><rect x="568.2" y="615.0" width="5.4" height="1022.2" fill="url(#g50)"/><rect x="573.2" y="615.0" width="5.4" height="1044.0" fill="url(#g51)"/><rect x="578.2" y="615.0" width="5.4" height="1044.0" fill="url(#g52)"/><rect x="583.2" y="615.0" width="5.4" height="1044.0" fill="url(#g53)"/><rect x="588.2" y="636.7" width="5.4" height="1022.2" fill="url(#g54)"/><rect x="593.2" y="636.7" width="5.4" height="1022.2" fill="url(#g55)"/><rect x="598.2" y="636.7" width="5.4" height="1043.1" fill="url(#g56)"/><rect x="603.1" y="636.7" width="5.4" height="1043.1" fill="url(#g57)"/><rect x="608.1" y="657.6" width="5.4" height="1022.2" fill="url(#g58)"/><rect x="613.1" y="657.6" width="5.4" height="1022.2" fill="url(#g59)"/><rect x="618.1" y="657.6" width="5.4" height="1022.2" fill="url(#g60)"/><rect x="623.1" y="657.6" width="5.4" height="1022.2" fill="url(#g61)"/><rect x="628.1" y="636.7" width="5.4" height="1043.1" fill="url(#g62)"/><rect x="633.1" y="636.7" width="5.4" height="1022.2" fill="url(#g63)"/><rect x="638.1" y="636.7" width="5.4" height="1022.2" fill="url(#g64)"/><rect x="643.1" y="615.0" width="5.4" height="1044.0" fill="url(#g65)"/><rect x="648.0" y="615.0" width="5.4" height="1044.0" fill="url(#g66)"/><rect x="653.0" y="615.0" width="5.4" height="1022.2" fill="url(#g67)"/><rect x="658.0" y="593.2" width="5.4" height="1044.0" fill="url(#g68)"/><rect x="663.0" y="593.2" width="5.4" height="1044.0" fill="url(#g69)"/><rect x="668.0" y="593.2" width="5.4" height="1044.0" fill="url(#g70)"/><rect x="673.0" y="593.2" width="5.4" height="1044.0" fill="url(#g71)"/><rect x="678.0" y="593.2" width="5.4" height="1044.0" fill="url(#g72)"/><rect x="683.0" y="593.2" width="5.4" height="1044.0" fill="url(#g73)"/><rect x="687.9" y="593.2" width="5.4" height="1044.0" fill="url(#g74)"/><rect x="692.9" y="593.2" width="5.4" height="1044.0" fill="#2cb17e"/><rect x="697.9" y="593.2" width="5.4" height="1044.0" fill="#2eb37c"/><rect x="702.9" y="615.0" width="5.4" height="1022.2" fill="url(#g75)"/><rect x="707.9" y="615.0" width="5.4" height="1044.0" fill="url(#g76)"/><rect x="712.9" y="615.0" width="5.4" height="1044.0" fill="#25ab82"/><rect x="717.9" y="615.0" width="5.4" height="1044.0" fill="#23a983"/><rect x="722.9" y="615.0" width="5.4" height="1044.0" fill="url(#g77)"/><rect x="727.8" y="615.0" width="5.4" height="1044.0" fill="url(#g78)"/><rect x="732.8" y="636.7" width="5.4" height="1022.2" fill="#20a486"/><rect x="737.8" y="636.7" width="5.4" height="1022.2" fill="url(#g79)"/><rect x="742.8" y="636.7" width="5.4" height="1022.2" fill="#1fa287"/><rect x="747.8" y="615.0" width="5.4" height="1044.0" fill="#20a386"/><rect x="752.8" y="615.0" width="5.4" height="1044.0" fill="url(#g80)"/><rect x="757.8" y="615.0" width="5.4" height="1044.0" fill="url(#g81)"/><rect x="762.8" y="593.2" width="5.4" height="1044.0" fill="url(#g82)"/><rect x="767.7" y="593.2" width="5.4" height="1044.0" fill="#1fa287"/><rect x="772.7" y="593.2" width="5.4" height="1044.0" fill="#22a785"/><rect x="777.7" y="593.2" width="5.4" height="1044.0" fill="url(#g83)"/><rect x="782.7" y="593.2" width="5.4" height="1044.0" fill="#21a585"/><rect x="787.7" y="593.2" width="5.4" height="1044.0" fill="#21a685"/><rect x="792.7" y="593.2" width="5.4" height="1044.0" fill="url(#g84)"/><rect x="797.7" y="593.2" width="5.4" height="1044.0" fill="#23a983"/><rect x="802.7" y="593.2" width="5.4" height="1044.0" fill="url(#g85)"/><rect x="807.7" y="593.2" width="5.4" height="1044.0" fill="url(#g86)"/><rect x="812.6" y="593.2" width="5.4" height="1044.0" fill="#21a685"/><rect x="817.6" y="593.2" width="5.4" height="1044.0" fill="#20a486"/><rect x="822.6" y="593.2" width="5.4" height="1044.0" fill="url(#g87)"/><rect x="827.6" y="593.2" width="5.4" height="1044.0" fill="#1fa187"/><rect x="832.6" y="593.2" width="5.4" height="1044.0" fill="url(#g88)"/><rect x="837.6" y="615.0" width="5.4" height="1044.0" fill="#1fa287"/><rect x="842.6" y="615.0" width="5.4" height="1044.0" fill="url(#g89)"/><rect x="847.6" y="615.0" width="5.4" height="1044.0" fill="url(#g90)"/><rect x="852.5" y="615.0" width="5.4" height="1044.0" fill="url(#g91)"/><rect x="857.5" y="615.0" width="5.4" height="1044.0" fill="url(#g92)"/><rect x="862.5" y="615.0" width="5.4" height="1044.0" fill="url(#g93)"/><rect x="867.5" y="615.0" width="5.4" height="1044.0" fill="url(#g94)"/><rect x="872.5" y="615.0" width="5.4" height="1044.0" fill="url(#g95)"/><rect x="877.5" y="615.0" width="5.4" height="1044.0" fill="url(#g96)"/><rect x="882.5" y="615.0" width="5.4" height="1044.0" fill="url(#g97)"/><rect x="887.5" y="593.2" width="5.4" height="1044.0" fill="url(#g98)"/><rect x="892.4" y="593.2" width="5.4" height="1044.0" fill="url(#g99)"/><rect x="897.4" y="593.2" width="5.4" height="1044.0" fill="url(#g100)"/><rect x="902.4" y="593.2" width="5.4" height="1044.0" fill="url(#g101)"/><rect x="907.4" y="593.2" width="5.4" height="1044.0" fill="url(#g102)"/><rect x="912.4" y="593.2" width="5.4" height="1044.0" fill="url(#g103)"/><rect x="917.4" y="593.2" width="5.4" height="1044.0" fill="url(#g104)"/><rect x="922.4" y="593.2" width="5.4" height="1044.0" fill="url(#g105)"/><rect x="927.4" y="593.2" width="5.4" height="1044.0" fill="url(#g106)"/><rect x="932.4" y="593.2" width="5.4" height="1044.0" fill="url(#g107)"/><rect x="937.3" y="593.2" width="5.4" height="1044.0" fill="#20a386"/><rect x="942.3" y="593.2" width="5.4" height="1044.0" fill="url(#g108)"/><rect x="947.3" y="615.0" width="5.4" height="1022.2" fill="#21a585"/><rect x="952.3" y="615.0" width="5.4" height="1044.0" fill="url(#g109)"/><rect x="957.3" y="615.0" width="5.4" height="1044.0" fill="#20a486"/><rect x="962.3" y="615.0" width="5.4" height="1044.0" fill="#1fa187"/><rect x="967.3" y="615.0" width="5.4" height="1044.0" fill="#1fa187"/><rect x="972.3" y="615.0" width="5.4" height="1044.0" fill="url(#g110)"/><rect x="977.2" y="615.0" width="5.4" height="1044.0" fill="url(#g111)"/><rect x="982.2" y="615.0" width="5.4" height="1044.0" fill="url(#g112)"/><rect x="987.2" y="615.0" width="5.4" height="1044.0" fill="url(#g113)"/><rect x="992.2" y="615.0" width="5.4" height="1044.0" fill="url(#g114)"/><rect x="997.2" y="615.0" width="5.4" height="1044.0" fill="url(#g115)"/><rect x="1002.2" y="615.0" width="5.4" height="1044.0" fill="url(#g116)"/><rect x="1007.2" y="615.0" width="5.4" height="1044.0" fill="url(#g117)"/><rect x="1012.2" y="615.0" width="5.4" height="1022.2" fill="url(#g118)"/><rect x="1017.1" y="615.0" width="5.4" height="1022.2" fill="url(#g119)"/><rect x="1022.1" y="615.0" width="5.4" height="1044.0" fill="url(#g120)"/><rect x="1027.1" y="615.0" width="5.4" height="1044.0" fill="#1e9c89"/><rect x="1032.1" y="615.0" width="5.4" height="1044.0" fill="#1e9c89"/><rect x="1037.1" y="615.0" width="5.4" height="1044.0" fill="#1e9c89"/><rect x="1042.1" y="615.0" width="5.4" height="1044.0" fill="#1f9e89"/><rect x="1047.1" y="615.0" width="5.4" height="1044.0" fill="#1fa187"/><rect x="1052.1" y="615.0" width="5.4" height="1044.0" fill="#1fa088"/><rect x="1057.0" y="615.0" width="5.4" height="968.3" fill="#1fa187"/><rect x="1062.0" y="615.0" width="5.4" height="1044.0" fill="url(#g121)"/><rect x="1067.0" y="615.0" width="5.4" height="1044.0" fill="url(#g122)"/><rect x="1072.0" y="615.0" width="5.4" height="1044.0" fill="url(#g123)"/><rect x="1077.0" y="615.0" width="5.4" height="1044.0" fill="url(#g124)"/><rect x="1082.0" y="615.0" width="5.4" height="1044.0" fill="url(#g125)"/><rect x="1087.0" y="615.0" width="5.4" height="1044.0" fill="url(#g126)"/><rect x="1092.0" y="615.0" width="5.4" height="1044.0" fill="url(#g127)"/><rect x="1097.0" y="615.0" width="5.4" height="1044.0" fill="url(#g128)"/><rect x="1101.9" y="615.0" width="5.4" height="1044.0" fill="url(#g129)"/><rect x="1106.9" y="615.0" width="5.4" height="1044.0" fill="url(#g130)"/><rect x="1111.9" y="615.0" width="5.4" height="1044.0" fill="url(#g131)"/><rect x="1116.9" y="615.0" width="5.4" height="1044.0" fill="url(#g132)"/><rect x="1121.9" y="615.0" width="5.4" height="1044.0" fill="url(#g133)"/><rect x="1126.9" y="615.0" width="5.4" height="1044.0" fill="url(#g134)"/><rect x="1131.9" y="615.0" width="5.4" height="1044.0" fill="url(#g135)"/><rect x="1136.9" y="615.0" width="5.4" height="1044.0" fill="#25ab82"/><rect x="1141.8" y="615.0" width="5.4" height="1044.0" fill="url(#g136)"/><rect x="1146.8" y="615.0" width="5.4" height="1044.0" fill="#25ac82"/><rect x="1151.8" y="615.0" width="5.4" height="1044.0" fill="url(#g137)"/><rect x="1156.8" y="615.0" width="5.4" height="1044.0" fill="url(#g138)"/><rect x="1161.8" y="615.0" width="5.4" height="1044.0" fill="#32b67a"/><rect x="1166.8" y="615.0" width="5.4" height="1044.0" fill="#32b67a"/><rect x="1171.8" y="615.0" width="5.4" height="1044.0" fill="#2fb47c"/><rect x="1176.8" y="615.0" width="5.4" height="1044.0" fill="url(#g139)"/><rect x="1181.7" y="615.0" width="5.4" height="1044.0" fill="url(#g140)"/><rect x="1186.7" y="615.0" width="5.4" height="1044.0" fill="url(#g141)"/><rect x="1191.7" y="615.0" width="5.4" height="1044.0" fill="url(#g142)"/><rect x="1196.7" y="636.7" width="5.4" height="1022.2" fill="url(#g143)"/><rect x="1201.7" y="636.7" width="5.4" height="1022.2" fill="url(#g144)"/><rect x="1206.7" y="636.7" width="5.4" height="1022.2" fill="url(#g145)"/><rect x="1211.7" y="636.7" width="5.4" height="1022.2" fill="url(#g146)"/><rect x="1216.7" y="636.7" width="5.4" height="1022.2" fill="url(#g147)"/><rect x="1221.6" y="615.0" width="5.4" height="1044.0" fill="url(#g148)"/><rect x="1226.6" y="615.0" width="5.4" height="1044.0" fill="url(#g149)"/><rect x="1231.6" y="615.0" width="5.4" height="1044.0" fill="url(#g150)"/><rect x="1236.6" y="615.0" width="5.4" height="1044.0" fill="url(#g151)"/><rect x="1241.6" y="615.0" width="5.4" height="1044.0" fill="url(#g152)"/><rect x="1246.6" y="615.0" width="5.4" height="1044.0" fill="url(#g153)"/><rect x="1251.6" y="615.0" width="5.4" height="1044.0" fill="url(#g154)"/><rect x="1256.6" y="615.0" width="5.4" height="1044.0" fill="url(#g155)"/><rect x="1261.6" y="615.0" width="5.4" height="1044.0" fill="url(#g156)"/><rect x="1266.5" y="615.0" width="5.4" height="1044.0" fill="url(#g157)"/><rect x="1271.5" y="615.0" width="5.4" height="1044.0" fill="url(#g158)"/><rect x="1276.5" y="615.0" width="5.4" height="1044.0" fill="url(#g159)"/><rect x="1281.5" y="615.0" width="5.4" height="1044.0" fill="url(#g160)"/><rect x="1286.5" y="636.7" width="5.4" height="1022.2" fill="url(#g161)"/><rect x="1291.5" y="636.7" width="5.4" height="1022.2" fill="url(#g162)"/><rect x="1296.5" y="636.7" width="5.4" height="1022.2" fill="url(#g163)"/><rect x="1301.5" y="636.7" width="5.4" height="1022.2" fill="url(#g164)"/><rect x="1306.4" y="636.7" width="5.4" height="1022.2" fill="url(#g165)"/><rect x="1311.4" y="636.7" width="5.4" height="1022.2" fill="url(#g166)"/><rect x="1316.4" y="636.7" width="5.4" height="1022.2" fill="url(#g167)"/><rect x="1321.4" y="636.7" width="5.4" height="1022.2" fill="url(#g168)"/><rect x="1326.4" y="636.7" width="5.4" height="1022.2" fill="url(#g169)"/><rect x="1331.4" y="636.7" width="5.4" height="1022.2" fill="url(#g170)"/><rect x="1336.4" y="636.7" width="5.4" height="1022.2" fill="url(#g171)"/><rect x="1341.4" y="636.7" width="5.4" height="1022.2" fill="url(#g172)"/><rect x="1346.3" y="615.0" width="5.4" height="1044.0" fill="url(#g173)"/><rect x="1351.3" y="615.0" width="5.4" height="1044.0" fill="url(#g174)"/><rect x="1356.3" y="615.0" width="5.4" height="1044.0" fill="url(#g175)"/><rect x="1361.3" y="615.0" width="5.4" height="1044.0" fill="url(#g176)"/><rect x="1366.3" y="615.0" width="5.4" height="1022.2" fill="url(#g177)"/><rect x="1371.3" y="593.2" width="5.4" height="1044.0" fill="url(#g178)"/><rect x="1376.3" y="615.0" width="5.4" height="1022.2" fill="url(#g179)"/><rect x="1381.3" y="615.0" width="5.4" height="1044.0" fill="url(#g180)"/><rect x="1386.3" y="615.0" width="5.4" height="1044.0" fill="url(#g181)"/><rect x="1391.2" y="615.0" width="5.4" height="1044.0" fill="url(#g182)"/><rect x="1396.2" y="615.0" width="5.4" height="1044.0" fill="url(#g183)"/><rect x="1401.2" y="636.7" width="5.4" height="1022.2" fill="url(#g184)"/><rect x="1406.2" y="636.7" width="5.4" height="1022.2" fill="url(#g185)"/><rect x="1411.2" y="636.7" width="5.4" height="1022.2" fill="url(#g186)"/><rect x="1416.2" y="636.7" width="5.4" height="1022.2" fill="url(#g187)"/><rect x="1421.2" y="636.7" width="5.4" height="1022.2" fill="url(#g188)"/><rect x="1426.2" y="636.7" width="5.4" height="1022.2" fill="url(#g189)"/><rect x="1431.1" y="636.7" width="5.4" height="1022.2" fill="url(#g190)"/><rect x="1436.1" y="636.7" width="5.4" height="1022.2" fill="url(#g191)"/><rect x="1441.1" y="636.7" width="5.4" height="1022.2" fill="url(#g192)"/><rect x="1446.1" y="636.7" width="5.4" height="1022.2" fill="url(#g193)"/><rect x="1451.1" y="636.7" width="5.4" height="1022.2" fill="url(#g194)"/><rect x="1456.1" y="636.7" width="5.4" height="1022.2" fill="url(#g195)"/><rect x="1461.1" y="615.0" width="5.4" height="1044.0" fill="url(#g196)"/><rect x="1466.1" y="615.0" width="5.4" height="1044.0" fill="url(#g197)"/><rect x="1471.0" y="615.0" width="5.4" height="1044.0" fill="url(#g198)"/><rect x="1476.0" y="615.0" width="5.4" height="1044.0" fill="url(#g199)"/><rect x="1481.0" y="593.2" width="5.4" height="1044.0" fill="url(#g200)"/><rect x="1486.0" y="593.2" width="5.4" height="1044.0" fill="url(#g201)"/><rect x="1491.0" y="593.2" width="5.4" height="1044.0" fill="url(#g202)"/><rect x="1496.0" y="593.2" width="5.4" height="1044.0" fill="#25ab82"/><rect x="1501.0" y="593.2" width="5.4" height="1044.0" fill="url(#g203)"/><rect x="1506.0" y="593.2" width="5.4" height="1044.0" fill="url(#g204)"/><rect x="1510.9" y="615.0" width="5.4" height="1044.0" fill="url(#g205)"/><rect x="1515.9" y="615.0" width="5.4" height="1044.0" fill="#31b57b"/><rect x="1520.9" y="615.0" width="5.4" height="1044.0" fill="#31b57b"/><rect x="1525.9" y="615.0" width="5.4" height="1044.0" fill="url(#g206)"/><rect x="1530.9" y="615.0" width="5.4" height="1044.0" fill="#3bbb75"/><rect x="1535.9" y="636.7" width="5.4" height="1022.2" fill="#3fbc73"/><rect x="1540.9" y="636.7" width="5.4" height="1022.2" fill="#3fbc73"/><rect x="1545.9" y="615.0" width="5.4" height="1044.0" fill="url(#g207)"/><rect x="1550.9" y="615.0" width="5.4" height="1044.0" fill="url(#g208)"/><rect x="1555.8" y="615.0" width="5.4" height="1044.0" fill="#3aba76"/><rect x="1560.8" y="615.0" width="5.4" height="1044.0" fill="#3bbb75"/><rect x="1565.8" y="615.0" width="5.4" height="1044.0" fill="url(#g209)"/><rect x="1570.8" y="615.0" width="5.4" height="1044.0" fill="#3fbc73"/><rect x="1575.8" y="615.0" width="5.4" height="1044.0" fill="url(#g210)"/><rect x="1580.8" y="615.0" width="5.4" height="1044.0" fill="#3fbc73"/><rect x="1585.8" y="615.0" width="5.4" height="1044.0" fill="url(#g211)"/><rect x="1590.8" y="593.2" width="5.4" height="1044.0" fill="#2fb47c"/><rect x="1595.7" y="593.2" width="5.4" height="1044.0" fill="#29af7f"/><rect x="1600.7" y="593.2" width="5.4" height="1044.0" fill="#2ab07f"/><rect x="1605.7" y="593.2" width="5.4" height="1022.2" fill="url(#g212)"/><rect x="1610.7" y="593.2" width="5.4" height="1022.2" fill="url(#g213)"/><rect x="1615.7" y="593.2" width="5.4" height="1022.2" fill="url(#g214)"/><rect x="1620.7" y="593.2" width="5.4" height="1044.0" fill="url(#g215)"/><rect x="1625.7" y="593.2" width="5.4" height="1044.0" fill="url(#g216)"/><rect x="1630.7" y="593.2" width="5.4" height="1044.0" fill="url(#g217)"/><rect x="1635.6" y="615.0" width="5.4" height="1044.0" fill="url(#g218)"/><rect x="1640.6" y="615.0" width="5.4" height="1044.0" fill="#37b878"/><rect x="1645.6" y="636.7" width="5.4" height="1022.2" fill="#34b679"/><rect x="1650.6" y="636.7" width="5.4" height="946.6" fill="#3bbb75"/><rect x="1655.6" y="636.7" width="5.4" height="1022.2" fill="#38b977"/><rect x="1660.6" y="636.7" width="5.4" height="1043.1" fill="#3aba76"/><rect x="1665.6" y="636.7" width="5.4" height="1043.1" fill="#38b977"/><rect x="1670.6" y="636.7" width="5.4" height="1043.1" fill="#35b779"/><rect x="1675.6" y="636.7" width="5.4" height="1043.1" fill="url(#g219)"/><rect x="1680.5" y="636.7" width="5.4" height="1043.1" fill="url(#g220)"/><rect x="1685.5" y="636.7" width="5.4" height="1022.2" fill="url(#g221)"/><rect x="1690.5" y="636.7" width="5.4" height="1022.2" fill="url(#g222)"/><rect x="1695.5" y="636.7" width="5.4" height="1022.2" fill="url(#g223)"/><rect x="1700.5" y="636.7" width="5.4" height="1022.2" fill="url(#g224)"/><rect x="1705.5" y="636.7" width="5.4" height="1022.2" fill="url(#g225)"/><rect x="1710.5" y="615.0" width="5.4" height="1044.0" fill="url(#g226)"/><rect x="1715.5" y="615.0" width="5.4" height="1044.0" fill="url(#g227)"/><rect x="1720.4" y="615.0" width="5.4" height="1022.2" fill="url(#g228)"/><rect x="1725.4" y="593.2" width="5.4" height="1044.0" fill="url(#g229)"/><rect x="1730.4" y="593.2" width="5.4" height="1044.0" fill="url(#g230)"/><rect x="1735.4" y="593.2" width="5.4" height="990.1" fill="url(#g231)"/><rect x="1740.4" y="593.2" width="5.4" height="1044.0" fill="url(#g232)"/><rect x="1745.4" y="593.2" width="5.4" height="1044.0" fill="url(#g233)"/><rect x="1750.4" y="615.0" width="5.4" height="1044.0" fill="url(#g234)"/><rect x="1755.4" y="615.0" width="5.4" height="1044.0" fill="url(#g235)"/><rect x="1760.3" y="615.0" width="5.4" height="1044.0" fill="url(#g236)"/><rect x="1765.3" y="636.7" width="5.4" height="1022.2" fill="url(#g237)"/><rect x="1770.3" y="636.7" width="5.4" height="1022.2" fill="url(#g238)"/><rect x="1775.3" y="636.7" width="5.4" height="1043.1" fill="url(#g239)"/><rect x="1780.3" y="636.7" width="5.4" height="1043.1" fill="url(#g240)"/><rect x="1785.3" y="636.7" width="5.4" height="1043.1" fill="url(#g241)"/><rect x="1790.3" y="636.7" width="5.4" height="1043.1" fill="#1fa188"/><rect x="1795.3" y="636.7" width="5.4" height="1043.1" fill="url(#g242)"/><rect x="1800.2" y="636.7" width="5.4" height="1043.1" fill="#1f9f88"/><rect x="1805.2" y="636.7" width="5.4" height="1043.1" fill="url(#g243)"/><rect x="1810.2" y="636.7" width="5.4" height="1022.2" fill="#1fa187"/><rect x="1815.2" y="636.7" width="5.4" height="1022.2" fill="url(#g244)"/><rect x="1820.2" y="636.7" width="5.4" height="1022.2" fill="url(#g245)"/><rect x="1825.2" y="636.7" width="5.4" height="1022.2" fill="#1f9e89"/><rect x="1830.2" y="615.0" width="5.4" height="1044.0" fill="url(#g246)"/><rect x="1835.2" y="615.0" width="5.4" height="1044.0" fill="#1f9e89"/><rect x="1840.2" y="593.2" width="5.4" height="1044.0" fill="#1f9e89"/><rect x="1845.1" y="593.2" width="5.4" height="1044.0" fill="url(#g247)"/><rect x="1850.1" y="593.2" width="5.4" height="1044.0" fill="#1fa188"/><rect x="1855.1" y="593.2" width="5.4" height="1044.0" fill="#22a785"/><rect x="1860.1" y="593.2" width="5.4" height="1044.0" fill="url(#g248)"/><rect x="1865.1" y="593.2" width="5.4" height="1044.0" fill="url(#g249)"/><rect x="1870.1" y="593.2" width="5.4" height="1044.0" fill="#2cb17e"/><rect x="1875.1" y="615.0" width="5.4" height="1044.0" fill="#2ab07f"/><rect x="1880.1" y="615.0" width="5.4" height="1044.0" fill="#28ae80"/><rect x="1885.0" y="615.0" width="5.4" height="1044.0" fill="#2ab07f"/><rect x="1890.0" y="636.7" width="5.4" height="1022.2" fill="#2db27d"/><rect x="1895.0" y="636.7" width="5.4" height="1022.2" fill="#34b679"/><rect x="1900.0" y="636.7" width="5.4" height="1022.2" fill="#32b67a"/><rect x="1905.0" y="636.7" width="5.4" height="1043.1" fill="url(#g250)"/><rect x="1910.0" y="636.7" width="5.4" height="1043.1" fill="url(#g251)"/><rect x="1915.0" y="636.7" width="5.4" height="1043.1" fill="#2fb47c"/><rect x="1920.0" y="636.7" width="5.4" height="1043.1" fill="url(#g252)"/><rect x="1924.9" y="636.7" width="5.4" height="1043.1" fill="url(#g253)"/><rect x="1929.9" y="636.7" width="5.4" height="1022.2" fill="#27ad81"/><rect x="1934.9" y="636.7" width="5.4" height="1022.2" fill="#27ad81"/><rect x="1939.9" y="636.7" width="5.4" height="1022.2" fill="url(#g254)"/><rect x="1944.9" y="615.0" width="5.4" height="1044.0" fill="url(#g255)"/><rect x="1949.9" y="615.0" width="5.4" height="1044.0" fill="#34b679"/><rect x="1954.9" y="615.0" width="5.4" height="1044.0" fill="url(#g256)"/><rect x="1959.9" y="593.2" width="5.4" height="1044.0" fill="#34b679"/><rect x="1964.8" y="593.2" width="5.4" height="1044.0" fill="url(#g257)"/><rect x="1969.8" y="593.2" width="5.4" height="1044.0" fill="url(#g258)"/><rect x="1974.8" y="593.2" width="5.4" height="1044.0" fill="#32b67a"/><rect x="1979.8" y="593.2" width="5.4" height="1044.0" fill="#44bf70"/><rect x="1984.8" y="593.2" width="5.4" height="1044.0" fill="#4ac16d"/><rect x="1989.8" y="593.2" width="5.4" height="1044.0" fill="#56c667"/><rect x="1994.8" y="593.2" width="5.4" height="1044.0" fill="#52c569"/><rect x="1999.8" y="615.0" width="5.4" height="1044.0" fill="url(#g259)"/><rect x="2004.8" y="615.0" width="5.4" height="1044.0" fill="#54c568"/><rect x="2009.7" y="636.7" width="5.4" height="1022.2" fill="url(#g260)"/><rect x="2014.7" y="636.7" width="5.4" height="1022.2" fill="url(#g261)"/><rect x="2019.7" y="636.7" width="5.4" height="1043.1" fill="url(#g262)"/><rect x="2024.7" y="636.7" width="5.4" height="1043.1" fill="#4ec36b"/><rect x="2029.7" y="636.7" width="5.4" height="1043.1" fill="url(#g263)"/><rect x="2034.7" y="636.7" width="5.4" height="1043.1" fill="url(#g264)"/><rect x="2039.7" y="636.7" width="5.4" height="1043.1" fill="url(#g265)"/><rect x="2044.7" y="636.7" width="5.4" height="1022.2" fill="#38b977"/><rect x="2049.6" y="636.7" width="5.4" height="1022.2" fill="#37b878"/><rect x="2054.6" y="636.7" width="5.4" height="1022.2" fill="#34b679"/><rect x="2059.6" y="636.7" width="5.4" height="1022.2" fill="#35b779"/><rect x="2064.6" y="615.0" width="5.4" height="1044.0" fill="#35b779"/><rect x="2069.6" y="615.0" width="5.4" height="1044.0" fill="#35b779"/><rect x="2074.6" y="615.0" width="5.4" height="1044.0" fill="url(#g266)"/><rect x="2079.6" y="593.2" width="5.4" height="1044.0" fill="#38b977"/><rect x="2084.6" y="593.2" width="5.4" height="1044.0" fill="url(#g267)"/><rect x="2089.5" y="593.2" width="5.4" height="1044.0" fill="url(#g268)"/><rect x="2094.5" y="593.2" width="5.4" height="1022.2" fill="#3dbc74"/><rect x="2099.5" y="571.5" width="5.4" height="1044.0" fill="url(#g269)"/><rect x="2104.5" y="593.2" width="5.4" height="1022.2" fill="#48c16e"/><rect x="2109.5" y="593.2" width="5.4" height="1044.0" fill="url(#g270)"/><rect x="2114.5" y="593.2" width="5.4" height="1044.0" fill="url(#g271)"/><rect x="2119.5" y="593.2" width="5.4" height="1044.0" fill="url(#g272)"/><rect x="2124.5" y="615.0" width="5.4" height="1044.0" fill="#5cc863"/><rect x="2129.5" y="615.0" width="5.4" height="1044.0" fill="url(#g273)"/><rect x="2134.4" y="615.0" width="5.4" height="1044.0" fill="#60ca60"/><rect x="2139.4" y="636.7" width="5.4" height="1022.2" fill="#63cb5f"/><rect x="2144.4" y="636.7" width="5.4" height="1022.2" fill="url(#g274)"/><rect x="2149.4" y="636.7" width="5.4" height="1022.2" fill="url(#g275)"/><rect x="2154.4" y="636.7" width="5.4" height="1022.2" fill="#54c568"/><rect x="2159.4" y="636.7" width="5.4" height="1043.1" fill="url(#g276)"/><rect x="2164.4" y="636.7" width="5.4" height="1022.2" fill="url(#g277)"/><rect x="2169.4" y="636.7" width="5.4" height="1022.2" fill="url(#g278)"/><rect x="2174.3" y="636.7" width="5.4" height="1022.2" fill="#4ac16d"/><rect x="2179.3" y="615.0" width="5.4" height="1044.0" fill="url(#g279)"/><rect x="2184.3" y="615.0" width="5.4" height="1044.0" fill="url(#g280)"/><rect x="2189.3" y="615.0" width="5.4" height="1044.0" fill="url(#g281)"/><rect x="2194.3" y="615.0" width="5.4" height="1022.2" fill="url(#g282)"/><rect x="2199.3" y="593.2" width="5.4" height="1044.0" fill="url(#g283)"/><rect x="2204.3" y="593.2" width="5.4" height="1044.0" fill="url(#g284)"/><rect x="2209.3" y="593.2" width="5.4" height="1022.2" fill="#50c46a"/><rect x="2214.2" y="571.5" width="5.4" height="1044.0" fill="#4ac16d"/><rect x="2219.2" y="571.5" width="5.4" height="1044.0" fill="#50c46a"/><rect x="2224.2" y="571.5" width="5.4" height="1044.0" fill="#52c569"/><rect x="2229.2" y="571.5" width="5.4" height="1044.0" fill="#50c46a"/><rect x="2234.2" y="571.5" width="5.4" height="1044.0" fill="url(#g285)"/><rect x="2239.2" y="593.2" width="5.4" height="1022.2" fill="url(#g286)"/><rect x="2244.2" y="593.2" width="5.4" height="1044.0" fill="#50c46a"/><rect x="2249.2" y="593.2" width="5.4" height="1044.0" fill="url(#g287)"/><rect x="2254.1" y="615.0" width="5.4" height="1044.0" fill="#50c46a"/><rect x="2259.1" y="615.0" width="5.4" height="1044.0" fill="#52c569"/><rect x="2264.1" y="615.0" width="5.4" height="1044.0" fill="url(#g288)"/><rect x="2269.1" y="615.0" width="5.4" height="1044.0" fill="url(#g289)"/><rect x="2274.1" y="636.7" width="5.4" height="1022.2" fill="url(#g290)"/><rect x="2279.1" y="636.7" width="5.4" height="1022.2" fill="#52c569"/><rect x="2284.1" y="636.7" width="5.4" height="1022.2" fill="url(#g291)"/><rect x="2289.1" y="636.7" width="5.4" height="1022.2" fill="url(#g292)"/><rect x="2294.1" y="636.7" width="5.4" height="1022.2" fill="url(#g293)"/><rect x="2299.0" y="615.0" width="5.4" height="1044.0" fill="url(#g294)"/><rect x="2304.0" y="615.0" width="5.4" height="1044.0" fill="url(#g295)"/><rect x="2309.0" y="615.0" width="5.4" height="1044.0" fill="url(#g296)"/><rect x="2314.0" y="615.0" width="5.4" height="1044.0" fill="url(#g297)"/><rect x="2319.0" y="593.2" width="5.4" height="1044.0" fill="#42be71"/><rect x="2324.0" y="593.2" width="5.4" height="1044.0" fill="url(#g298)"/><rect x="2329.0" y="593.2" width="5.4" height="1044.0" fill="url(#g299)"/><rect x="2334.0" y="593.2" width="5.4" height="1022.2" fill="url(#g300)"/><rect x="2338.9" y="593.2" width="5.4" height="1022.2" fill="#58c765"/><rect x="2343.9" y="571.5" width="5.4" height="1044.0" fill="url(#g301)"/><rect x="2348.9" y="593.2" width="5.4" height="1022.2" fill="url(#g302)"/><rect x="2353.9" y="593.2" width="5.4" height="1022.2" fill="url(#g303)"/><rect x="2358.9" y="593.2" width="5.4" height="1044.0" fill="url(#g304)"/><rect x="2363.9" y="593.2" width="5.4" height="1044.0" fill="url(#g305)"/><rect x="2368.9" y="593.2" width="5.4" height="1044.0" fill="url(#g306)"/><rect x="2373.9" y="615.0" width="5.4" height="1022.2" fill="url(#g307)"/><rect x="2378.8" y="615.0" width="5.4" height="1044.0" fill="url(#g308)"/><rect x="2383.8" y="615.0" width="5.4" height="1044.0" fill="url(#g309)"/><rect x="2388.8" y="615.0" width="5.4" height="1044.0" fill="url(#g310)"/><rect x="2393.8" y="636.7" width="5.4" height="1022.2" fill="url(#g311)"/><rect x="2398.8" y="636.7" width="5.4" height="1022.2" fill="#4cc26c"/><rect x="2403.8" y="636.7" width="5.4" height="1022.2" fill="#4cc26c"/><rect x="2408.8" y="636.7" width="5.4" height="1022.2" fill="#54c568"/><rect x="2413.8" y="636.7" width="5.4" height="1022.2" fill="url(#g312)"/><rect x="2418.7" y="615.0" width="5.4" height="1044.0" fill="url(#g313)"/><rect x="2423.7" y="615.0" width="5.4" height="1044.0" fill="url(#g314)"/><rect x="2428.7" y="615.0" width="5.4" height="1044.0" fill="url(#g315)"/><rect x="2433.7" y="615.0" width="5.4" height="1044.0" fill="url(#g316)"/><rect x="2438.7" y="615.0" width="5.4" height="1022.2" fill="#56c667"/><rect x="2443.7" y="593.2" width="5.4" height="1044.0" fill="#5ac864"/><rect x="2448.7" y="593.2" width="5.4" height="1044.0" fill="url(#g317)"/><rect x="2453.7" y="593.2" width="5.4" height="1044.0" fill="#58c765"/><rect x="2458.7" y="593.2" width="5.4" height="1044.0" fill="#58c765"/><rect x="2463.6" y="593.2" width="5.4" height="1044.0" fill="url(#g318)"/><rect x="2468.6" y="593.2" width="5.4" height="1044.0" fill="#5ec962"/><rect x="2473.6" y="593.2" width="5.4" height="1044.0" fill="url(#g319)"/><rect x="2478.6" y="593.2" width="5.4" height="1044.0" fill="#65cb5e"/><rect x="2483.6" y="593.2" width="5.4" height="1044.0" fill="#65cb5e"/><rect x="2488.6" y="593.2" width="5.4" height="1044.0" fill="#73d056"/><rect x="2493.6" y="615.0" width="5.4" height="1022.2" fill="#5ec962"/><rect x="2498.6" y="615.0" width="5.4" height="1044.0" fill="url(#g320)"/><rect x="2503.5" y="615.0" width="5.4" height="1044.0" fill="url(#g321)"/><rect x="2508.5" y="615.0" width="5.4" height="1044.0" fill="url(#g322)"/><rect x="2513.5" y="636.7" width="5.4" height="1022.2" fill="url(#g323)"/><rect x="2518.5" y="636.7" width="5.4" height="1022.2" fill="url(#g324)"/><rect x="2523.5" y="636.7" width="5.4" height="1022.2" fill="url(#g325)"/><rect x="2528.5" y="636.7" width="5.4" height="1022.2" fill="url(#g326)"/><rect x="2533.5" y="636.7" width="5.4" height="1022.2" fill="url(#g327)"/><rect x="2538.5" y="636.7" width="5.4" height="1022.2" fill="url(#g328)"/><rect x="2543.4" y="636.7" width="5.4" height="1022.2" fill="url(#g329)"/><rect x="2548.4" y="615.0" width="5.4" height="1044.0" fill="url(#g330)"/><rect x="2553.4" y="615.0" width="5.4" height="1044.0" fill="url(#g331)"/><rect x="2558.4" y="615.0" width="5.4" height="1044.0" fill="url(#g332)"/><rect x="2563.4" y="615.0" width="5.4" height="1044.0" fill="url(#g333)"/><rect x="2568.4" y="593.2" width="5.4" height="1044.0" fill="url(#g334)"/><rect x="2573.4" y="593.2" width="5.4" height="1044.0" fill="url(#g335)"/><rect x="2578.4" y="593.2" width="5.4" height="1044.0" fill="url(#g336)"/><rect x="2583.4" y="593.2" width="5.4" height="1044.0" fill="url(#g337)"/><rect x="2588.3" y="593.2" width="5.4" height="1044.0" fill="url(#g338)"/><rect x="2593.3" y="593.2" width="5.4" height="1044.0" fill="url(#g339)"/><rect x="2598.3" y="593.2" width="5.4" height="1044.0" fill="url(#g340)"/><rect x="2603.3" y="593.2" width="5.4" height="1044.0" fill="#65cb5e"/><rect x="2608.3" y="593.2" width="5.4" height="1044.0" fill="#60ca60"/><rect x="2613.3" y="615.0" width="5.4" height="1022.2" fill="url(#g341)"/><rect x="2618.3" y="615.0" width="5.4" height="1044.0" fill="url(#g342)"/><rect x="2623.3" y="615.0" width="5.4" height="1044.0" fill="url(#g343)"/><rect x="2628.2" y="615.0" width="5.4" height="1044.0" fill="url(#g344)"/><rect x="2633.2" y="615.0" width="5.4" height="1044.0" fill="url(#g345)"/><rect x="2638.2" y="636.7" width="5.4" height="1022.2" fill="url(#g346)"/><rect x="2643.2" y="636.7" width="5.4" height="1022.2" fill="#56c667"/><rect x="2648.2" y="636.7" width="5.4" height="1022.2" fill="#4cc26c"/><rect x="2653.2" y="636.7" width="5.4" height="1022.2" fill="#4ac16d"/><rect x="2658.2" y="636.7" width="5.4" height="1022.2" fill="url(#g347)"/><rect x="2663.2" y="615.0" width="5.4" height="1044.0" fill="#4cc26c"/><rect x="2668.1" y="615.0" width="5.4" height="1044.0" fill="url(#g348)"/><rect x="2673.1" y="615.0" width="5.4" height="1044.0" fill="#4ec36b"/><rect x="2678.1" y="615.0" width="5.4" height="1044.0" fill="#54c568"/><rect x="2683.1" y="615.0" width="5.4" height="1022.2" fill="#5ec962"/><rect x="2688.1" y="593.2" width="5.4" height="1044.0" fill="url(#g349)"/><rect x="2693.1" y="593.2" width="5.4" height="1044.0" fill="url(#g350)"/><rect x="2698.1" y="593.2" width="5.4" height="1044.0" fill="url(#g351)"/><rect x="2703.1" y="593.2" width="5.4" height="1044.0" fill="url(#g352)"/><rect x="2708.0" y="593.2" width="5.4" height="1044.0" fill="url(#g353)"/><rect x="2713.0" y="615.0" width="5.4" height="1022.2" fill="url(#g354)"/><rect x="2718.0" y="615.0" width="5.4" height="1022.2" fill="url(#g355)"/><rect x="2723.0" y="615.0" width="5.4" height="1044.0" fill="url(#g356)"/><rect x="2728.0" y="615.0" width="5.4" height="1044.0" fill="url(#g357)"/><rect x="2733.0" y="615.0" width="5.4" height="1044.0" fill="url(#g358)"/><rect x="2738.0" y="615.0" width="5.4" height="1044.0" fill="url(#g359)"/><rect x="2743.0" y="615.0" width="5.4" height="1044.0" fill="url(#g360)"/><rect x="2748.0" y="615.0" width="5.4" height="1044.0" fill="url(#g361)"/><rect x="2752.9" y="615.0" width="5.4" height="1044.0" fill="#7ad151"/><rect x="2757.9" y="615.0" width="5.4" height="1044.0" fill="url(#g362)"/><rect x="2762.9" y="615.0" width="5.4" height="1044.0" fill="url(#g363)"/><rect x="2767.9" y="615.0" width="5.4" height="1044.0" fill="#7cd250"/><rect x="2772.9" y="615.0" width="5.4" height="1044.0" fill="url(#g364)"/><rect x="2777.9" y="615.0" width="5.4" height="1044.0" fill="#6ccd5a"/><rect x="2782.9" y="615.0" width="5.4" height="1044.0" fill="#63cb5f"/><rect x="2787.9" y="615.0" width="5.4" height="1044.0" fill="#5cc863"/><rect x="2792.8" y="615.0" width="5.4" height="1044.0" fill="#54c568"/><rect x="2797.8" y="593.2" width="5.4" height="1044.0" fill="#5cc863"/><rect x="2802.8" y="593.2" width="5.4" height="1044.0" fill="#54c568"/><rect x="2807.8" y="593.2" width="5.4" height="1044.0" fill="url(#g365)"/><rect x="2812.8" y="593.2" width="5.4" height="1044.0" fill="#58c765"/><rect x="2817.8" y="593.2" width="5.4" height="1044.0" fill="#50c46a"/><rect x="2822.8" y="593.2" width="5.4" height="1044.0" fill="#4cc26c"/><rect x="2827.8" y="593.2" width="5.4" height="1044.0" fill="#56c667"/><rect x="2832.7" y="593.2" width="5.4" height="1044.0" fill="url(#g366)"/><rect x="2837.7" y="593.2" width="5.4" height="1044.0" fill="#58c765"/><rect x="2842.7" y="593.2" width="5.4" height="1044.0" fill="url(#g367)"/><rect x="2847.7" y="593.2" width="5.4" height="1044.0" fill="url(#g368)"/><rect x="2852.7" y="593.2" width="5.4" height="1044.0" fill="#52c569"/><rect x="2857.7" y="593.2" width="5.4" height="1044.0" fill="url(#g369)"/><rect x="2862.7" y="593.2" width="5.4" height="1044.0" fill="url(#g370)"/><rect x="2867.7" y="593.2" width="5.4" height="1044.0" fill="#52c569"/><rect x="2872.7" y="615.0" width="5.4" height="1022.2" fill="url(#g371)"/><rect x="2877.6" y="615.0" width="5.4" height="1044.0" fill="url(#g372)"/><rect x="2882.6" y="615.0" width="5.4" height="1044.0" fill="url(#g373)"/><rect x="2887.6" y="615.0" width="5.4" height="1044.0" fill="url(#g374)"/><rect x="2892.6" y="615.0" width="5.4" height="1044.0" fill="url(#g375)"/><rect x="2897.6" y="615.0" width="5.4" height="1044.0" fill="url(#g376)"/><rect x="2902.6" y="615.0" width="5.4" height="1044.0" fill="#4ac16d"/><rect x="2907.6" y="615.0" width="5.4" height="1044.0" fill="#4ac16d"/><rect x="2912.6" y="593.2" width="5.4" height="1044.0" fill="url(#g377)"/><rect x="2917.5" y="593.2" width="5.4" height="1044.0" fill="url(#g378)"/><rect x="2922.5" y="593.2" width="5.4" height="1044.0" fill="url(#g379)"/><rect x="2927.5" y="593.2" width="5.4" height="1044.0" fill="url(#g380)"/><rect x="2932.5" y="593.2" width="5.4" height="1044.0" fill="url(#g381)"/><rect x="2937.5" y="593.2" width="5.4" height="1044.0" fill="url(#g382)"/><rect x="2942.5" y="593.2" width="5.4" height="1044.0" fill="url(#g383)"/><rect x="2947.5" y="615.0" width="5.4" height="1022.2" fill="url(#g384)"/><rect x="2952.5" y="615.0" width="5.4" height="1044.0" fill="url(#g385)"/><rect x="2957.4" y="615.0" width="5.4" height="1044.0" fill="url(#g386)"/><rect x="2962.4" y="615.0" width="5.4" height="1044.0" fill="url(#g387)"/><rect x="2967.4" y="593.2" width="5.4" height="1044.0" fill="url(#g388)"/><rect x="2972.4" y="593.2" width="5.4" height="1044.0" fill="url(#g389)"/><rect x="2977.4" y="593.2" width="5.4" height="1044.0" fill="#40bd72"/><rect x="3037.3" y="593.2" width="5.4" height="1044.0" fill="url(#g390)"/><rect x="3042.2" y="593.2" width="5.4" height="1044.0" fill="#44bf70"/><rect x="3047.2" y="593.2" width="5.4" height="1044.0" fill="#3fbc73"/><rect x="3052.2" y="593.2" width="5.4" height="1044.0" fill="url(#g391)"/><rect x="3057.2" y="615.0" width="5.4" height="1044.0" fill="url(#g392)"/><rect x="3062.2" y="615.0" width="5.4" height="1044.0" fill="url(#g393)"/><rect x="3067.2" y="615.0" width="5.4" height="1044.0" fill="#3bbb75"/><rect x="3072.2" y="615.0" width="5.4" height="1044.0" fill="url(#g394)"/><rect x="3077.2" y="636.7" width="5.4" height="1022.2" fill="url(#g395)"/><rect x="3082.1" y="636.7" width="5.4" height="1022.2" fill="#3aba76"/><rect x="3087.1" y="636.7" width="5.4" height="1022.2" fill="url(#g396)"/><rect x="3092.1" y="636.7" width="5.4" height="1022.2" fill="url(#g397)"/><rect x="3097.1" y="636.7" width="5.4" height="1022.2" fill="#3dbc74"/><rect x="3102.1" y="636.7" width="5.4" height="1022.2" fill="url(#g398)"/><rect x="3107.1" y="615.0" width="5.4" height="1044.0" fill="#46c06f"/><rect x="3112.1" y="615.0" width="5.4" height="1044.0" fill="url(#g399)"/><rect x="3117.1" y="615.0" width="5.4" height="1044.0" fill="#40bd72"/><rect x="3122.0" y="615.0" width="5.4" height="1044.0" fill="#3aba76"/><rect x="3127.0" y="615.0" width="5.4" height="1044.0" fill="url(#g400)"/><rect x="3132.0" y="615.0" width="5.4" height="1044.0" fill="#38b977"/><rect x="3137.0" y="615.0" width="5.4" height="1044.0" fill="url(#g401)"/><rect x="3142.0" y="615.0" width="5.4" height="1044.0" fill="url(#g402)"/><rect x="3147.0" y="615.0" width="5.4" height="1044.0" fill="url(#g403)"/><rect x="3152.0" y="593.2" width="5.4" height="1044.0" fill="url(#g404)"/><rect x="3157.0" y="593.2" width="5.4" height="1044.0" fill="url(#g405)"/><rect x="3161.9" y="593.2" width="5.4" height="1044.0" fill="url(#g406)"/><rect x="3166.9" y="593.2" width="5.4" height="1044.0" fill="#22a884"/><rect x="3171.9" y="593.2" width="5.4" height="1044.0" fill="#23a983"/><rect x="3176.9" y="615.0" width="5.4" height="1044.0" fill="#24aa83"/><rect x="3181.9" y="615.0" width="5.4" height="950.9" fill="#22a884"/><rect x="3186.9" y="615.0" width="5.4" height="1044.0" fill="url(#g407)"/><rect x="3191.9" y="636.7" width="5.4" height="957.9" fill="url(#g408)"/><rect x="3196.9" y="636.7" width="5.4" height="957.9" fill="#3aba76"/><rect x="3201.9" y="636.7" width="5.4" height="957.9" fill="url(#g409)"/><rect x="3206.8" y="636.7" width="5.4" height="957.9" fill="url(#g410)"/><rect x="3211.8" y="657.6" width="5.4" height="937.0" fill="#46c06f"/><rect x="3216.8" y="657.6" width="5.4" height="937.0" fill="url(#g411)"/><rect x="3221.8" y="636.7" width="5.4" height="1043.1" fill="url(#g412)"/><rect x="3226.8" y="636.7" width="5.4" height="1043.1" fill="url(#g413)"/><rect x="3231.8" y="636.7" width="5.4" height="1022.2" fill="#40bd72"/><rect x="3236.8" y="636.7" width="5.4" height="1022.2" fill="url(#g414)"/><rect x="3241.8" y="636.7" width="5.4" height="1022.2" fill="url(#g415)"/><rect x="3246.7" y="636.7" width="5.4" height="1022.2" fill="url(#g416)"/><rect x="3251.7" y="615.0" width="5.4" height="1044.0" fill="#37b878"/><rect x="3256.7" y="615.0" width="5.4" height="1044.0" fill="url(#g417)"/><rect x="3261.7" y="615.0" width="5.4" height="1044.0" fill="#38b977"/><rect x="3266.7" y="615.0" width="5.4" height="1044.0" fill="#3fbc73"/><rect x="3271.7" y="615.0" width="5.4" height="1044.0" fill="#38b977"/><rect x="3276.7" y="593.2" width="5.4" height="1044.0" fill="url(#g418)"/><rect x="3281.7" y="593.2" width="5.4" height="1044.0" fill="#3fbc73"/><rect x="3286.6" y="593.2" width="5.4" height="1044.0" fill="url(#g419)"/><rect x="3291.6" y="593.2" width="5.4" height="1044.0" fill="url(#g420)"/><rect x="3296.6" y="593.2" width="5.4" height="1044.0" fill="#5ac864"/><rect x="3301.6" y="593.2" width="5.4" height="1044.0" fill="url(#g421)"/><rect x="3306.6" y="615.0" width="5.4" height="1044.0" fill="url(#g422)"/><rect x="3311.6" y="615.0" width="5.4" height="1044.0" fill="url(#g423)"/><rect x="3316.6" y="636.7" width="5.4" height="1022.2" fill="url(#g424)"/><rect x="3321.6" y="636.7" width="5.4" height="1043.1" fill="url(#g425)"/><rect x="3326.6" y="636.7" width="5.4" height="1043.1" fill="url(#g426)"/><rect x="3331.5" y="657.6" width="5.4" height="1022.2" fill="#67cc5c"/><rect x="3336.5" y="657.6" width="5.4" height="1022.2" fill="url(#g427)"/><rect x="3341.5" y="636.7" width="5.4" height="1043.1" fill="url(#g428)"/><rect x="3346.5" y="636.7" width="5.4" height="1043.1" fill="url(#g429)"/><rect x="3351.5" y="636.7" width="5.4" height="1043.1" fill="url(#g430)"/><rect x="3356.5" y="636.7" width="5.4" height="1022.2" fill="url(#g431)"/><rect x="3361.5" y="636.7" width="5.4" height="1022.2" fill="url(#g432)"/><rect x="3366.5" y="615.0" width="5.4" height="1044.0" fill="url(#g433)"/><rect x="3371.4" y="615.0" width="5.4" height="1044.0" fill="#44bf70"/><rect x="3376.4" y="615.0" width="5.4" height="1044.0" fill="#3fbc73"/><rect x="3381.4" y="615.0" width="5.4" height="1044.0" fill="#46c06f"/><rect x="3386.4" y="615.0" width="5.4" height="1044.0" fill="#46c06f"/><rect x="3391.4" y="593.2" width="5.4" height="1044.0" fill="url(#g434)"/><rect x="3416.3" y="593.2" width="5.4" height="1022.2" fill="#54c568"/><rect x="3421.3" y="593.2" width="5.4" height="1022.2" fill="#58c765"/><rect x="3426.3" y="593.2" width="5.4" height="1044.0" fill="url(#g435)"/><rect x="3431.3" y="615.0" width="5.4" height="1044.0" fill="url(#g436)"/><rect x="3436.3" y="615.0" width="5.4" height="1044.0" fill="url(#g437)"/><rect x="3441.3" y="615.0" width="5.4" height="1044.0" fill="#6ccd5a"/><rect x="3446.3" y="636.7" width="5.4" height="1022.2" fill="url(#g438)"/><rect x="3451.2" y="636.7" width="5.4" height="1043.1" fill="#5ec962"/><rect x="3456.2" y="636.7" width="5.4" height="1043.1" fill="url(#g439)"/><rect x="3461.2" y="636.7" width="5.4" height="1043.1" fill="#5cc863"/><rect x="3466.2" y="636.7" width="5.4" height="1043.1" fill="#4ec36b"/><rect x="3471.2" y="636.7" width="5.4" height="1043.1" fill="#56c667"/><rect x="3476.2" y="636.7" width="5.4" height="1043.1" fill="#52c569"/><rect x="3481.2" y="636.7" width="5.4" height="1022.2" fill="url(#g440)"/><rect x="3486.2" y="636.7" width="5.4" height="1022.2" fill="#4ec36b"/><rect x="3491.2" y="636.7" width="5.4" height="1022.2" fill="url(#g441)"/><rect x="3496.1" y="615.0" width="5.4" height="1044.0" fill="#52c569"/><rect x="3501.1" y="615.0" width="5.4" height="1044.0" fill="url(#g442)"/><rect x="3506.1" y="615.0" width="5.4" height="1044.0" fill="url(#g443)"/><rect x="3511.1" y="593.2" width="5.4" height="1044.0" fill="url(#g444)"/><rect x="3516.1" y="593.2" width="5.4" height="1044.0" fill="#4ec36b"/><rect x="3521.1" y="593.2" width="5.4" height="1022.2" fill="#4ec36b"/><rect x="3526.1" y="571.5" width="5.4" height="1044.0" fill="url(#g445)"/><rect x="3531.1" y="571.5" width="5.4" height="1044.0" fill="#4cc26c"/><rect x="3536.0" y="571.5" width="5.4" height="1044.0" fill="#50c46a"/><rect x="3541.0" y="571.5" width="5.4" height="1044.0" fill="#52c569"/><rect x="3546.0" y="593.2" width="5.4" height="1022.2" fill="#5cc863"/><rect x="3551.0" y="593.2" width="5.4" height="1044.0" fill="url(#g446)"/><rect x="3556.0" y="593.2" width="5.4" height="1044.0" fill="url(#g447)"/><rect x="3561.0" y="615.0" width="5.4" height="1044.0" fill="#5ec962"/><rect x="3566.0" y="615.0" width="5.4" height="1044.0" fill="#63cb5f"/><rect x="3571.0" y="636.7" width="5.4" height="1022.2" fill="url(#g448)"/><rect x="3575.9" y="636.7" width="5.4" height="1022.2" fill="#65cb5e"/><rect x="3580.9" y="636.7" width="5.4" height="1043.1" fill="#63cb5f"/><rect x="3585.9" y="636.7" width="5.4" height="1043.1" fill="url(#g449)"/><rect x="3590.9" y="636.7" width="5.4" height="1043.1" fill="url(#g450)"/><rect x="3595.9" y="636.7" width="5.4" height="1022.2" fill="url(#g451)"/><rect x="3600.9" y="636.7" width="5.4" height="1022.2" fill="#5ac864"/><rect x="3605.9" y="636.7" width="5.4" height="1022.2" fill="#54c568"/><rect x="3610.9" y="615.0" width="5.4" height="1044.0" fill="#56c667"/><rect x="3615.8" y="615.0" width="5.4" height="1044.0" fill="url(#g452)"/><rect x="3620.8" y="593.2" width="5.4" height="1044.0" fill="url(#g453)"/><rect x="3625.8" y="593.2" width="5.4" height="1044.0" fill="url(#g454)"/><rect x="3630.8" y="593.2" width="5.4" height="1022.2" fill="#46c06f"/><rect x="3635.8" y="571.5" width="5.4" height="1044.0" fill="#46c06f"/><rect x="3640.8" y="571.5" width="5.4" height="1044.0" fill="#44bf70"/><rect x="3645.8" y="571.5" width="5.4" height="1044.0" fill="url(#g455)"/><rect x="3650.8" y="571.5" width="5.4" height="1044.0" fill="url(#g456)"/><rect x="3655.8" y="571.5" width="5.4" height="1044.0" fill="url(#g457)"/><rect x="3660.7" y="571.5" width="5.4" height="1044.0" fill="#4cc26c"/><rect x="3665.7" y="571.5" width="5.4" height="1044.0" fill="#50c46a"/><rect x="3670.7" y="571.5" width="5.4" height="1044.0" fill="url(#g458)"/><rect x="3675.7" y="593.2" width="5.4" height="1044.0" fill="url(#g459)"/><rect x="3680.7" y="593.2" width="5.4" height="1044.0" fill="#42be71"/><rect x="3685.7" y="615.0" width="5.4" height="1022.2" fill="#4cc26c"/><rect x="3690.7" y="615.0" width="5.4" height="1044.0" fill="#3fbc73"/><rect x="3695.7" y="615.0" width="5.4" height="1044.0" fill="url(#g460)"/><rect x="3700.6" y="615.0" width="5.4" height="1044.0" fill="#3aba76"/><rect x="3705.6" y="636.7" width="5.4" height="1022.2" fill="#3bbb75"/><rect x="3710.6" y="636.7" width="5.4" height="1022.2" fill="url(#g461)"/><rect x="3715.6" y="636.7" width="5.4" height="1022.2" fill="#3bbb75"/><rect x="3720.6" y="636.7" width="5.4" height="1022.2" fill="url(#g462)"/><rect x="3725.6" y="615.0" width="5.4" height="1044.0" fill="url(#g463)"/><rect x="3730.6" y="615.0" width="5.4" height="1044.0" fill="url(#g464)"/><rect x="3735.6" y="615.0" width="5.4" height="1044.0" fill="#38b977"/><rect x="3740.5" y="593.2" width="5.4" height="1044.0" fill="url(#g465)"/><rect x="3745.5" y="593.2" width="5.4" height="1044.0" fill="url(#g466)"/><rect x="3750.5" y="593.2" width="5.4" height="1044.0" fill="url(#g467)"/><rect x="3755.5" y="593.2" width="5.4" height="1022.2" fill="url(#g468)"/><rect x="3760.5" y="571.5" width="5.4" height="1044.0" fill="url(#g469)"/><rect x="3765.5" y="571.5" width="5.4" height="1044.0" fill="url(#g470)"/><rect x="3770.5" y="571.5" width="5.4" height="1044.0" fill="url(#g471)"/><rect x="3775.5" y="571.5" width="5.4" height="1044.0" fill="url(#g472)"/><rect x="3780.5" y="571.5" width="5.4" height="1044.0" fill="url(#g473)"/><rect x="3785.4" y="571.5" width="5.4" height="1044.0" fill="url(#g474)"/><rect x="3790.4" y="593.2" width="5.4" height="1044.0" fill="url(#g475)"/><rect x="3795.4" y="593.2" width="5.4" height="1044.0" fill="url(#g476)"/><rect x="3800.4" y="615.0" width="5.4" height="1044.0" fill="#42be71"/><rect x="3805.4" y="615.0" width="5.4" height="1044.0" fill="#40bd72"/><rect x="3810.4" y="615.0" width="5.4" height="1044.0" fill="url(#g477)"/><rect x="3815.4" y="636.7" width="5.4" height="1022.2" fill="url(#g478)"/><rect x="3820.4" y="636.7" width="5.4" height="1022.2" fill="url(#g479)"/><rect x="3825.3" y="636.7" width="5.4" height="1043.1" fill="url(#g480)"/><rect x="3830.3" y="636.7" width="5.4" height="1043.1" fill="#3fbc73"/><rect x="3835.3" y="636.7" width="3.8" height="1043.1" fill="#3fbc73"/>
</g>
<g stroke="#b0b0b0" stroke-opacity="0.3" stroke-width="3.33" stroke-dasharray="12.3 5.3" fill="none">
<path d="M251.5 1702.6 V322.5"/>
<path d="M490.9 1702.6 V322.5"/>
<path d="M730.3 1702.6 V322.5"/>
<path d="M969.8 1702.6 V322.5"/>
<path d="M1209.2 1702.6 V322.5"/>
<path d="M1448.6 1702.6 V322.5"/>
<path d="M1688.0 1702.6 V322.5"/>
<path d="M1927.4 1702.6 V322.5"/>
<path d="M2166.9 1702.6 V322.5"/>
<path d="M2406.3 1702.6 V322.5"/>
<path d="M2645.7 1702.6 V322.5"/>
<path d="M2885.1 1702.6 V322.5"/>
<path d="M3124.5 1702.6 V322.5"/>
<path d="M3364.0 1702.6 V322.5"/>
<path d="M3603.4 1702.6 V322.5"/>
<path d="M251.5 452.3 H3838.7"/>
<path d="M251.5 626.3 H3838.7"/>
<path d="M251.5 800.3 H3838.7"/>
<path d="M251.5 974.3 H3838.7"/>
<path d="M251.5 1148.3 H3838.7"/>
<path d="M251.5 1322.3 H3838.7"/>
<path d="M251.5 1496.3 H3838.7"/>
<path d="M251.5 1670.3 H3838.7"/>
</g>
<path d="M251.5 464.6 L256.5 465.9 L261.5 462.1 L266.5 457.9 L271.5 455.8 L276.4 449.6 L281.4 443.5 L286.4 437.9 L291.4 424.6 L296.4 420.1 L301.4 418.9 L306.4 415.8 L311.4 414.1 L316.3 416.9 L321.3 419.5 L326.3 428.3 L331.3 433.4 L336.3 440.9 L341.3 447.1 L346.3 456.2 L351.3 456.6 L356.2 464.6 L361.2 469.8 L366.2 469.3 L371.2 474.0 L376.2 473.3 L381.2 467.0 L386.2 465.4 L391.2 453.7 L396.1 450.0 L401.1 443.8 L406.1 432.8 L411.1 430.3 L416.1 421.1 L421.1 421.1 L426.1 415.3 L431.1 415.3 L436.1 411.5 L441.0 412.7 L446.0 419.4 L451.0 423.7 L456.0 431.9 L461.0 437.5 L466.0 446.9 L471.0 455.3 L476.0 461.6 L480.9 463.6 L485.9 465.7 L490.9 473.5 L495.9 474.2 L500.9 467.3 L505.9 466.7 L510.9 461.7 L515.9 453.7 L520.8 446.7 L525.8 440.5 L530.8 436.2 L535.8 427.9 L540.8 425.1 L545.8 419.8 L550.8 421.7 L555.8 425.2 L560.8 423.7 L565.7 422.8 L570.7 430.0 L575.7 435.2 L580.7 440.6 L585.7 446.2 L590.7 451.0 L595.7 458.1 L600.7 459.6 L605.6 468.3 L610.6 470.6 L615.6 468.9 L620.6 469.1 L625.6 471.5 L630.6 464.5 L635.6 456.4 L640.6 450.5 L645.5 445.5 L650.5 434.6 L655.5 428.0 L660.5 423.3 L665.5 421.9 L670.5 419.1 L675.5 418.8 L680.5 418.0 L685.4 416.2 L690.4 417.9 L695.4 421.9 L700.4 424.9 L705.4 428.6 L710.4 434.2 L715.4 438.4 L720.4 443.8 L725.4 446.6 L730.3 444.9 L735.3 448.3 L740.3 451.0 L745.3 451.0 L750.3 447.4 L755.3 439.4 L760.3 433.9 L765.3 430.9 L770.2 421.7 L775.2 419.4 L780.2 412.2 L785.2 411.5 L790.2 407.6 L795.2 412.1 L800.2 413.4 L805.2 414.3 L810.1 414.3 L815.1 416.2 L820.1 420.4 L825.1 419.5 L830.1 422.7 L835.1 427.7 L840.1 432.4 L845.1 432.0 L850.0 439.3 L855.0 443.5 L860.0 444.8 L865.0 447.2 L870.0 445.0 L875.0 439.5 L880.0 436.2 L885.0 431.9 L890.0 426.6 L894.9 424.7 L899.9 423.3 L904.9 420.8 L909.9 420.8 L914.9 420.9 L919.9 424.9 L924.9 427.6 L929.9 425.2 L934.8 428.6 L939.8 430.6 L944.8 427.8 L949.8 431.6 L954.8 431.9 L959.8 436.1 L964.8 439.6 L969.8 442.7 L974.7 444.1 L979.7 445.5 L984.7 446.6 L989.7 444.1 L994.7 444.0 L999.7 438.4 L1004.7 437.5 L1009.7 431.0 L1014.7 427.9 L1019.6 427.8 L1024.6 428.1 L1029.6 435.3 L1034.6 433.2 L1039.6 434.8 L1044.6 437.0 L1049.6 440.9 L1054.6 438.8 L1059.5 436.4 L1064.5 442.5 L1069.5 439.6 L1074.5 440.4 L1079.5 446.0 L1084.5 445.6 L1089.5 449.4 L1094.5 449.7 L1099.4 450.2 L1104.4 447.9 L1109.4 445.5 L1114.4 440.4 L1119.4 440.3 L1124.4 435.0 L1129.4 430.0 L1134.4 429.6 L1139.3 433.1 L1144.3 430.2 L1149.3 433.5 L1154.3 435.4 L1159.3 439.3 L1164.3 440.6 L1169.3 445.5 L1174.3 451.2 L1179.3 451.3 L1184.2 448.0 L1189.2 449.9 L1194.2 447.7 L1199.2 449.4 L1204.2 451.4 L1209.2 448.4 L1214.2 451.9 L1219.2 454.1 L1224.1 446.0 L1229.1 448.8 L1234.1 440.6 L1239.1 436.2 L1244.1 433.8 L1249.1 434.3 L1254.1 428.8 L1259.1 434.9 L1264.0 437.4 L1269.0 439.1 L1274.0 441.2 L1279.0 445.8 L1284.0 447.7 L1289.0 452.4 L1294.0 453.8 L1299.0 456.0 L1304.0 454.6 L1308.9 453.0 L1313.9 454.6 L1318.9 453.2 L1323.9 455.0 L1328.9 454.9 L1333.9 453.3 L1338.9 452.9 L1343.9 450.2 L1348.8 445.4 L1353.8 437.2 L1358.8 436.3 L1363.8 432.2 L1368.8 430.8 L1373.8 428.3 L1378.8 428.4 L1383.8 433.1 L1388.7 435.2 L1393.7 439.2 L1398.7 446.1 L1403.7 450.7 L1408.7 451.9 L1413.7 456.3 L1418.7 456.6 L1423.7 454.9 L1428.6 454.4 L1433.6 456.2 L1438.6 455.7 L1443.6 453.4 L1448.6 453.2 L1453.6 455.0 L1458.6 447.9 L1463.6 447.8 L1468.6 441.7 L1473.5 438.9 L1478.5 429.1 L1483.5 426.3 L1488.5 420.0 L1493.5 419.9 L1498.5 418.9 L1503.5 421.4 L1508.5 426.1 L1513.4 432.8 L1518.4 437.8 L1523.4 438.9 L1528.4 444.1 L1533.4 449.2 L1538.4 450.5 L1543.4 449.1 L1548.4 446.8 L1553.3 445.9 L1558.3 448.8 L1563.3 443.9 L1568.3 441.0 L1573.3 442.4 L1578.3 442.1 L1583.3 438.7 L1588.3 435.6 L1593.2 426.0 L1598.2 420.5 L1603.2 411.7 L1608.2 407.9 L1613.2 408.4 L1618.2 407.6 L1623.2 410.3 L1628.2 417.6 L1633.2 427.6 L1638.1 440.5 L1643.1 442.0 L1648.1 450.9 L1653.1 459.7 L1658.1 464.7 L1663.1 464.9 L1668.1 464.9 L1673.1 466.7 L1678.0 464.1 L1683.0 464.4 L1688.0 462.6 L1693.0 457.5 L1698.0 457.1 L1703.0 456.4 L1708.0 449.4 L1713.0 445.3 L1717.9 437.3 L1722.9 427.4 L1727.9 419.5 L1732.9 419.8 L1737.9 417.5 L1742.9 423.3 L1747.9 424.3 L1752.9 432.5 L1757.9 444.8 L1762.8 448.2 L1767.8 452.7 L1772.8 459.3 L1777.8 463.8 L1782.8 465.2 L1787.8 471.8 L1792.8 471.8 L1797.8 468.7 L1802.7 467.6 L1807.7 461.3 L1812.7 461.1 L1817.7 460.7 L1822.7 456.8 L1827.7 444.7 L1832.7 443.5 L1837.7 437.1 L1842.6 427.5 L1847.6 420.1 L1852.6 417.1 L1857.6 418.1 L1862.6 417.8 L1867.6 414.5 L1872.6 423.5 L1877.6 435.7 L1882.5 437.3 L1887.5 443.8 L1892.5 451.2 L1897.5 456.8 L1902.5 461.1 L1907.5 467.8 L1912.5 472.0 L1917.5 468.2 L1922.5 469.0 L1927.4 462.9 L1932.4 463.1 L1937.4 457.0 L1942.4 452.6 L1947.4 443.9 L1952.4 442.2 L1957.4 435.8 L1962.4 427.2 L1967.3 420.0 L1972.3 414.3 L1977.3 411.0 L1982.3 409.4 L1987.3 407.5 L1992.3 415.9 L1997.3 418.2 L2002.3 428.1 L2007.2 442.0 L2012.2 453.9 L2017.2 457.3 L2022.2 461.9 L2027.2 467.4 L2032.2 464.1 L2037.2 464.8 L2042.2 464.6 L2047.1 460.1 L2052.1 457.1 L2057.1 456.6 L2062.1 451.3 L2067.1 448.0 L2072.1 442.7 L2077.1 434.8 L2082.1 425.8 L2087.1 419.7 L2092.0 416.6 L2097.0 407.2 L2102.0 407.9 L2107.0 405.5 L2112.0 407.1 L2117.0 416.0 L2122.0 425.5 L2127.0 434.9 L2131.9 438.1 L2136.9 448.0 L2141.9 453.4 L2146.9 456.0 L2151.9 460.2 L2156.9 462.3 L2161.9 464.0 L2166.9 466.2 L2171.8 460.1 L2176.8 453.7 L2181.8 449.2 L2186.8 442.4 L2191.8 436.9 L2196.8 429.5 L2201.8 420.2 L2206.8 415.3 L2211.8 408.5 L2216.7 405.9 L2221.7 397.7 L2226.7 398.4 L2231.7 399.3 L2236.7 400.6 L2241.7 406.4 L2246.7 417.3 L2251.7 424.1 L2256.6 434.7 L2261.6 437.6 L2266.6 443.4 L2271.6 451.5 L2276.6 451.0 L2281.6 457.1 L2286.6 454.5 L2291.6 454.8 L2296.5 450.0 L2301.5 446.7 L2306.5 445.8 L2311.5 440.9 L2316.5 432.2 L2321.5 424.5 L2326.5 420.3 L2331.5 415.0 L2336.4 408.8 L2341.4 410.8 L2346.4 406.0 L2351.4 408.8 L2356.4 408.7 L2361.4 413.8 L2366.4 419.4 L2371.4 424.2 L2376.4 432.4 L2381.3 437.3 L2386.3 445.6 L2391.3 449.4 L2396.3 453.2 L2401.3 452.6 L2406.3 454.9 L2411.3 452.4 L2416.3 450.0 L2421.2 449.3 L2426.2 443.4 L2431.2 439.2 L2436.2 434.4 L2441.2 431.1 L2446.2 426.8 L2451.2 420.5 L2456.2 414.6 L2461.1 417.3 L2466.1 413.3 L2471.1 415.2 L2476.1 414.3 L2481.1 416.5 L2486.1 418.2 L2491.1 429.6 L2496.1 431.0 L2501.1 437.0 L2506.0 441.5 L2511.0 448.2 L2516.0 453.6 L2521.0 456.7 L2526.0 457.0 L2531.0 464.7 L2536.0 458.9 L2541.0 455.8 L2545.9 452.1 L2550.9 445.7 L2555.9 441.3 L2560.9 436.2 L2565.9 429.4 L2570.9 425.7 L2575.9 425.3 L2580.9 425.3 L2585.8 423.0 L2590.8 423.8 L2595.8 423.1 L2600.8 424.8 L2605.8 427.4 L2610.8 427.4 L2615.8 432.5 L2620.8 432.8 L2625.7 436.3 L2630.7 445.1 L2635.7 448.2 L2640.7 455.6 L2645.7 454.2 L2650.7 454.1 L2655.7 455.1 L2660.7 451.3 L2665.7 448.9 L2670.6 443.5 L2675.6 439.0 L2680.6 434.0 L2685.6 430.7 L2690.6 428.0 L2695.6 428.8 L2700.6 426.1 L2705.6 425.8 L2710.5 429.2 L2715.5 431.7 L2720.5 429.0 L2725.5 429.1 L2730.5 432.2 L2735.5 435.1 L2740.5 433.5 L2745.5 432.8 L2750.4 441.7 L2755.4 441.3 L2760.4 445.9 L2765.4 448.1 L2770.4 445.6 L2775.4 448.1 L2780.4 444.2 L2785.4 438.2 L2790.3 435.2 L2795.3 432.9 L2800.3 430.0 L2805.3 425.6 L2810.3 425.1 L2815.3 419.7 L2820.3 424.3 L2825.3 427.2 L2830.3 428.4 L2835.2 427.7 L2840.2 425.4 L2845.2 425.7 L2850.2 419.4 L2855.2 423.2 L2860.2 423.5 L2865.2 422.4 L2870.2 421.7 L2875.1 426.8 L2880.1 436.0 L2885.1 437.0 L2890.1 438.1 L2895.1 438.0 L2900.1 437.8 L2905.1 436.3 L2910.1 432.9 L2915.0 426.7 L2920.0 425.1 L2925.0 417.6 L2930.0 418.8 L2935.0 422.2 L2940.0 423.9 L2945.0 427.1 L2950.0 429.2 L2955.0 429.9 L2959.9 435.0 L2964.9 434.2 L2969.9 427.3 L2974.9 425.0 L2979.9 421.5 L2984.9 417.9 L2989.9 418.1 L2994.9 425.7 L2999.8 431.5 L3004.8 432.0 L3009.8 435.2 L3014.8 436.6 L3019.8 433.8 L3024.8 430.4 L3029.8 429.7 L3034.8 425.3 L3039.7 420.5 L3044.7 417.5 L3049.7 420.3 L3054.7 424.9 L3059.7 433.3 L3064.7 432.4 L3069.7 442.0 L3074.7 448.1 L3079.6 454.1 L3084.6 456.6 L3089.6 459.3 L3094.6 461.3 L3099.6 455.0 L3104.6 451.4 L3109.6 446.6 L3114.6 448.0 L3119.6 445.7 L3124.5 441.6 L3129.5 438.7 L3134.5 438.9 L3139.5 438.3 L3144.5 434.7 L3149.5 432.2 L3154.5 424.8 L3159.5 423.4 L3164.4 419.1 L3169.4 419.3 L3174.4 425.2 L3179.4 429.0 L3184.4 435.7 L3189.4 445.6 L3194.4 453.3 L3199.4 457.1 L3204.3 464.8 L3209.3 468.0 L3214.3 474.2 L3219.3 473.8 L3224.3 467.7 L3229.3 464.3 L3234.3 458.5 L3239.3 459.4 L3244.2 455.8 L3249.2 454.5 L3254.2 452.4 L3259.2 448.6 L3264.2 440.6 L3269.2 438.6 L3274.2 429.2 L3279.2 423.5 L3284.2 421.1 L3289.1 414.6 L3294.1 418.6 L3299.1 420.7 L3304.1 428.1 L3309.1 436.1 L3314.1 449.8 L3319.1 454.7 L3324.1 463.1 L3329.0 469.1 L3334.0 472.0 L3339.0 472.1 L3344.0 470.1 L3349.0 465.7 L3354.0 462.1 L3359.0 461.3 L3364.0 453.0 L3368.9 448.4 L3373.9 446.9 L3378.9 440.8 L3383.9 439.0 L3388.9 428.2 L3393.9 424.3 L3398.9 417.4 L3403.9 407.7 L3408.9 405.1 L3413.8 404.1 L3418.8 408.0 L3423.8 408.9 L3428.8 421.4 L3433.8 432.6 L3438.8 438.5 L3443.8 447.0 L3448.8 453.5 L3453.7 464.1 L3458.7 467.6 L3463.7 469.1 L3468.7 467.6 L3473.7 465.7 L3478.7 462.7 L3483.7 458.0 L3488.7 455.6 L3493.6 451.0 L3498.6 443.7 L3503.6 440.6 L3508.6 431.4 L3513.6 421.2 L3518.6 415.5 L3523.6 406.2 L3528.6 403.9 L3533.5 398.9 L3538.5 405.9 L3543.5 403.8 L3548.5 408.5 L3553.5 413.2 L3558.5 425.9 L3563.5 438.5 L3568.5 448.9 L3573.5 452.9 L3578.4 458.2 L3583.4 463.8 L3588.4 467.1 L3593.4 465.1 L3598.4 459.6 L3603.4 455.5 L3608.4 450.0 L3613.4 443.1 L3618.3 438.2 L3623.3 426.5 L3628.3 419.1 L3633.3 409.0 L3638.3 400.6 L3643.3 395.7 L3648.3 392.5 L3653.3 388.0 L3658.2 388.5 L3663.2 391.3 L3668.2 402.5 L3673.2 405.2 L3678.2 412.2 L3683.2 419.6 L3688.2 430.2 L3693.2 437.0 L3698.2 442.8 L3703.1 446.7 L3708.1 453.8 L3713.1 452.8 L3718.1 454.6 L3723.1 450.1 L3728.1 447.6 L3733.1 438.8 L3738.1 434.9 L3743.0 428.7 L3748.0 421.2 L3753.0 412.8 L3758.0 411.1 L3763.0 401.0 L3768.0 398.3 L3773.0 399.9 L3778.0 397.4 L3782.9 400.2 L3787.9 402.3 L3792.9 413.3 L3797.9 422.5 L3802.9 429.5 L3807.9 436.4 L3812.9 445.6 L3817.9 451.1 L3822.8 459.6 L3827.8 466.6 L3832.8 468.4 L3837.8 468.0 L3838.7 474.1" fill="none" stroke="#000" stroke-width="10.42" stroke-linejoin="round" stroke-linecap="butt" clip-path="url(#ax1)"/>
<g clip-path="url(#ax2)"><g clip-path="url(#cl2)" shape-rendering="crispEdges">
<rect x="251.5" y="1801.1" width="20.4" height="457.0" fill="#433e85"/><rect x="251.5" y="2257.7" width="20.4" height="154.6" fill="#433d84"/><rect x="251.5" y="2412.0" width="20.4" height="76.8" fill="#443a83"/><rect x="251.5" y="2488.3" width="20.4" height="76.8" fill="#481769"/><rect x="251.5" y="2564.7" width="20.4" height="648.7" fill="#440154"/><rect x="271.5" y="1801.1" width="20.4" height="457.0" fill="#46337f"/><rect x="271.5" y="2257.7" width="20.4" height="78.3" fill="#46307e"/><rect x="271.5" y="2335.6" width="20.4" height="76.8" fill="#472f7d"/><rect x="271.5" y="2412.0" width="20.4" height="76.8" fill="#472e7c"/><rect x="271.5" y="2488.3" width="20.4" height="76.8" fill="#482071"/><rect x="271.5" y="2564.7" width="20.4" height="648.7" fill="#440154"/><rect x="291.4" y="1801.1" width="20.4" height="534.9" fill="#482475"/><rect x="291.4" y="2335.6" width="20.4" height="153.1" fill="#482374"/><rect x="291.4" y="2488.3" width="20.4" height="76.8" fill="#482173"/><rect x="291.4" y="2564.7" width="20.4" height="153.1" fill="#482475"/><rect x="291.4" y="2717.4" width="20.4" height="496.0" fill="#440154"/><rect x="311.4" y="1801.1" width="20.4" height="534.9" fill="#472a7a"/><rect x="311.4" y="2335.6" width="20.4" height="153.1" fill="#482878"/><rect x="311.4" y="2488.3" width="20.4" height="76.8" fill="#482576"/><rect x="311.4" y="2564.7" width="20.4" height="76.8" fill="#482173"/><rect x="311.4" y="2641.0" width="20.4" height="153.1" fill="#482475"/><rect x="311.4" y="2793.8" width="20.4" height="419.6" fill="#440154"/><rect x="331.3" y="1801.1" width="20.4" height="381.4" fill="#443a83"/><rect x="331.3" y="2182.1" width="20.4" height="76.0" fill="#453882"/><rect x="331.3" y="2257.7" width="20.4" height="78.3" fill="#453581"/><rect x="331.3" y="2335.6" width="20.4" height="76.8" fill="#46327e"/><rect x="331.3" y="2412.0" width="20.4" height="76.8" fill="#472e7c"/><rect x="331.3" y="2488.3" width="20.4" height="76.8" fill="#472a7a"/><rect x="331.3" y="2564.7" width="20.4" height="76.8" fill="#482677"/><rect x="331.3" y="2641.0" width="20.4" height="153.1" fill="#482475"/><rect x="331.3" y="2793.8" width="20.4" height="419.6" fill="#46085c"/><rect x="351.3" y="1801.1" width="20.4" height="687.6" fill="#443983"/><rect x="351.3" y="2488.3" width="20.4" height="76.8" fill="#453781"/><rect x="351.3" y="2564.7" width="20.4" height="76.8" fill="#453581"/><rect x="351.3" y="2641.0" width="20.4" height="76.8" fill="#463480"/><rect x="351.3" y="2717.4" width="20.4" height="76.8" fill="#46337f"/><rect x="351.3" y="2793.8" width="20.4" height="76.8" fill="#46307e"/><rect x="351.3" y="2870.1" width="20.4" height="76.8" fill="#472f7d"/><rect x="351.3" y="2946.5" width="20.4" height="153.1" fill="#472e7c"/><rect x="351.3" y="3099.2" width="20.4" height="114.2" fill="#440154"/><rect x="371.2" y="1801.1" width="20.4" height="534.9" fill="#472f7d"/><rect x="371.2" y="2335.6" width="20.4" height="764.0" fill="#472e7c"/><rect x="371.2" y="3099.2" width="20.4" height="114.2" fill="#440154"/><rect x="391.2" y="1801.1" width="20.4" height="611.3" fill="#482576"/><rect x="391.2" y="2412.0" width="20.4" height="534.9" fill="#482475"/><rect x="391.2" y="2946.5" width="20.4" height="266.9" fill="#482576"/><rect x="411.1" y="1801.1" width="20.4" height="611.3" fill="#482576"/><rect x="411.1" y="2412.0" width="20.4" height="534.9" fill="#482475"/><rect x="411.1" y="2946.5" width="20.4" height="266.9" fill="#482576"/><rect x="431.1" y="1801.1" width="20.4" height="611.3" fill="#482576"/><rect x="431.1" y="2412.0" width="20.4" height="305.8" fill="#482475"/><rect x="431.1" y="2717.4" width="20.4" height="76.8" fill="#482374"/><rect x="431.1" y="2793.8" width="20.4" height="153.1" fill="#482173"/><rect x="431.1" y="2946.5" width="20.4" height="266.9" fill="#481f70"/><rect x="451.0" y="1801.1" width="20.4" height="457.0" fill="#482979"/><rect x="451.0" y="2257.7" width="20.4" height="78.3" fill="#482677"/><rect x="451.0" y="2335.6" width="20.4" height="305.8" fill="#482576"/><rect x="451.0" y="2641.0" width="20.4" height="76.8" fill="#482878"/><rect x="451.0" y="2717.4" width="20.4" height="76.8" fill="#482576"/><rect x="451.0" y="2793.8" width="20.4" height="76.8" fill="#482475"/><rect x="451.0" y="2870.1" width="20.4" height="76.8" fill="#482173"/><rect x="451.0" y="2946.5" width="20.4" height="153.1" fill="#481f70"/><rect x="451.0" y="3099.2" width="20.4" height="114.2" fill="#481668"/><rect x="471.0" y="1801.1" width="20.4" height="840.4" fill="#482979"/><rect x="471.0" y="2641.0" width="20.4" height="229.5" fill="#482878"/><rect x="471.0" y="2870.1" width="20.4" height="343.3" fill="#482677"/><rect x="490.9" y="1801.1" width="20.4" height="457.0" fill="#472e7c"/><rect x="490.9" y="2257.7" width="20.4" height="78.3" fill="#472c7a"/><rect x="490.9" y="2335.6" width="20.4" height="153.1" fill="#472a7a"/><rect x="490.9" y="2488.3" width="20.4" height="229.5" fill="#482878"/><rect x="490.9" y="2717.4" width="20.4" height="229.5" fill="#482677"/><rect x="490.9" y="2946.5" width="20.4" height="266.9" fill="#482576"/><rect x="510.9" y="1801.1" width="20.4" height="1298.5" fill="#472e7c"/><rect x="510.9" y="3099.2" width="20.4" height="114.2" fill="#472d7b"/><rect x="530.8" y="1801.1" width="20.4" height="1298.5" fill="#472e7c"/><rect x="530.8" y="3099.2" width="20.4" height="114.2" fill="#472d7b"/><rect x="550.8" y="1801.1" width="20.4" height="534.9" fill="#453581"/><rect x="550.8" y="2335.6" width="20.4" height="153.1" fill="#463480"/><rect x="550.8" y="2488.3" width="20.4" height="76.8" fill="#46327e"/><rect x="550.8" y="2564.7" width="20.4" height="76.8" fill="#46307e"/><rect x="550.8" y="2641.0" width="20.4" height="458.6" fill="#472e7c"/><rect x="550.8" y="3099.2" width="20.4" height="114.2" fill="#472d7b"/><rect x="570.7" y="1801.1" width="20.4" height="687.6" fill="#443a83"/><rect x="570.7" y="2488.3" width="20.4" height="76.8" fill="#453882"/><rect x="570.7" y="2564.7" width="20.4" height="76.8" fill="#453781"/><rect x="570.7" y="2641.0" width="20.4" height="76.8" fill="#463480"/><rect x="570.7" y="2717.4" width="20.4" height="76.8" fill="#46337f"/><rect x="570.7" y="2793.8" width="20.4" height="76.8" fill="#46307e"/><rect x="570.7" y="2870.1" width="20.4" height="76.8" fill="#472f7d"/><rect x="570.7" y="2946.5" width="20.4" height="153.1" fill="#472e7c"/><rect x="570.7" y="3099.2" width="20.4" height="114.2" fill="#482576"/><rect x="590.7" y="1801.1" width="20.4" height="534.9" fill="#443983"/><rect x="590.7" y="2335.6" width="20.4" height="153.1" fill="#443a83"/><rect x="590.7" y="2488.3" width="20.4" height="76.8" fill="#453882"/><rect x="590.7" y="2564.7" width="20.4" height="76.8" fill="#453781"/><rect x="590.7" y="2641.0" width="20.4" height="229.5" fill="#463480"/><rect x="590.7" y="2870.1" width="20.4" height="229.5" fill="#453581"/><rect x="590.7" y="3099.2" width="20.4" height="114.2" fill="#463480"/><rect x="610.6" y="1801.1" width="20.4" height="534.9" fill="#443983"/><rect x="610.6" y="2335.6" width="20.4" height="153.1" fill="#443a83"/><rect x="610.6" y="2488.3" width="20.4" height="76.8" fill="#453882"/><rect x="610.6" y="2564.7" width="20.4" height="76.8" fill="#453781"/><rect x="610.6" y="2641.0" width="20.4" height="229.5" fill="#463480"/><rect x="610.6" y="2870.1" width="20.4" height="229.5" fill="#453581"/><rect x="610.6" y="3099.2" width="20.4" height="114.2" fill="#463480"/><rect x="630.6" y="1801.1" width="20.4" height="457.0" fill="#433e85"/><rect x="630.6" y="2257.7" width="20.4" height="154.6" fill="#433d84"/><rect x="630.6" y="2412.0" width="20.4" height="76.8" fill="#443a83"/><rect x="630.6" y="2488.3" width="20.4" height="76.8" fill="#453882"/><rect x="630.6" y="2564.7" width="20.4" height="76.8" fill="#453781"/><rect x="630.6" y="2641.0" width="20.4" height="229.5" fill="#463480"/><rect x="630.6" y="2870.1" width="20.4" height="229.5" fill="#453581"/><rect x="630.6" y="3099.2" width="20.4" height="114.2" fill="#463480"/><rect x="650.5" y="1801.1" width="20.4" height="534.9" fill="#424186"/><rect x="650.5" y="2335.6" width="20.4" height="153.1" fill="#424086"/><rect x="650.5" y="2488.3" width="20.4" height="76.8" fill="#423f85"/><rect x="650.5" y="2564.7" width="20.4" height="76.8" fill="#433e85"/><rect x="650.5" y="2641.0" width="20.4" height="229.5" fill="#443b84"/><rect x="650.5" y="2870.1" width="20.4" height="229.5" fill="#433d84"/><rect x="650.5" y="3099.2" width="20.4" height="114.2" fill="#443983"/><rect x="670.5" y="1801.1" width="20.4" height="534.9" fill="#3d4e8a"/><rect x="670.5" y="2335.6" width="20.4" height="153.1" fill="#3e4c8a"/><rect x="670.5" y="2488.3" width="20.4" height="76.8" fill="#3f4889"/><rect x="670.5" y="2564.7" width="20.4" height="76.8" fill="#3f4788"/><rect x="670.5" y="2641.0" width="20.4" height="305.8" fill="#404588"/><rect x="670.5" y="2946.5" width="20.4" height="266.9" fill="#414487"/><rect x="690.4" y="1801.1" width="20.4" height="534.9" fill="#3b528b"/><rect x="690.4" y="2335.6" width="20.4" height="153.1" fill="#3c508b"/><rect x="690.4" y="2488.3" width="20.4" height="76.8" fill="#3c4f8a"/><rect x="690.4" y="2564.7" width="20.4" height="76.8" fill="#3d4e8a"/><rect x="690.4" y="2641.0" width="20.4" height="153.1" fill="#3e4c8a"/><rect x="690.4" y="2793.8" width="20.4" height="153.1" fill="#3e4a89"/><rect x="690.4" y="2946.5" width="20.4" height="153.1" fill="#3e4989"/><rect x="690.4" y="3099.2" width="20.4" height="114.2" fill="#414487"/><rect x="710.4" y="1801.1" width="20.4" height="534.9" fill="#3b528b"/><rect x="710.4" y="2335.6" width="20.4" height="153.1" fill="#3c508b"/><rect x="710.4" y="2488.3" width="20.4" height="76.8" fill="#3c4f8a"/><rect x="710.4" y="2564.7" width="20.4" height="76.8" fill="#3d4e8a"/><rect x="710.4" y="2641.0" width="20.4" height="153.1" fill="#3e4c8a"/><rect x="710.4" y="2793.8" width="20.4" height="153.1" fill="#3e4a89"/><rect x="710.4" y="2946.5" width="20.4" height="153.1" fill="#3e4989"/><rect x="710.4" y="3099.2" width="20.4" height="114.2" fill="#414487"/><rect x="730.3" y="1801.1" width="20.4" height="457.0" fill="#3a538b"/><rect x="730.3" y="2257.7" width="20.4" height="154.6" fill="#3b528b"/><rect x="730.3" y="2412.0" width="20.4" height="76.8" fill="#3c508b"/><rect x="730.3" y="2488.3" width="20.4" height="76.8" fill="#3c4f8a"/><rect x="730.3" y="2564.7" width="20.4" height="76.8" fill="#3d4e8a"/><rect x="730.3" y="2641.0" width="20.4" height="153.1" fill="#3e4c8a"/><rect x="730.3" y="2793.8" width="20.4" height="153.1" fill="#3e4a89"/><rect x="730.3" y="2946.5" width="20.4" height="153.1" fill="#3e4989"/><rect x="730.3" y="3099.2" width="20.4" height="114.2" fill="#433e85"/><rect x="750.3" y="1801.1" width="20.4" height="381.4" fill="#38598c"/><rect x="750.3" y="2182.1" width="20.4" height="76.0" fill="#38588c"/><rect x="750.3" y="2257.7" width="20.4" height="78.3" fill="#39558c"/><rect x="750.3" y="2335.6" width="20.4" height="76.8" fill="#3a538b"/><rect x="750.3" y="2412.0" width="20.4" height="76.8" fill="#3c508b"/><rect x="750.3" y="2488.3" width="20.4" height="76.8" fill="#3c4f8a"/><rect x="750.3" y="2564.7" width="20.4" height="76.8" fill="#3d4e8a"/><rect x="750.3" y="2641.0" width="20.4" height="76.8" fill="#3e4c8a"/><rect x="750.3" y="2717.4" width="20.4" height="153.1" fill="#3d4d8a"/><rect x="750.3" y="2870.1" width="20.4" height="76.8" fill="#3c4f8a"/><rect x="750.3" y="2946.5" width="20.4" height="153.1" fill="#3c508b"/><rect x="750.3" y="3099.2" width="20.4" height="114.2" fill="#404588"/><rect x="770.2" y="1801.1" width="20.4" height="457.0" fill="#355f8d"/><rect x="770.2" y="2257.7" width="20.4" height="154.6" fill="#355e8d"/><rect x="770.2" y="2412.0" width="20.4" height="76.8" fill="#365d8d"/><rect x="770.2" y="2488.3" width="20.4" height="76.8" fill="#375b8d"/><rect x="770.2" y="2564.7" width="20.4" height="76.8" fill="#38598c"/><rect x="770.2" y="2641.0" width="20.4" height="76.8" fill="#38588c"/><rect x="770.2" y="2717.4" width="20.4" height="76.8" fill="#39558c"/><rect x="770.2" y="2793.8" width="20.4" height="76.8" fill="#3a548c"/><rect x="770.2" y="2870.1" width="20.4" height="76.8" fill="#3b528b"/><rect x="770.2" y="2946.5" width="20.4" height="153.1" fill="#3c508b"/><rect x="770.2" y="3099.2" width="20.4" height="114.2" fill="#404588"/><rect x="790.2" y="1801.1" width="20.4" height="457.0" fill="#355f8d"/><rect x="790.2" y="2257.7" width="20.4" height="154.6" fill="#355e8d"/><rect x="790.2" y="2412.0" width="20.4" height="76.8" fill="#365d8d"/><rect x="790.2" y="2488.3" width="20.4" height="76.8" fill="#375b8d"/><rect x="790.2" y="2564.7" width="20.4" height="76.8" fill="#38598c"/><rect x="790.2" y="2641.0" width="20.4" height="76.8" fill="#38588c"/><rect x="790.2" y="2717.4" width="20.4" height="76.8" fill="#39558c"/><rect x="790.2" y="2793.8" width="20.4" height="76.8" fill="#3a548c"/><rect x="790.2" y="2870.1" width="20.4" height="76.8" fill="#3b528b"/><rect x="790.2" y="2946.5" width="20.4" height="153.1" fill="#3c508b"/><rect x="790.2" y="3099.2" width="20.4" height="114.2" fill="#3d4e8a"/><rect x="810.1" y="1801.1" width="20.4" height="457.0" fill="#355f8d"/><rect x="810.1" y="2257.7" width="20.4" height="154.6" fill="#355e8d"/><rect x="810.1" y="2412.0" width="20.4" height="76.8" fill="#365d8d"/><rect x="810.1" y="2488.3" width="20.4" height="76.8" fill="#375b8d"/><rect x="810.1" y="2564.7" width="20.4" height="76.8" fill="#38588c"/><rect x="810.1" y="2641.0" width="20.4" height="76.8" fill="#39558c"/><rect x="810.1" y="2717.4" width="20.4" height="76.8" fill="#3a548c"/><rect x="810.1" y="2793.8" width="20.4" height="76.8" fill="#3a538b"/><rect x="810.1" y="2870.1" width="20.4" height="76.8" fill="#3b528b"/><rect x="810.1" y="2946.5" width="20.4" height="153.1" fill="#3c508b"/><rect x="810.1" y="3099.2" width="20.4" height="114.2" fill="#3d4e8a"/><rect x="830.1" y="1801.1" width="20.4" height="687.6" fill="#33638d"/><rect x="830.1" y="2488.3" width="20.4" height="76.8" fill="#355f8d"/><rect x="830.1" y="2564.7" width="20.4" height="76.8" fill="#375b8d"/><rect x="830.1" y="2641.0" width="20.4" height="76.8" fill="#39558c"/><rect x="830.1" y="2717.4" width="20.4" height="76.8" fill="#38588c"/><rect x="830.1" y="2793.8" width="20.4" height="76.8" fill="#38598c"/><rect x="830.1" y="2870.1" width="20.4" height="76.8" fill="#375a8c"/><rect x="830.1" y="2946.5" width="20.4" height="153.1" fill="#375b8d"/><rect x="830.1" y="3099.2" width="20.4" height="114.2" fill="#3a538b"/><rect x="850.0" y="1801.1" width="20.4" height="687.6" fill="#33638d"/><rect x="850.0" y="2488.3" width="20.4" height="76.8" fill="#33628d"/><rect x="850.0" y="2564.7" width="20.4" height="76.8" fill="#34618d"/><rect x="850.0" y="2641.0" width="20.4" height="76.8" fill="#355f8d"/><rect x="850.0" y="2717.4" width="20.4" height="76.8" fill="#355e8d"/><rect x="850.0" y="2793.8" width="20.4" height="153.1" fill="#365d8d"/><rect x="850.0" y="2946.5" width="20.4" height="153.1" fill="#375b8d"/><rect x="850.0" y="3099.2" width="20.4" height="114.2" fill="#3a538b"/><rect x="870.0" y="1801.1" width="20.4" height="687.6" fill="#33638d"/><rect x="870.0" y="2488.3" width="20.4" height="76.8" fill="#33628d"/><rect x="870.0" y="2564.7" width="20.4" height="76.8" fill="#34618d"/><rect x="870.0" y="2641.0" width="20.4" height="76.8" fill="#355f8d"/><rect x="870.0" y="2717.4" width="20.4" height="76.8" fill="#355e8d"/><rect x="870.0" y="2793.8" width="20.4" height="153.1" fill="#365d8d"/><rect x="870.0" y="2946.5" width="20.4" height="153.1" fill="#375b8d"/><rect x="870.0" y="3099.2" width="20.4" height="114.2" fill="#3e4989"/><rect x="890.0" y="1801.1" width="20.4" height="457.0" fill="#355f8d"/><rect x="890.0" y="2257.7" width="20.4" height="78.3" fill="#355e8d"/><rect x="890.0" y="2335.6" width="20.4" height="76.8" fill="#365c8d"/><rect x="890.0" y="2412.0" width="20.4" height="76.8" fill="#375b8d"/><rect x="890.0" y="2488.3" width="20.4" height="76.8" fill="#375a8c"/><rect x="890.0" y="2564.7" width="20.4" height="76.8" fill="#38588c"/><rect x="890.0" y="2641.0" width="20.4" height="76.8" fill="#39558c"/><rect x="890.0" y="2717.4" width="20.4" height="76.8" fill="#3a538b"/><rect x="890.0" y="2793.8" width="20.4" height="76.8" fill="#3c4f8a"/><rect x="890.0" y="2870.1" width="20.4" height="76.8" fill="#3d4d8a"/><rect x="890.0" y="2946.5" width="20.4" height="266.9" fill="#3e4989"/><rect x="909.9" y="1801.1" width="20.4" height="457.0" fill="#355f8d"/><rect x="909.9" y="2257.7" width="20.4" height="78.3" fill="#355e8d"/><rect x="909.9" y="2335.6" width="20.4" height="76.8" fill="#365c8d"/><rect x="909.9" y="2412.0" width="20.4" height="76.8" fill="#375b8d"/><rect x="909.9" y="2488.3" width="20.4" height="76.8" fill="#375a8c"/><rect x="909.9" y="2564.7" width="20.4" height="76.8" fill="#38588c"/><rect x="909.9" y="2641.0" width="20.4" height="76.8" fill="#39558c"/><rect x="909.9" y="2717.4" width="20.4" height="76.8" fill="#3a548c"/><rect x="909.9" y="2793.8" width="20.4" height="76.8" fill="#3a538b"/><rect x="909.9" y="2870.1" width="20.4" height="76.8" fill="#3b528b"/><rect x="909.9" y="2946.5" width="20.4" height="153.1" fill="#3c508b"/><rect x="909.9" y="3099.2" width="20.4" height="114.2" fill="#404588"/><rect x="929.9" y="1801.1" width="20.4" height="534.9" fill="#365d8d"/><rect x="929.9" y="2335.6" width="20.4" height="153.1" fill="#365c8d"/><rect x="929.9" y="2488.3" width="20.4" height="76.8" fill="#375a8c"/><rect x="929.9" y="2564.7" width="20.4" height="76.8" fill="#38588c"/><rect x="929.9" y="2641.0" width="20.4" height="76.8" fill="#39558c"/><rect x="929.9" y="2717.4" width="20.4" height="76.8" fill="#3a548c"/><rect x="929.9" y="2793.8" width="20.4" height="76.8" fill="#3a538b"/><rect x="929.9" y="2870.1" width="20.4" height="76.8" fill="#3b528b"/><rect x="929.9" y="2946.5" width="20.4" height="153.1" fill="#3c508b"/><rect x="929.9" y="3099.2" width="20.4" height="114.2" fill="#404588"/><rect x="949.8" y="1801.1" width="20.4" height="457.0" fill="#38598c"/><rect x="949.8" y="2257.7" width="20.4" height="78.3" fill="#39568c"/><rect x="949.8" y="2335.6" width="20.4" height="76.8" fill="#39558c"/><rect x="949.8" y="2412.0" width="20.4" height="229.5" fill="#3a548c"/><rect x="949.8" y="2641.0" width="20.4" height="76.8" fill="#39558c"/><rect x="949.8" y="2717.4" width="20.4" height="76.8" fill="#3a548c"/><rect x="949.8" y="2793.8" width="20.4" height="76.8" fill="#3a538b"/><rect x="949.8" y="2870.1" width="20.4" height="76.8" fill="#3b528b"/><rect x="949.8" y="2946.5" width="20.4" height="153.1" fill="#3c508b"/><rect x="949.8" y="3099.2" width="20.4" height="114.2" fill="#424086"/><rect x="969.8" y="1801.1" width="20.4" height="457.0" fill="#38588c"/><rect x="969.8" y="2257.7" width="20.4" height="154.6" fill="#39568c"/><rect x="969.8" y="2412.0" width="20.4" height="76.8" fill="#3a548c"/><rect x="969.8" y="2488.3" width="20.4" height="76.8" fill="#3b528b"/><rect x="969.8" y="2564.7" width="20.4" height="76.8" fill="#3b518b"/><rect x="969.8" y="2641.0" width="20.4" height="76.8" fill="#3c4f8a"/><rect x="969.8" y="2717.4" width="20.4" height="76.8" fill="#3e4c8a"/><rect x="969.8" y="2793.8" width="20.4" height="76.8" fill="#3e4989"/><rect x="969.8" y="2870.1" width="20.4" height="76.8" fill="#404688"/><rect x="969.8" y="2946.5" width="20.4" height="153.1" fill="#414487"/><rect x="969.8" y="3099.2" width="20.4" height="114.2" fill="#46337f"/><rect x="989.7" y="1801.1" width="20.4" height="381.4" fill="#38588c"/><rect x="989.7" y="2182.1" width="20.4" height="76.0" fill="#39558c"/><rect x="989.7" y="2257.7" width="20.4" height="78.3" fill="#3a538b"/><rect x="989.7" y="2335.6" width="20.4" height="76.8" fill="#3c508b"/><rect x="989.7" y="2412.0" width="20.4" height="76.8" fill="#3d4e8a"/><rect x="989.7" y="2488.3" width="20.4" height="76.8" fill="#3e4989"/><rect x="989.7" y="2564.7" width="20.4" height="76.8" fill="#404688"/><rect x="989.7" y="2641.0" width="20.4" height="76.8" fill="#424186"/><rect x="989.7" y="2717.4" width="20.4" height="76.8" fill="#433d84"/><rect x="989.7" y="2793.8" width="20.4" height="76.8" fill="#453781"/><rect x="989.7" y="2870.1" width="20.4" height="76.8" fill="#46327e"/><rect x="989.7" y="2946.5" width="20.4" height="153.1" fill="#472d7b"/><rect x="989.7" y="3099.2" width="20.4" height="114.2" fill="#482576"/><rect x="1009.7" y="1801.1" width="20.4" height="381.4" fill="#3c4f8a"/><rect x="1009.7" y="2182.1" width="20.4" height="76.0" fill="#3e4a89"/><rect x="1009.7" y="2257.7" width="20.4" height="78.3" fill="#424186"/><rect x="1009.7" y="2335.6" width="20.4" height="76.8" fill="#453882"/><rect x="1009.7" y="2412.0" width="20.4" height="76.8" fill="#472e7c"/><rect x="1009.7" y="2488.3" width="20.4" height="76.8" fill="#472a7a"/><rect x="1009.7" y="2564.7" width="20.4" height="76.8" fill="#482878"/><rect x="1009.7" y="2641.0" width="20.4" height="76.8" fill="#482475"/><rect x="1009.7" y="2717.4" width="20.4" height="76.8" fill="#482374"/><rect x="1009.7" y="2793.8" width="20.4" height="153.1" fill="#482173"/><rect x="1009.7" y="2946.5" width="20.4" height="266.9" fill="#481f70"/><rect x="1029.6" y="1801.1" width="20.4" height="381.4" fill="#414487"/><rect x="1029.6" y="2182.1" width="20.4" height="76.0" fill="#424086"/><rect x="1029.6" y="2257.7" width="20.4" height="78.3" fill="#443a83"/><rect x="1029.6" y="2335.6" width="20.4" height="76.8" fill="#463480"/><rect x="1029.6" y="2412.0" width="20.4" height="76.8" fill="#472e7c"/><rect x="1029.6" y="2488.3" width="20.4" height="76.8" fill="#472a7a"/><rect x="1029.6" y="2564.7" width="20.4" height="76.8" fill="#482878"/><rect x="1029.6" y="2641.0" width="20.4" height="76.8" fill="#482475"/><rect x="1029.6" y="2717.4" width="20.4" height="76.8" fill="#482374"/><rect x="1029.6" y="2793.8" width="20.4" height="153.1" fill="#482173"/><rect x="1029.6" y="2946.5" width="20.4" height="266.9" fill="#481f70"/><rect x="1049.6" y="1801.1" width="20.4" height="381.4" fill="#38588c"/><rect x="1049.6" y="2182.1" width="20.4" height="76.0" fill="#3b528b"/><rect x="1049.6" y="2257.7" width="20.4" height="78.3" fill="#404688"/><rect x="1049.6" y="2335.6" width="20.4" height="76.8" fill="#443a83"/><rect x="1049.6" y="2412.0" width="20.4" height="76.8" fill="#472e7c"/><rect x="1049.6" y="2488.3" width="20.4" height="76.8" fill="#472a7a"/><rect x="1049.6" y="2564.7" width="20.4" height="76.8" fill="#482878"/><rect x="1049.6" y="2641.0" width="20.4" height="76.8" fill="#482475"/><rect x="1049.6" y="2717.4" width="20.4" height="76.8" fill="#482374"/><rect x="1049.6" y="2793.8" width="20.4" height="153.1" fill="#482173"/><rect x="1049.6" y="2946.5" width="20.4" height="266.9" fill="#481f70"/><rect x="1069.5" y="1801.1" width="20.4" height="381.4" fill="#3b528b"/><rect x="1069.5" y="2182.1" width="20.4" height="76.0" fill="#3c508b"/><rect x="1069.5" y="2257.7" width="20.4" height="78.3" fill="#3d4e8a"/><rect x="1069.5" y="2335.6" width="20.4" height="76.8" fill="#3e4c8a"/><rect x="1069.5" y="2412.0" width="20.4" height="76.8" fill="#3e4989"/><rect x="1069.5" y="2488.3" width="20.4" height="76.8" fill="#414287"/><rect x="1069.5" y="2564.7" width="20.4" height="76.8" fill="#443b84"/><rect x="1069.5" y="2641.0" width="20.4" height="76.8" fill="#463480"/><rect x="1069.5" y="2717.4" width="20.4" height="76.8" fill="#46307e"/><rect x="1069.5" y="2793.8" width="20.4" height="76.8" fill="#472d7b"/><rect x="1069.5" y="2870.1" width="20.4" height="76.8" fill="#482979"/><rect x="1069.5" y="2946.5" width="20.4" height="153.1" fill="#482576"/><rect x="1069.5" y="3099.2" width="20.4" height="114.2" fill="#481f70"/><rect x="1089.5" y="1801.1" width="20.4" height="381.4" fill="#3e4989"/><rect x="1089.5" y="2182.1" width="20.4" height="76.0" fill="#3f4889"/><rect x="1089.5" y="2257.7" width="20.4" height="78.3" fill="#404588"/><rect x="1089.5" y="2335.6" width="20.4" height="76.8" fill="#414287"/><rect x="1089.5" y="2412.0" width="20.4" height="76.8" fill="#424086"/><rect x="1089.5" y="2488.3" width="20.4" height="76.8" fill="#443a83"/><rect x="1089.5" y="2564.7" width="20.4" height="76.8" fill="#46337f"/><rect x="1089.5" y="2641.0" width="20.4" height="76.8" fill="#472d7b"/><rect x="1089.5" y="2717.4" width="20.4" height="76.8" fill="#472a7a"/><rect x="1089.5" y="2793.8" width="20.4" height="76.8" fill="#482979"/><rect x="1089.5" y="2870.1" width="20.4" height="76.8" fill="#482878"/><rect x="1089.5" y="2946.5" width="20.4" height="153.1" fill="#482576"/><rect x="1089.5" y="3099.2" width="20.4" height="114.2" fill="#482475"/><rect x="1109.4" y="1801.1" width="20.4" height="381.4" fill="#424086"/><rect x="1109.4" y="2182.1" width="20.4" height="76.0" fill="#423f85"/><rect x="1109.4" y="2257.7" width="20.4" height="78.3" fill="#443b84"/><rect x="1109.4" y="2335.6" width="20.4" height="76.8" fill="#453882"/><rect x="1109.4" y="2412.0" width="20.4" height="76.8" fill="#463480"/><rect x="1109.4" y="2488.3" width="20.4" height="76.8" fill="#46327e"/><rect x="1109.4" y="2564.7" width="20.4" height="76.8" fill="#472f7d"/><rect x="1109.4" y="2641.0" width="20.4" height="76.8" fill="#472d7b"/><rect x="1109.4" y="2717.4" width="20.4" height="76.8" fill="#472a7a"/><rect x="1109.4" y="2793.8" width="20.4" height="76.8" fill="#482979"/><rect x="1109.4" y="2870.1" width="20.4" height="76.8" fill="#482878"/><rect x="1109.4" y="2946.5" width="20.4" height="153.1" fill="#482576"/><rect x="1109.4" y="3099.2" width="20.4" height="114.2" fill="#482475"/><rect x="1129.4" y="1801.1" width="20.4" height="457.0" fill="#424086"/><rect x="1129.4" y="2257.7" width="20.4" height="78.3" fill="#414287"/><rect x="1129.4" y="2335.6" width="20.4" height="153.1" fill="#414487"/><rect x="1129.4" y="2488.3" width="20.4" height="76.8" fill="#433d84"/><rect x="1129.4" y="2564.7" width="20.4" height="76.8" fill="#463480"/><rect x="1129.4" y="2641.0" width="20.4" height="76.8" fill="#472d7b"/><rect x="1129.4" y="2717.4" width="20.4" height="76.8" fill="#472a7a"/><rect x="1129.4" y="2793.8" width="20.4" height="76.8" fill="#482979"/><rect x="1129.4" y="2870.1" width="20.4" height="76.8" fill="#482878"/><rect x="1129.4" y="2946.5" width="20.4" height="153.1" fill="#482576"/><rect x="1129.4" y="3099.2" width="20.4" height="114.2" fill="#482475"/><rect x="1149.3" y="1801.1" width="20.4" height="687.6" fill="#404588"/><rect x="1149.3" y="2488.3" width="20.4" height="76.8" fill="#414487"/><rect x="1149.3" y="2564.7" width="20.4" height="76.8" fill="#424186"/><rect x="1149.3" y="2641.0" width="20.4" height="76.8" fill="#424086"/><rect x="1149.3" y="2717.4" width="20.4" height="76.8" fill="#443b84"/><rect x="1149.3" y="2793.8" width="20.4" height="76.8" fill="#453781"/><rect x="1149.3" y="2870.1" width="20.4" height="76.8" fill="#46327e"/><rect x="1149.3" y="2946.5" width="20.4" height="153.1" fill="#472d7b"/><rect x="1149.3" y="3099.2" width="20.4" height="114.2" fill="#482173"/><rect x="1169.3" y="1801.1" width="20.4" height="381.4" fill="#3c4f8a"/><rect x="1169.3" y="2182.1" width="20.4" height="76.0" fill="#3d4e8a"/><rect x="1169.3" y="2257.7" width="20.4" height="78.3" fill="#3e4a89"/><rect x="1169.3" y="2335.6" width="20.4" height="76.8" fill="#3f4889"/><rect x="1169.3" y="2412.0" width="20.4" height="76.8" fill="#404588"/><rect x="1169.3" y="2488.3" width="20.4" height="76.8" fill="#414487"/><rect x="1169.3" y="2564.7" width="20.4" height="76.8" fill="#424186"/><rect x="1169.3" y="2641.0" width="20.4" height="76.8" fill="#424086"/><rect x="1169.3" y="2717.4" width="20.4" height="76.8" fill="#443b84"/><rect x="1169.3" y="2793.8" width="20.4" height="76.8" fill="#453781"/><rect x="1169.3" y="2870.1" width="20.4" height="76.8" fill="#46327e"/><rect x="1169.3" y="2946.5" width="20.4" height="153.1" fill="#472d7b"/><rect x="1169.3" y="3099.2" width="20.4" height="114.2" fill="#482173"/><rect x="1189.2" y="1801.1" width="20.4" height="534.9" fill="#3c4f8a"/><rect x="1189.2" y="2335.6" width="20.4" height="229.5" fill="#3d4e8a"/><rect x="1189.2" y="2564.7" width="20.4" height="153.1" fill="#3e4c8a"/><rect x="1189.2" y="2717.4" width="20.4" height="76.8" fill="#414287"/><rect x="1189.2" y="2793.8" width="20.4" height="76.8" fill="#443b84"/><rect x="1189.2" y="2870.1" width="20.4" height="76.8" fill="#46337f"/><rect x="1189.2" y="2946.5" width="20.4" height="153.1" fill="#472a7a"/><rect x="1189.2" y="3099.2" width="20.4" height="114.2" fill="#482173"/><rect x="1209.2" y="1801.1" width="20.4" height="457.0" fill="#3e4a89"/><rect x="1209.2" y="2257.7" width="20.4" height="154.6" fill="#3e4c8a"/><rect x="1209.2" y="2412.0" width="20.4" height="153.1" fill="#3d4e8a"/><rect x="1209.2" y="2564.7" width="20.4" height="153.1" fill="#3e4c8a"/><rect x="1209.2" y="2717.4" width="20.4" height="76.8" fill="#414287"/><rect x="1209.2" y="2793.8" width="20.4" height="76.8" fill="#443b84"/><rect x="1209.2" y="2870.1" width="20.4" height="76.8" fill="#46337f"/><rect x="1209.2" y="2946.5" width="20.4" height="153.1" fill="#472a7a"/><rect x="1209.2" y="3099.2" width="20.4" height="114.2" fill="#482173"/><rect x="1229.1" y="1801.1" width="20.4" height="457.0" fill="#3e4a89"/><rect x="1229.1" y="2257.7" width="20.4" height="154.6" fill="#3e4989"/><rect x="1229.1" y="2412.0" width="20.4" height="76.8" fill="#3f4889"/><rect x="1229.1" y="2488.3" width="20.4" height="76.8" fill="#404588"/><rect x="1229.1" y="2564.7" width="20.4" height="76.8" fill="#424186"/><rect x="1229.1" y="2641.0" width="20.4" height="76.8" fill="#423f85"/><rect x="1229.1" y="2717.4" width="20.4" height="76.8" fill="#443a83"/><rect x="1229.1" y="2793.8" width="20.4" height="76.8" fill="#463480"/><rect x="1229.1" y="2870.1" width="20.4" height="76.8" fill="#472f7d"/><rect x="1229.1" y="2946.5" width="20.4" height="153.1" fill="#472a7a"/><rect x="1229.1" y="3099.2" width="20.4" height="114.2" fill="#48186a"/><rect x="1249.1" y="1801.1" width="20.4" height="457.0" fill="#3e4a89"/><rect x="1249.1" y="2257.7" width="20.4" height="154.6" fill="#3e4989"/><rect x="1249.1" y="2412.0" width="20.4" height="76.8" fill="#3f4889"/><rect x="1249.1" y="2488.3" width="20.4" height="76.8" fill="#404588"/><rect x="1249.1" y="2564.7" width="20.4" height="76.8" fill="#424186"/><rect x="1249.1" y="2641.0" width="20.4" height="76.8" fill="#423f85"/><rect x="1249.1" y="2717.4" width="20.4" height="76.8" fill="#443a83"/><rect x="1249.1" y="2793.8" width="20.4" height="76.8" fill="#463480"/><rect x="1249.1" y="2870.1" width="20.4" height="76.8" fill="#472f7d"/><rect x="1249.1" y="2946.5" width="20.4" height="153.1" fill="#472a7a"/><rect x="1249.1" y="3099.2" width="20.4" height="114.2" fill="#460b5e"/><rect x="1269.0" y="1801.1" width="20.4" height="457.0" fill="#3e4a89"/><rect x="1269.0" y="2257.7" width="20.4" height="154.6" fill="#3e4989"/><rect x="1269.0" y="2412.0" width="20.4" height="76.8" fill="#3f4889"/><rect x="1269.0" y="2488.3" width="20.4" height="76.8" fill="#404588"/><rect x="1269.0" y="2564.7" width="20.4" height="76.8" fill="#424186"/><rect x="1269.0" y="2641.0" width="20.4" height="76.8" fill="#423f85"/><rect x="1269.0" y="2717.4" width="20.4" height="76.8" fill="#443a83"/><rect x="1269.0" y="2793.8" width="20.4" height="76.8" fill="#463480"/><rect x="1269.0" y="2870.1" width="20.4" height="76.8" fill="#472f7d"/><rect x="1269.0" y="2946.5" width="20.4" height="153.1" fill="#472a7a"/><rect x="1269.0" y="3099.2" width="20.4" height="114.2" fill="#440154"/><rect x="1289.0" y="1801.1" width="20.4" height="457.0" fill="#3d4e8a"/><rect x="1289.0" y="2257.7" width="20.4" height="78.3" fill="#3e4a89"/><rect x="1289.0" y="2335.6" width="20.4" height="76.8" fill="#3e4989"/><rect x="1289.0" y="2412.0" width="20.4" height="76.8" fill="#3f4889"/><rect x="1289.0" y="2488.3" width="20.4" height="76.8" fill="#404588"/><rect x="1289.0" y="2564.7" width="20.4" height="76.8" fill="#424186"/><rect x="1289.0" y="2641.0" width="20.4" height="153.1" fill="#423f85"/><rect x="1289.0" y="2793.8" width="20.4" height="153.1" fill="#433e85"/><rect x="1289.0" y="2946.5" width="20.4" height="153.1" fill="#443b84"/><rect x="1289.0" y="3099.2" width="20.4" height="114.2" fill="#46085c"/><rect x="1308.9" y="1801.1" width="20.4" height="457.0" fill="#3d4e8a"/><rect x="1308.9" y="2257.7" width="20.4" height="78.3" fill="#3e4a89"/><rect x="1308.9" y="2335.6" width="20.4" height="76.8" fill="#3e4989"/><rect x="1308.9" y="2412.0" width="20.4" height="76.8" fill="#3f4889"/><rect x="1308.9" y="2488.3" width="20.4" height="76.8" fill="#404588"/><rect x="1308.9" y="2564.7" width="20.4" height="76.8" fill="#424186"/><rect x="1308.9" y="2641.0" width="20.4" height="153.1" fill="#423f85"/><rect x="1308.9" y="2793.8" width="20.4" height="153.1" fill="#433e85"/><rect x="1308.9" y="2946.5" width="20.4" height="153.1" fill="#443b84"/><rect x="1308.9" y="3099.2" width="20.4" height="114.2" fill="#481f70"/><rect x="1328.9" y="1801.1" width="20.4" height="534.9" fill="#3e4989"/><rect x="1328.9" y="2335.6" width="20.4" height="153.1" fill="#3f4889"/><rect x="1328.9" y="2488.3" width="20.4" height="76.8" fill="#404588"/><rect x="1328.9" y="2564.7" width="20.4" height="76.8" fill="#424186"/><rect x="1328.9" y="2641.0" width="20.4" height="76.8" fill="#423f85"/><rect x="1328.9" y="2717.4" width="20.4" height="76.8" fill="#443b84"/><rect x="1328.9" y="2793.8" width="20.4" height="76.8" fill="#443983"/><rect x="1328.9" y="2870.1" width="20.4" height="76.8" fill="#453581"/><rect x="1328.9" y="2946.5" width="20.4" height="153.1" fill="#46337f"/><rect x="1328.9" y="3099.2" width="20.4" height="114.2" fill="#472a7a"/><rect x="1348.8" y="1801.1" width="20.4" height="534.9" fill="#3e4989"/><rect x="1348.8" y="2335.6" width="20.4" height="153.1" fill="#3f4889"/><rect x="1348.8" y="2488.3" width="20.4" height="76.8" fill="#404588"/><rect x="1348.8" y="2564.7" width="20.4" height="76.8" fill="#424186"/><rect x="1348.8" y="2641.0" width="20.4" height="76.8" fill="#423f85"/><rect x="1348.8" y="2717.4" width="20.4" height="76.8" fill="#443b84"/><rect x="1348.8" y="2793.8" width="20.4" height="76.8" fill="#443983"/><rect x="1348.8" y="2870.1" width="20.4" height="76.8" fill="#453581"/><rect x="1348.8" y="2946.5" width="20.4" height="153.1" fill="#46337f"/><rect x="1348.8" y="3099.2" width="20.4" height="114.2" fill="#472a7a"/><rect x="1368.8" y="1801.1" width="20.4" height="764.0" fill="#424186"/><rect x="1368.8" y="2564.7" width="20.4" height="534.9" fill="#424086"/><rect x="1368.8" y="3099.2" width="20.4" height="114.2" fill="#443b84"/><rect x="1388.7" y="1801.1" width="20.4" height="764.0" fill="#424186"/><rect x="1388.7" y="2564.7" width="20.4" height="534.9" fill="#424086"/><rect x="1388.7" y="3099.2" width="20.4" height="114.2" fill="#443b84"/><rect x="1408.7" y="1801.1" width="20.4" height="457.0" fill="#3f4889"/><rect x="1408.7" y="2257.7" width="20.4" height="78.3" fill="#404588"/><rect x="1408.7" y="2335.6" width="20.4" height="76.8" fill="#414487"/><rect x="1408.7" y="2412.0" width="20.4" height="153.1" fill="#424186"/><rect x="1408.7" y="2564.7" width="20.4" height="534.9" fill="#424086"/><rect x="1408.7" y="3099.2" width="20.4" height="114.2" fill="#443b84"/><rect x="1428.6" y="1801.1" width="20.4" height="457.0" fill="#3f4889"/><rect x="1428.6" y="2257.7" width="20.4" height="78.3" fill="#404588"/><rect x="1428.6" y="2335.6" width="20.4" height="76.8" fill="#414487"/><rect x="1428.6" y="2412.0" width="20.4" height="153.1" fill="#424186"/><rect x="1428.6" y="2564.7" width="20.4" height="534.9" fill="#424086"/><rect x="1428.6" y="3099.2" width="20.4" height="114.2" fill="#443b84"/><rect x="1448.6" y="1801.1" width="20.4" height="457.0" fill="#3f4889"/><rect x="1448.6" y="2257.7" width="20.4" height="154.6" fill="#3f4788"/><rect x="1448.6" y="2412.0" width="20.4" height="76.8" fill="#404588"/><rect x="1448.6" y="2488.3" width="20.4" height="76.8" fill="#424186"/><rect x="1448.6" y="2564.7" width="20.4" height="76.8" fill="#423f85"/><rect x="1448.6" y="2641.0" width="20.4" height="76.8" fill="#443b84"/><rect x="1448.6" y="2717.4" width="20.4" height="76.8" fill="#453882"/><rect x="1448.6" y="2793.8" width="20.4" height="76.8" fill="#463480"/><rect x="1448.6" y="2870.1" width="20.4" height="76.8" fill="#46307e"/><rect x="1448.6" y="2946.5" width="20.4" height="266.9" fill="#472d7b"/><rect x="1468.6" y="1801.1" width="20.4" height="457.0" fill="#424086"/><rect x="1468.6" y="2257.7" width="20.4" height="154.6" fill="#423f85"/><rect x="1468.6" y="2412.0" width="20.4" height="229.5" fill="#433e85"/><rect x="1468.6" y="2641.0" width="20.4" height="572.3" fill="#443b84"/><rect x="1488.5" y="1801.1" width="20.4" height="457.0" fill="#3f4889"/><rect x="1488.5" y="2257.7" width="20.4" height="154.6" fill="#3f4788"/><rect x="1488.5" y="2412.0" width="20.4" height="534.9" fill="#404588"/><rect x="1488.5" y="2946.5" width="20.4" height="266.9" fill="#414487"/><rect x="1508.5" y="1801.1" width="20.4" height="534.9" fill="#38588c"/><rect x="1508.5" y="2335.6" width="20.4" height="153.1" fill="#39568c"/><rect x="1508.5" y="2488.3" width="20.4" height="76.8" fill="#3a538b"/><rect x="1508.5" y="2564.7" width="20.4" height="76.8" fill="#3b518b"/><rect x="1508.5" y="2641.0" width="20.4" height="76.8" fill="#3c4f8a"/><rect x="1508.5" y="2717.4" width="20.4" height="153.1" fill="#3d4e8a"/><rect x="1508.5" y="2870.1" width="20.4" height="76.8" fill="#3e4c8a"/><rect x="1508.5" y="2946.5" width="20.4" height="266.9" fill="#3e4a89"/><rect x="1528.4" y="1801.1" width="20.4" height="687.6" fill="#355e8d"/><rect x="1528.4" y="2488.3" width="20.4" height="76.8" fill="#38598c"/><rect x="1528.4" y="2564.7" width="20.4" height="76.8" fill="#3a548c"/><rect x="1528.4" y="2641.0" width="20.4" height="76.8" fill="#3c4f8a"/><rect x="1528.4" y="2717.4" width="20.4" height="153.1" fill="#3d4e8a"/><rect x="1528.4" y="2870.1" width="20.4" height="76.8" fill="#3e4c8a"/><rect x="1528.4" y="2946.5" width="20.4" height="153.1" fill="#3e4a89"/><rect x="1528.4" y="3099.2" width="20.4" height="114.2" fill="#404588"/><rect x="1548.4" y="1801.1" width="20.4" height="687.6" fill="#355e8d"/><rect x="1548.4" y="2488.3" width="20.4" height="76.8" fill="#38598c"/><rect x="1548.4" y="2564.7" width="20.4" height="76.8" fill="#3a548c"/><rect x="1548.4" y="2641.0" width="20.4" height="76.8" fill="#3c4f8a"/><rect x="1548.4" y="2717.4" width="20.4" height="76.8" fill="#3d4d8a"/><rect x="1548.4" y="2793.8" width="20.4" height="76.8" fill="#3e4989"/><rect x="1548.4" y="2870.1" width="20.4" height="76.8" fill="#3f4788"/><rect x="1548.4" y="2946.5" width="20.4" height="266.9" fill="#404588"/><rect x="1568.3" y="1801.1" width="20.4" height="687.6" fill="#355e8d"/><rect x="1568.3" y="2488.3" width="20.4" height="76.8" fill="#38598c"/><rect x="1568.3" y="2564.7" width="20.4" height="76.8" fill="#3a548c"/><rect x="1568.3" y="2641.0" width="20.4" height="76.8" fill="#3c4f8a"/><rect x="1568.3" y="2717.4" width="20.4" height="76.8" fill="#3d4d8a"/><rect x="1568.3" y="2793.8" width="20.4" height="76.8" fill="#3e4989"/><rect x="1568.3" y="2870.1" width="20.4" height="76.8" fill="#3f4788"/><rect x="1568.3" y="2946.5" width="20.4" height="153.1" fill="#404588"/><rect x="1568.3" y="3099.2" width="20.4" height="114.2" fill="#424186"/><rect x="1588.3" y="1801.1" width="20.4" height="534.9" fill="#365d8d"/><rect x="1588.3" y="2335.6" width="20.4" height="153.1" fill="#365c8d"/><rect x="1588.3" y="2488.3" width="20.4" height="76.8" fill="#39558c"/><rect x="1588.3" y="2564.7" width="20.4" height="76.8" fill="#3c508b"/><rect x="1588.3" y="2641.0" width="20.4" height="76.8" fill="#3e4a89"/><rect x="1588.3" y="2717.4" width="20.4" height="76.8" fill="#3e4989"/><rect x="1588.3" y="2793.8" width="20.4" height="76.8" fill="#3f4889"/><rect x="1588.3" y="2870.1" width="20.4" height="76.8" fill="#404688"/><rect x="1588.3" y="2946.5" width="20.4" height="153.1" fill="#404588"/><rect x="1588.3" y="3099.2" width="20.4" height="114.2" fill="#424186"/><rect x="1608.2" y="1801.1" width="20.4" height="457.0" fill="#38598c"/><rect x="1608.2" y="2257.7" width="20.4" height="154.6" fill="#375a8c"/><rect x="1608.2" y="2412.0" width="20.4" height="76.8" fill="#375b8d"/><rect x="1608.2" y="2488.3" width="20.4" height="76.8" fill="#39558c"/><rect x="1608.2" y="2564.7" width="20.4" height="76.8" fill="#3c508b"/><rect x="1608.2" y="2641.0" width="20.4" height="76.8" fill="#3e4a89"/><rect x="1608.2" y="2717.4" width="20.4" height="76.8" fill="#3f4889"/><rect x="1608.2" y="2793.8" width="20.4" height="76.8" fill="#404588"/><rect x="1608.2" y="2870.1" width="20.4" height="76.8" fill="#424186"/><rect x="1608.2" y="2946.5" width="20.4" height="153.1" fill="#423f85"/><rect x="1608.2" y="3099.2" width="20.4" height="114.2" fill="#433e85"/><rect x="1628.2" y="1801.1" width="20.4" height="457.0" fill="#355e8d"/><rect x="1628.2" y="2257.7" width="20.4" height="154.6" fill="#365d8d"/><rect x="1628.2" y="2412.0" width="20.4" height="76.8" fill="#375b8d"/><rect x="1628.2" y="2488.3" width="20.4" height="76.8" fill="#38588c"/><rect x="1628.2" y="2564.7" width="20.4" height="76.8" fill="#3a538b"/><rect x="1628.2" y="2641.0" width="20.4" height="76.8" fill="#3c4f8a"/><rect x="1628.2" y="2717.4" width="20.4" height="76.8" fill="#3e4c8a"/><rect x="1628.2" y="2793.8" width="20.4" height="76.8" fill="#3e4989"/><rect x="1628.2" y="2870.1" width="20.4" height="76.8" fill="#404688"/><rect x="1628.2" y="2946.5" width="20.4" height="153.1" fill="#414487"/><rect x="1628.2" y="3099.2" width="20.4" height="114.2" fill="#433e85"/><rect x="1648.1" y="1801.1" width="20.4" height="381.4" fill="#355e8d"/><rect x="1648.1" y="2182.1" width="20.4" height="76.0" fill="#365d8d"/><rect x="1648.1" y="2257.7" width="20.4" height="78.3" fill="#375a8c"/><rect x="1648.1" y="2335.6" width="20.4" height="76.8" fill="#38588c"/><rect x="1648.1" y="2412.0" width="20.4" height="76.8" fill="#3a548c"/><rect x="1648.1" y="2488.3" width="20.4" height="76.8" fill="#3b518b"/><rect x="1648.1" y="2564.7" width="20.4" height="76.8" fill="#3d4d8a"/><rect x="1648.1" y="2641.0" width="20.4" height="76.8" fill="#3e4989"/><rect x="1648.1" y="2717.4" width="20.4" height="76.8" fill="#3f4889"/><rect x="1648.1" y="2793.8" width="20.4" height="76.8" fill="#404688"/><rect x="1648.1" y="2870.1" width="20.4" height="76.8" fill="#404588"/><rect x="1648.1" y="2946.5" width="20.4" height="153.1" fill="#414487"/><rect x="1648.1" y="3099.2" width="20.4" height="114.2" fill="#46337f"/><rect x="1668.1" y="1801.1" width="20.4" height="381.4" fill="#38588c"/><rect x="1668.1" y="2182.1" width="20.4" height="76.0" fill="#39558c"/><rect x="1668.1" y="2257.7" width="20.4" height="78.3" fill="#3a538b"/><rect x="1668.1" y="2335.6" width="20.4" height="76.8" fill="#3c508b"/><rect x="1668.1" y="2412.0" width="20.4" height="76.8" fill="#3d4e8a"/><rect x="1668.1" y="2488.3" width="20.4" height="76.8" fill="#3e4989"/><rect x="1668.1" y="2564.7" width="20.4" height="76.8" fill="#404688"/><rect x="1668.1" y="2641.0" width="20.4" height="76.8" fill="#424186"/><rect x="1668.1" y="2717.4" width="20.4" height="76.8" fill="#433d84"/><rect x="1668.1" y="2793.8" width="20.4" height="76.8" fill="#453781"/><rect x="1668.1" y="2870.1" width="20.4" height="76.8" fill="#46327e"/><rect x="1668.1" y="2946.5" width="20.4" height="153.1" fill="#472d7b"/><rect x="1668.1" y="3099.2" width="20.4" height="114.2" fill="#481f70"/><rect x="1688.0" y="1801.1" width="20.4" height="381.4" fill="#3e4989"/><rect x="1688.0" y="2182.1" width="20.4" height="76.0" fill="#404688"/><rect x="1688.0" y="2257.7" width="20.4" height="78.3" fill="#433e85"/><rect x="1688.0" y="2335.6" width="20.4" height="76.8" fill="#453581"/><rect x="1688.0" y="2412.0" width="20.4" height="76.8" fill="#472e7c"/><rect x="1688.0" y="2488.3" width="20.4" height="76.8" fill="#482979"/><rect x="1688.0" y="2564.7" width="20.4" height="76.8" fill="#482475"/><rect x="1688.0" y="2641.0" width="20.4" height="572.3" fill="#481f70"/><rect x="1708.0" y="1801.1" width="20.4" height="457.0" fill="#463480"/><rect x="1708.0" y="2257.7" width="20.4" height="154.6" fill="#46337f"/><rect x="1708.0" y="2412.0" width="20.4" height="153.1" fill="#46307e"/><rect x="1708.0" y="2564.7" width="20.4" height="153.1" fill="#472f7d"/><rect x="1708.0" y="2717.4" width="20.4" height="76.8" fill="#472a7a"/><rect x="1708.0" y="2793.8" width="20.4" height="76.8" fill="#482677"/><rect x="1708.0" y="2870.1" width="20.4" height="76.8" fill="#482374"/><rect x="1708.0" y="2946.5" width="20.4" height="153.1" fill="#481f70"/><rect x="1708.0" y="3099.2" width="20.4" height="114.2" fill="#481a6c"/><rect x="1727.9" y="1801.1" width="20.4" height="457.0" fill="#463480"/><rect x="1727.9" y="2257.7" width="20.4" height="154.6" fill="#46337f"/><rect x="1727.9" y="2412.0" width="20.4" height="76.8" fill="#46307e"/><rect x="1727.9" y="2488.3" width="20.4" height="76.8" fill="#472f7d"/><rect x="1727.9" y="2564.7" width="20.4" height="76.8" fill="#472e7c"/><rect x="1727.9" y="2641.0" width="20.4" height="76.8" fill="#472d7b"/><rect x="1727.9" y="2717.4" width="20.4" height="76.8" fill="#472e7c"/><rect x="1727.9" y="2793.8" width="20.4" height="76.8" fill="#472f7d"/><rect x="1727.9" y="2870.1" width="20.4" height="76.8" fill="#46307e"/><rect x="1727.9" y="2946.5" width="20.4" height="266.9" fill="#46337f"/><rect x="1747.9" y="1801.1" width="20.4" height="611.3" fill="#443a83"/><rect x="1747.9" y="2412.0" width="20.4" height="153.1" fill="#443b84"/><rect x="1747.9" y="2564.7" width="20.4" height="382.2" fill="#443a83"/><rect x="1747.9" y="2946.5" width="20.4" height="153.1" fill="#443b84"/><rect x="1747.9" y="3099.2" width="20.4" height="114.2" fill="#443a83"/><rect x="1767.8" y="1801.1" width="20.4" height="534.9" fill="#424086"/><rect x="1767.8" y="2335.6" width="20.4" height="305.8" fill="#424186"/><rect x="1767.8" y="2641.0" width="20.4" height="76.8" fill="#424086"/><rect x="1767.8" y="2717.4" width="20.4" height="76.8" fill="#423f85"/><rect x="1767.8" y="2793.8" width="20.4" height="153.1" fill="#433e85"/><rect x="1767.8" y="2946.5" width="20.4" height="153.1" fill="#443b84"/><rect x="1767.8" y="3099.2" width="20.4" height="114.2" fill="#463480"/><rect x="1787.8" y="1801.1" width="20.4" height="534.9" fill="#404588"/><rect x="1787.8" y="2335.6" width="20.4" height="153.1" fill="#414287"/><rect x="1787.8" y="2488.3" width="20.4" height="725.1" fill="#424186"/><rect x="1807.7" y="1801.1" width="20.4" height="534.9" fill="#404588"/><rect x="1807.7" y="2335.6" width="20.4" height="153.1" fill="#414287"/><rect x="1807.7" y="2488.3" width="20.4" height="725.1" fill="#424186"/><rect x="1827.7" y="1801.1" width="20.4" height="993.1" fill="#404588"/><rect x="1827.7" y="2793.8" width="20.4" height="153.1" fill="#414487"/><rect x="1827.7" y="2946.5" width="20.4" height="153.1" fill="#424186"/><rect x="1827.7" y="3099.2" width="20.4" height="114.2" fill="#404588"/><rect x="1847.6" y="1801.1" width="20.4" height="457.0" fill="#3f4889"/><rect x="1847.6" y="2257.7" width="20.4" height="154.6" fill="#3f4788"/><rect x="1847.6" y="2412.0" width="20.4" height="382.2" fill="#404588"/><rect x="1847.6" y="2793.8" width="20.4" height="153.1" fill="#404688"/><rect x="1847.6" y="2946.5" width="20.4" height="153.1" fill="#3f4889"/><rect x="1847.6" y="3099.2" width="20.4" height="114.2" fill="#404588"/><rect x="1867.6" y="1801.1" width="20.4" height="457.0" fill="#3f4889"/><rect x="1867.6" y="2257.7" width="20.4" height="154.6" fill="#3f4788"/><rect x="1867.6" y="2412.0" width="20.4" height="382.2" fill="#404588"/><rect x="1867.6" y="2793.8" width="20.4" height="153.1" fill="#404688"/><rect x="1867.6" y="2946.5" width="20.4" height="153.1" fill="#3f4889"/><rect x="1867.6" y="3099.2" width="20.4" height="114.2" fill="#404588"/><rect x="1887.5" y="1801.1" width="20.4" height="840.4" fill="#3e4a89"/><rect x="1887.5" y="2641.0" width="20.4" height="229.5" fill="#3e4989"/><rect x="1887.5" y="2870.1" width="20.4" height="229.5" fill="#3f4889"/><rect x="1887.5" y="3099.2" width="20.4" height="114.2" fill="#404588"/><rect x="1907.5" y="1801.1" width="20.4" height="840.4" fill="#3e4a89"/><rect x="1907.5" y="2641.0" width="20.4" height="229.5" fill="#3e4989"/><rect x="1907.5" y="2870.1" width="20.4" height="229.5" fill="#3f4889"/><rect x="1907.5" y="3099.2" width="20.4" height="114.2" fill="#3e4989"/><rect x="1927.4" y="1801.1" width="20.4" height="764.0" fill="#39558c"/><rect x="1927.4" y="2564.7" width="20.4" height="648.7" fill="#3a548c"/><rect x="1947.4" y="1801.1" width="20.4" height="764.0" fill="#39558c"/><rect x="1947.4" y="2564.7" width="20.4" height="648.7" fill="#3a548c"/><rect x="1967.3" y="1801.1" width="20.4" height="764.0" fill="#39558c"/><rect x="1967.3" y="2564.7" width="20.4" height="648.7" fill="#3a548c"/><rect x="1987.3" y="1801.1" width="20.4" height="534.9" fill="#375b8d"/><rect x="1987.3" y="2335.6" width="20.4" height="153.1" fill="#375a8c"/><rect x="1987.3" y="2488.3" width="20.4" height="229.5" fill="#38588c"/><rect x="1987.3" y="2717.4" width="20.4" height="153.1" fill="#39568c"/><rect x="1987.3" y="2870.1" width="20.4" height="343.3" fill="#39558c"/><rect x="2007.2" y="1801.1" width="20.4" height="687.6" fill="#32648e"/><rect x="2007.2" y="2488.3" width="20.4" height="76.8" fill="#34608d"/><rect x="2007.2" y="2564.7" width="20.4" height="76.8" fill="#365c8d"/><rect x="2007.2" y="2641.0" width="20.4" height="153.1" fill="#38588c"/><rect x="2007.2" y="2793.8" width="20.4" height="153.1" fill="#39558c"/><rect x="2007.2" y="2946.5" width="20.4" height="266.9" fill="#3a548c"/><rect x="2027.2" y="1801.1" width="20.4" height="687.6" fill="#31688e"/><rect x="2027.2" y="2488.3" width="20.4" height="76.8" fill="#33638d"/><rect x="2027.2" y="2564.7" width="20.4" height="76.8" fill="#365d8d"/><rect x="2027.2" y="2641.0" width="20.4" height="76.8" fill="#38588c"/><rect x="2027.2" y="2717.4" width="20.4" height="76.8" fill="#3a548c"/><rect x="2027.2" y="2793.8" width="20.4" height="76.8" fill="#3b528b"/><rect x="2027.2" y="2870.1" width="20.4" height="76.8" fill="#3c508b"/><rect x="2027.2" y="2946.5" width="20.4" height="153.1" fill="#3d4e8a"/><rect x="2027.2" y="3099.2" width="20.4" height="114.2" fill="#3c508b"/><rect x="2047.1" y="1801.1" width="20.4" height="534.9" fill="#2f6b8e"/><rect x="2047.1" y="2335.6" width="20.4" height="153.1" fill="#30698e"/><rect x="2047.1" y="2488.3" width="20.4" height="76.8" fill="#34618d"/><rect x="2047.1" y="2564.7" width="20.4" height="76.8" fill="#375b8d"/><rect x="2047.1" y="2641.0" width="20.4" height="76.8" fill="#3a538b"/><rect x="2047.1" y="2717.4" width="20.4" height="76.8" fill="#3b528b"/><rect x="2047.1" y="2793.8" width="20.4" height="76.8" fill="#3c508b"/><rect x="2047.1" y="2870.1" width="20.4" height="76.8" fill="#3c4f8a"/><rect x="2047.1" y="2946.5" width="20.4" height="153.1" fill="#3d4e8a"/><rect x="2047.1" y="3099.2" width="20.4" height="114.2" fill="#404588"/><rect x="2067.1" y="1801.1" width="20.4" height="534.9" fill="#2f6b8e"/><rect x="2067.1" y="2335.6" width="20.4" height="153.1" fill="#30698e"/><rect x="2067.1" y="2488.3" width="20.4" height="76.8" fill="#32658e"/><rect x="2067.1" y="2564.7" width="20.4" height="76.8" fill="#34618d"/><rect x="2067.1" y="2641.0" width="20.4" height="76.8" fill="#355e8d"/><rect x="2067.1" y="2717.4" width="20.4" height="76.8" fill="#38598c"/><rect x="2067.1" y="2793.8" width="20.4" height="76.8" fill="#3a538b"/><rect x="2067.1" y="2870.1" width="20.4" height="76.8" fill="#3d4e8a"/><rect x="2067.1" y="2946.5" width="20.4" height="153.1" fill="#3f4889"/><rect x="2067.1" y="3099.2" width="20.4" height="114.2" fill="#404588"/><rect x="2087.1" y="1801.1" width="20.4" height="534.9" fill="#31688e"/><rect x="2087.1" y="2335.6" width="20.4" height="153.1" fill="#31678e"/><rect x="2087.1" y="2488.3" width="20.4" height="76.8" fill="#32648e"/><rect x="2087.1" y="2564.7" width="20.4" height="76.8" fill="#34618d"/><rect x="2087.1" y="2641.0" width="20.4" height="76.8" fill="#355e8d"/><rect x="2087.1" y="2717.4" width="20.4" height="76.8" fill="#365c8d"/><rect x="2087.1" y="2793.8" width="20.4" height="76.8" fill="#38598c"/><rect x="2087.1" y="2870.1" width="20.4" height="76.8" fill="#39568c"/><rect x="2087.1" y="2946.5" width="20.4" height="153.1" fill="#3a548c"/><rect x="2087.1" y="3099.2" width="20.4" height="114.2" fill="#3c508b"/><rect x="2107.0" y="1801.1" width="20.4" height="534.9" fill="#31688e"/><rect x="2107.0" y="2335.6" width="20.4" height="153.1" fill="#31678e"/><rect x="2107.0" y="2488.3" width="20.4" height="76.8" fill="#32648e"/><rect x="2107.0" y="2564.7" width="20.4" height="76.8" fill="#34618d"/><rect x="2107.0" y="2641.0" width="20.4" height="76.8" fill="#355e8d"/><rect x="2107.0" y="2717.4" width="20.4" height="76.8" fill="#365c8d"/><rect x="2107.0" y="2793.8" width="20.4" height="76.8" fill="#38598c"/><rect x="2107.0" y="2870.1" width="20.4" height="76.8" fill="#39568c"/><rect x="2107.0" y="2946.5" width="20.4" height="266.9" fill="#3a548c"/><rect x="2127.0" y="1801.1" width="20.4" height="534.9" fill="#31688e"/><rect x="2127.0" y="2335.6" width="20.4" height="153.1" fill="#31678e"/><rect x="2127.0" y="2488.3" width="20.4" height="76.8" fill="#32648e"/><rect x="2127.0" y="2564.7" width="20.4" height="76.8" fill="#34618d"/><rect x="2127.0" y="2641.0" width="20.4" height="76.8" fill="#355e8d"/><rect x="2127.0" y="2717.4" width="20.4" height="76.8" fill="#365d8d"/><rect x="2127.0" y="2793.8" width="20.4" height="76.8" fill="#375b8d"/><rect x="2127.0" y="2870.1" width="20.4" height="76.8" fill="#375a8c"/><rect x="2127.0" y="2946.5" width="20.4" height="153.1" fill="#38598c"/><rect x="2127.0" y="3099.2" width="20.4" height="114.2" fill="#3a548c"/><rect x="2146.9" y="1801.1" width="20.4" height="534.9" fill="#31688e"/><rect x="2146.9" y="2335.6" width="20.4" height="153.1" fill="#31678e"/><rect x="2146.9" y="2488.3" width="20.4" height="76.8" fill="#31668e"/><rect x="2146.9" y="2564.7" width="20.4" height="76.8" fill="#32648e"/><rect x="2146.9" y="2641.0" width="20.4" height="76.8" fill="#33638d"/><rect x="2146.9" y="2717.4" width="20.4" height="76.8" fill="#34618d"/><rect x="2146.9" y="2793.8" width="20.4" height="76.8" fill="#355e8d"/><rect x="2146.9" y="2870.1" width="20.4" height="76.8" fill="#375b8d"/><rect x="2146.9" y="2946.5" width="20.4" height="153.1" fill="#38598c"/><rect x="2146.9" y="3099.2" width="20.4" height="114.2" fill="#3a548c"/><rect x="2166.9" y="1801.1" width="20.4" height="534.9" fill="#31688e"/><rect x="2166.9" y="2335.6" width="20.4" height="153.1" fill="#31678e"/><rect x="2166.9" y="2488.3" width="20.4" height="76.8" fill="#31668e"/><rect x="2166.9" y="2564.7" width="20.4" height="76.8" fill="#32648e"/><rect x="2166.9" y="2641.0" width="20.4" height="76.8" fill="#33638d"/><rect x="2166.9" y="2717.4" width="20.4" height="76.8" fill="#34618d"/><rect x="2166.9" y="2793.8" width="20.4" height="76.8" fill="#355e8d"/><rect x="2166.9" y="2870.1" width="20.4" height="76.8" fill="#375b8d"/><rect x="2166.9" y="2946.5" width="20.4" height="153.1" fill="#38598c"/><rect x="2166.9" y="3099.2" width="20.4" height="114.2" fill="#3e4a89"/><rect x="2186.8" y="1801.1" width="20.4" height="534.9" fill="#31688e"/><rect x="2186.8" y="2335.6" width="20.4" height="153.1" fill="#31678e"/><rect x="2186.8" y="2488.3" width="20.4" height="76.8" fill="#31668e"/><rect x="2186.8" y="2564.7" width="20.4" height="76.8" fill="#32648e"/><rect x="2186.8" y="2641.0" width="20.4" height="76.8" fill="#33638d"/><rect x="2186.8" y="2717.4" width="20.4" height="76.8" fill="#34618d"/><rect x="2186.8" y="2793.8" width="20.4" height="76.8" fill="#355e8d"/><rect x="2186.8" y="2870.1" width="20.4" height="76.8" fill="#375b8d"/><rect x="2186.8" y="2946.5" width="20.4" height="153.1" fill="#38598c"/><rect x="2186.8" y="3099.2" width="20.4" height="114.2" fill="#414487"/><rect x="2206.8" y="1801.1" width="20.4" height="534.9" fill="#31688e"/><rect x="2206.8" y="2335.6" width="20.4" height="153.1" fill="#31678e"/><rect x="2206.8" y="2488.3" width="20.4" height="76.8" fill="#31668e"/><rect x="2206.8" y="2564.7" width="20.4" height="76.8" fill="#32648e"/><rect x="2206.8" y="2641.0" width="20.4" height="76.8" fill="#33638d"/><rect x="2206.8" y="2717.4" width="20.4" height="76.8" fill="#33628d"/><rect x="2206.8" y="2793.8" width="20.4" height="153.1" fill="#34618d"/><rect x="2206.8" y="2946.5" width="20.4" height="153.1" fill="#355f8d"/><rect x="2206.8" y="3099.2" width="20.4" height="114.2" fill="#3d4e8a"/><rect x="2226.7" y="1801.1" width="20.4" height="534.9" fill="#31688e"/><rect x="2226.7" y="2335.6" width="20.4" height="153.1" fill="#31678e"/><rect x="2226.7" y="2488.3" width="20.4" height="76.8" fill="#31668e"/><rect x="2226.7" y="2564.7" width="20.4" height="76.8" fill="#32648e"/><rect x="2226.7" y="2641.0" width="20.4" height="76.8" fill="#33638d"/><rect x="2226.7" y="2717.4" width="20.4" height="76.8" fill="#33628d"/><rect x="2226.7" y="2793.8" width="20.4" height="153.1" fill="#34618d"/><rect x="2226.7" y="2946.5" width="20.4" height="153.1" fill="#355f8d"/><rect x="2226.7" y="3099.2" width="20.4" height="114.2" fill="#38598c"/><rect x="2246.7" y="1801.1" width="20.4" height="534.9" fill="#306a8e"/><rect x="2246.7" y="2335.6" width="20.4" height="153.1" fill="#30698e"/><rect x="2246.7" y="2488.3" width="20.4" height="76.8" fill="#31668e"/><rect x="2246.7" y="2564.7" width="20.4" height="76.8" fill="#32658e"/><rect x="2246.7" y="2641.0" width="20.4" height="76.8" fill="#33638d"/><rect x="2246.7" y="2717.4" width="20.4" height="76.8" fill="#33628d"/><rect x="2246.7" y="2793.8" width="20.4" height="153.1" fill="#34618d"/><rect x="2246.7" y="2946.5" width="20.4" height="153.1" fill="#355f8d"/><rect x="2246.7" y="3099.2" width="20.4" height="114.2" fill="#38598c"/><rect x="2266.6" y="1801.1" width="20.4" height="534.9" fill="#306a8e"/><rect x="2266.6" y="2335.6" width="20.4" height="153.1" fill="#30698e"/><rect x="2266.6" y="2488.3" width="20.4" height="76.8" fill="#31668e"/><rect x="2266.6" y="2564.7" width="20.4" height="76.8" fill="#32658e"/><rect x="2266.6" y="2641.0" width="20.4" height="76.8" fill="#33638d"/><rect x="2266.6" y="2717.4" width="20.4" height="76.8" fill="#33628d"/><rect x="2266.6" y="2793.8" width="20.4" height="153.1" fill="#34618d"/><rect x="2266.6" y="2946.5" width="20.4" height="153.1" fill="#355f8d"/><rect x="2266.6" y="3099.2" width="20.4" height="114.2" fill="#38598c"/><rect x="2286.6" y="1801.1" width="20.4" height="534.9" fill="#306a8e"/><rect x="2286.6" y="2335.6" width="20.4" height="153.1" fill="#30698e"/><rect x="2286.6" y="2488.3" width="20.4" height="76.8" fill="#32658e"/><rect x="2286.6" y="2564.7" width="20.4" height="76.8" fill="#33628d"/><rect x="2286.6" y="2641.0" width="20.4" height="76.8" fill="#355f8d"/><rect x="2286.6" y="2717.4" width="20.4" height="76.8" fill="#365d8d"/><rect x="2286.6" y="2793.8" width="20.4" height="76.8" fill="#375b8d"/><rect x="2286.6" y="2870.1" width="20.4" height="76.8" fill="#375a8c"/><rect x="2286.6" y="2946.5" width="20.4" height="153.1" fill="#38588c"/><rect x="2286.6" y="3099.2" width="20.4" height="114.2" fill="#38598c"/><rect x="2306.5" y="1801.1" width="20.4" height="457.0" fill="#31678e"/><rect x="2306.5" y="2257.7" width="20.4" height="154.6" fill="#31668e"/><rect x="2306.5" y="2412.0" width="20.4" height="76.8" fill="#32648e"/><rect x="2306.5" y="2488.3" width="20.4" height="76.8" fill="#33638d"/><rect x="2306.5" y="2564.7" width="20.4" height="76.8" fill="#34618d"/><rect x="2306.5" y="2641.0" width="20.4" height="76.8" fill="#355f8d"/><rect x="2306.5" y="2717.4" width="20.4" height="76.8" fill="#365d8d"/><rect x="2306.5" y="2793.8" width="20.4" height="76.8" fill="#375b8d"/><rect x="2306.5" y="2870.1" width="20.4" height="76.8" fill="#375a8c"/><rect x="2306.5" y="2946.5" width="20.4" height="153.1" fill="#38588c"/><rect x="2306.5" y="3099.2" width="20.4" height="114.2" fill="#3b528b"/><rect x="2326.5" y="1801.1" width="20.4" height="457.0" fill="#31678e"/><rect x="2326.5" y="2257.7" width="20.4" height="154.6" fill="#31668e"/><rect x="2326.5" y="2412.0" width="20.4" height="76.8" fill="#32648e"/><rect x="2326.5" y="2488.3" width="20.4" height="76.8" fill="#33638d"/><rect x="2326.5" y="2564.7" width="20.4" height="76.8" fill="#34618d"/><rect x="2326.5" y="2641.0" width="20.4" height="76.8" fill="#355f8d"/><rect x="2326.5" y="2717.4" width="20.4" height="76.8" fill="#365d8d"/><rect x="2326.5" y="2793.8" width="20.4" height="76.8" fill="#375b8d"/><rect x="2326.5" y="2870.1" width="20.4" height="76.8" fill="#375a8c"/><rect x="2326.5" y="2946.5" width="20.4" height="153.1" fill="#38588c"/><rect x="2326.5" y="3099.2" width="20.4" height="114.2" fill="#3e4a89"/><rect x="2346.4" y="1801.1" width="20.4" height="457.0" fill="#31678e"/><rect x="2346.4" y="2257.7" width="20.4" height="154.6" fill="#31668e"/><rect x="2346.4" y="2412.0" width="20.4" height="76.8" fill="#32648e"/><rect x="2346.4" y="2488.3" width="20.4" height="76.8" fill="#34618d"/><rect x="2346.4" y="2564.7" width="20.4" height="76.8" fill="#365d8d"/><rect x="2346.4" y="2641.0" width="20.4" height="76.8" fill="#38598c"/><rect x="2346.4" y="2717.4" width="20.4" height="76.8" fill="#38588c"/><rect x="2346.4" y="2793.8" width="20.4" height="76.8" fill="#39558c"/><rect x="2346.4" y="2870.1" width="20.4" height="76.8" fill="#3a548c"/><rect x="2346.4" y="2946.5" width="20.4" height="153.1" fill="#3a538b"/><rect x="2346.4" y="3099.2" width="20.4" height="114.2" fill="#3e4a89"/><rect x="2366.4" y="1801.1" width="20.4" height="381.4" fill="#31678e"/><rect x="2366.4" y="2182.1" width="20.4" height="76.0" fill="#31668e"/><rect x="2366.4" y="2257.7" width="20.4" height="78.3" fill="#32648e"/><rect x="2366.4" y="2335.6" width="20.4" height="76.8" fill="#33628d"/><rect x="2366.4" y="2412.0" width="20.4" height="76.8" fill="#355f8d"/><rect x="2366.4" y="2488.3" width="20.4" height="76.8" fill="#375b8d"/><rect x="2366.4" y="2564.7" width="20.4" height="76.8" fill="#38588c"/><rect x="2366.4" y="2641.0" width="20.4" height="458.6" fill="#3a538b"/><rect x="2366.4" y="3099.2" width="20.4" height="114.2" fill="#3e4a89"/><rect x="2386.3" y="1801.1" width="20.4" height="457.0" fill="#33638d"/><rect x="2386.3" y="2257.7" width="20.4" height="78.3" fill="#33628d"/><rect x="2386.3" y="2335.6" width="20.4" height="76.8" fill="#34608d"/><rect x="2386.3" y="2412.0" width="20.4" height="76.8" fill="#355f8d"/><rect x="2386.3" y="2488.3" width="20.4" height="76.8" fill="#375b8d"/><rect x="2386.3" y="2564.7" width="20.4" height="76.8" fill="#38588c"/><rect x="2386.3" y="2641.0" width="20.4" height="76.8" fill="#3a538b"/><rect x="2386.3" y="2717.4" width="20.4" height="76.8" fill="#3b518b"/><rect x="2386.3" y="2793.8" width="20.4" height="76.8" fill="#3c4f8a"/><rect x="2386.3" y="2870.1" width="20.4" height="76.8" fill="#3d4d8a"/><rect x="2386.3" y="2946.5" width="20.4" height="153.1" fill="#3e4a89"/><rect x="2386.3" y="3099.2" width="20.4" height="114.2" fill="#404588"/><rect x="2406.3" y="1801.1" width="20.4" height="457.0" fill="#355f8d"/><rect x="2406.3" y="2257.7" width="20.4" height="78.3" fill="#355e8d"/><rect x="2406.3" y="2335.6" width="20.4" height="76.8" fill="#365c8d"/><rect x="2406.3" y="2412.0" width="20.4" height="76.8" fill="#375b8d"/><rect x="2406.3" y="2488.3" width="20.4" height="76.8" fill="#38598c"/><rect x="2406.3" y="2564.7" width="20.4" height="76.8" fill="#39558c"/><rect x="2406.3" y="2641.0" width="20.4" height="76.8" fill="#3a538b"/><rect x="2406.3" y="2717.4" width="20.4" height="76.8" fill="#3b518b"/><rect x="2406.3" y="2793.8" width="20.4" height="76.8" fill="#3c4f8a"/><rect x="2406.3" y="2870.1" width="20.4" height="76.8" fill="#3d4d8a"/><rect x="2406.3" y="2946.5" width="20.4" height="153.1" fill="#3e4a89"/><rect x="2406.3" y="3099.2" width="20.4" height="114.2" fill="#424086"/><rect x="2426.2" y="1801.1" width="20.4" height="457.0" fill="#355f8d"/><rect x="2426.2" y="2257.7" width="20.4" height="78.3" fill="#355e8d"/><rect x="2426.2" y="2335.6" width="20.4" height="76.8" fill="#365c8d"/><rect x="2426.2" y="2412.0" width="20.4" height="76.8" fill="#375b8d"/><rect x="2426.2" y="2488.3" width="20.4" height="76.8" fill="#38598c"/><rect x="2426.2" y="2564.7" width="20.4" height="76.8" fill="#39558c"/><rect x="2426.2" y="2641.0" width="20.4" height="76.8" fill="#3a538b"/><rect x="2426.2" y="2717.4" width="20.4" height="76.8" fill="#3b518b"/><rect x="2426.2" y="2793.8" width="20.4" height="76.8" fill="#3c4f8a"/><rect x="2426.2" y="2870.1" width="20.4" height="76.8" fill="#3d4d8a"/><rect x="2426.2" y="2946.5" width="20.4" height="153.1" fill="#3e4a89"/><rect x="2426.2" y="3099.2" width="20.4" height="114.2" fill="#46337f"/><rect x="2446.2" y="1801.1" width="20.4" height="381.4" fill="#355f8d"/><rect x="2446.2" y="2182.1" width="20.4" height="76.0" fill="#365d8d"/><rect x="2446.2" y="2257.7" width="20.4" height="78.3" fill="#38598c"/><rect x="2446.2" y="2335.6" width="20.4" height="76.8" fill="#3a538b"/><rect x="2446.2" y="2412.0" width="20.4" height="76.8" fill="#3c4f8a"/><rect x="2446.2" y="2488.3" width="20.4" height="76.8" fill="#3e4c8a"/><rect x="2446.2" y="2564.7" width="20.4" height="76.8" fill="#3f4889"/><rect x="2446.2" y="2641.0" width="20.4" height="76.8" fill="#404588"/><rect x="2446.2" y="2717.4" width="20.4" height="76.8" fill="#423f85"/><rect x="2446.2" y="2793.8" width="20.4" height="76.8" fill="#443983"/><rect x="2446.2" y="2870.1" width="20.4" height="76.8" fill="#46337f"/><rect x="2446.2" y="2946.5" width="20.4" height="153.1" fill="#472d7b"/><rect x="2446.2" y="3099.2" width="20.4" height="114.2" fill="#46337f"/><rect x="2466.1" y="1801.1" width="20.4" height="381.4" fill="#404688"/><rect x="2466.1" y="2182.1" width="20.4" height="76.0" fill="#414287"/><rect x="2466.1" y="2257.7" width="20.4" height="78.3" fill="#433d84"/><rect x="2466.1" y="2335.6" width="20.4" height="76.8" fill="#453581"/><rect x="2466.1" y="2412.0" width="20.4" height="153.1" fill="#472e7c"/><rect x="2466.1" y="2564.7" width="20.4" height="153.1" fill="#472c7a"/><rect x="2466.1" y="2717.4" width="20.4" height="76.8" fill="#482878"/><rect x="2466.1" y="2793.8" width="20.4" height="76.8" fill="#482576"/><rect x="2466.1" y="2870.1" width="20.4" height="76.8" fill="#482374"/><rect x="2466.1" y="2946.5" width="20.4" height="153.1" fill="#481f70"/><rect x="2466.1" y="3099.2" width="20.4" height="114.2" fill="#482374"/><rect x="2486.1" y="1801.1" width="20.4" height="381.4" fill="#375b8d"/><rect x="2486.1" y="2182.1" width="20.4" height="76.0" fill="#38598c"/><rect x="2486.1" y="2257.7" width="20.4" height="78.3" fill="#3a538b"/><rect x="2486.1" y="2335.6" width="20.4" height="76.8" fill="#3c4f8a"/><rect x="2486.1" y="2412.0" width="20.4" height="76.8" fill="#3e4989"/><rect x="2486.1" y="2488.3" width="20.4" height="76.8" fill="#443b84"/><rect x="2486.1" y="2564.7" width="20.4" height="76.8" fill="#472e7c"/><rect x="2486.1" y="2641.0" width="20.4" height="76.8" fill="#481f70"/><rect x="2486.1" y="2717.4" width="20.4" height="76.8" fill="#481b6d"/><rect x="2486.1" y="2793.8" width="20.4" height="76.8" fill="#481668"/><rect x="2486.1" y="2870.1" width="20.4" height="76.8" fill="#471164"/><rect x="2486.1" y="2946.5" width="20.4" height="266.9" fill="#460b5e"/><rect x="2506.0" y="1801.1" width="20.4" height="457.0" fill="#32648e"/><rect x="2506.0" y="2257.7" width="20.4" height="78.3" fill="#33628d"/><rect x="2506.0" y="2335.6" width="20.4" height="76.8" fill="#34618d"/><rect x="2506.0" y="2412.0" width="20.4" height="76.8" fill="#355f8d"/><rect x="2506.0" y="2488.3" width="20.4" height="76.8" fill="#3b518b"/><rect x="2506.0" y="2564.7" width="20.4" height="76.8" fill="#414287"/><rect x="2506.0" y="2641.0" width="20.4" height="76.8" fill="#46337f"/><rect x="2506.0" y="2717.4" width="20.4" height="76.8" fill="#482677"/><rect x="2506.0" y="2793.8" width="20.4" height="419.6" fill="#440154"/><rect x="2526.0" y="1801.1" width="20.4" height="381.4" fill="#3e4c8a"/><rect x="2526.0" y="2182.1" width="20.4" height="76.0" fill="#404688"/><rect x="2526.0" y="2257.7" width="20.4" height="78.3" fill="#453882"/><rect x="2526.0" y="2335.6" width="20.4" height="76.8" fill="#472a7a"/><rect x="2526.0" y="2412.0" width="20.4" height="76.8" fill="#481c6e"/><rect x="2526.0" y="2488.3" width="20.4" height="76.8" fill="#471063"/><rect x="2526.0" y="2564.7" width="20.4" height="648.7" fill="#440154"/><rect x="2545.9" y="1801.1" width="20.4" height="381.4" fill="#3e4c8a"/><rect x="2545.9" y="2182.1" width="20.4" height="76.0" fill="#3e4989"/><rect x="2545.9" y="2257.7" width="20.4" height="78.3" fill="#404588"/><rect x="2545.9" y="2335.6" width="20.4" height="76.8" fill="#424086"/><rect x="2545.9" y="2412.0" width="20.4" height="76.8" fill="#443b84"/><rect x="2545.9" y="2488.3" width="20.4" height="76.8" fill="#46307e"/><rect x="2545.9" y="2564.7" width="20.4" height="76.8" fill="#482576"/><rect x="2545.9" y="2641.0" width="20.4" height="76.8" fill="#48186a"/><rect x="2545.9" y="2717.4" width="20.4" height="76.8" fill="#471365"/><rect x="2545.9" y="2793.8" width="20.4" height="419.6" fill="#440154"/><rect x="2565.9" y="1801.1" width="20.4" height="457.0" fill="#38588c"/><rect x="2565.9" y="2257.7" width="20.4" height="78.3" fill="#39558c"/><rect x="2565.9" y="2335.6" width="20.4" height="76.8" fill="#3a548c"/><rect x="2565.9" y="2412.0" width="20.4" height="76.8" fill="#3a538b"/><rect x="2565.9" y="2488.3" width="20.4" height="76.8" fill="#424186"/><rect x="2565.9" y="2564.7" width="20.4" height="76.8" fill="#472d7b"/><rect x="2565.9" y="2641.0" width="20.4" height="76.8" fill="#48186a"/><rect x="2565.9" y="2717.4" width="20.4" height="76.8" fill="#471365"/><rect x="2565.9" y="2793.8" width="20.4" height="419.6" fill="#440154"/><rect x="2585.8" y="1801.1" width="20.4" height="457.0" fill="#375b8d"/><rect x="2585.8" y="2257.7" width="20.4" height="78.3" fill="#375a8c"/><rect x="2585.8" y="2335.6" width="20.4" height="76.8" fill="#38598c"/><rect x="2585.8" y="2412.0" width="20.4" height="76.8" fill="#38588c"/><rect x="2585.8" y="2488.3" width="20.4" height="76.8" fill="#3b528b"/><rect x="2585.8" y="2564.7" width="20.4" height="76.8" fill="#3d4e8a"/><rect x="2585.8" y="2641.0" width="20.4" height="76.8" fill="#3e4989"/><rect x="2585.8" y="2717.4" width="20.4" height="76.8" fill="#443983"/><rect x="2585.8" y="2793.8" width="20.4" height="76.8" fill="#482878"/><rect x="2585.8" y="2870.1" width="20.4" height="343.3" fill="#440154"/><rect x="2605.8" y="1801.1" width="20.4" height="457.0" fill="#375b8d"/><rect x="2605.8" y="2257.7" width="20.4" height="78.3" fill="#375a8c"/><rect x="2605.8" y="2335.6" width="20.4" height="76.8" fill="#38598c"/><rect x="2605.8" y="2412.0" width="20.4" height="76.8" fill="#38588c"/><rect x="2605.8" y="2488.3" width="20.4" height="76.8" fill="#3b528b"/><rect x="2605.8" y="2564.7" width="20.4" height="76.8" fill="#3d4e8a"/><rect x="2605.8" y="2641.0" width="20.4" height="76.8" fill="#3e4989"/><rect x="2605.8" y="2717.4" width="20.4" height="76.8" fill="#404688"/><rect x="2605.8" y="2793.8" width="20.4" height="76.8" fill="#424186"/><rect x="2605.8" y="2870.1" width="20.4" height="76.8" fill="#433e85"/><rect x="2605.8" y="2946.5" width="20.4" height="153.1" fill="#443a83"/><rect x="2605.8" y="3099.2" width="20.4" height="114.2" fill="#440154"/><rect x="2625.7" y="1801.1" width="20.4" height="457.0" fill="#355f8d"/><rect x="2625.7" y="2257.7" width="20.4" height="78.3" fill="#355e8d"/><rect x="2625.7" y="2335.6" width="20.4" height="76.8" fill="#365c8d"/><rect x="2625.7" y="2412.0" width="20.4" height="76.8" fill="#375b8d"/><rect x="2625.7" y="2488.3" width="20.4" height="76.8" fill="#38588c"/><rect x="2625.7" y="2564.7" width="20.4" height="76.8" fill="#3a538b"/><rect x="2625.7" y="2641.0" width="20.4" height="76.8" fill="#3c4f8a"/><rect x="2625.7" y="2717.4" width="20.4" height="76.8" fill="#3e4c8a"/><rect x="2625.7" y="2793.8" width="20.4" height="76.8" fill="#3e4989"/><rect x="2625.7" y="2870.1" width="20.4" height="76.8" fill="#404688"/><rect x="2625.7" y="2946.5" width="20.4" height="153.1" fill="#414487"/><rect x="2625.7" y="3099.2" width="20.4" height="114.2" fill="#482475"/><rect x="2645.7" y="1801.1" width="20.4" height="457.0" fill="#38588c"/><rect x="2645.7" y="2257.7" width="20.4" height="78.3" fill="#3a548c"/><rect x="2645.7" y="2335.6" width="20.4" height="76.8" fill="#3b528b"/><rect x="2645.7" y="2412.0" width="20.4" height="76.8" fill="#3c508b"/><rect x="2645.7" y="2488.3" width="20.4" height="76.8" fill="#3e4c8a"/><rect x="2645.7" y="2564.7" width="20.4" height="76.8" fill="#3f4889"/><rect x="2645.7" y="2641.0" width="20.4" height="76.8" fill="#414487"/><rect x="2645.7" y="2717.4" width="20.4" height="76.8" fill="#443b84"/><rect x="2645.7" y="2793.8" width="20.4" height="76.8" fill="#463480"/><rect x="2645.7" y="2870.1" width="20.4" height="76.8" fill="#472d7b"/><rect x="2645.7" y="2946.5" width="20.4" height="153.1" fill="#482475"/><rect x="2645.7" y="3099.2" width="20.4" height="114.2" fill="#471063"/><rect x="2665.7" y="1801.1" width="20.4" height="381.4" fill="#3c508b"/><rect x="2665.7" y="2182.1" width="20.4" height="76.0" fill="#3b518b"/><rect x="2665.7" y="2257.7" width="20.4" height="78.3" fill="#3a548c"/><rect x="2665.7" y="2335.6" width="20.4" height="76.8" fill="#39568c"/><rect x="2665.7" y="2412.0" width="20.4" height="76.8" fill="#38598c"/><rect x="2665.7" y="2488.3" width="20.4" height="76.8" fill="#39568c"/><rect x="2665.7" y="2564.7" width="20.4" height="76.8" fill="#39558c"/><rect x="2665.7" y="2641.0" width="20.4" height="76.8" fill="#3a538b"/><rect x="2665.7" y="2717.4" width="20.4" height="76.8" fill="#3e4c8a"/><rect x="2665.7" y="2793.8" width="20.4" height="76.8" fill="#414487"/><rect x="2665.7" y="2870.1" width="20.4" height="76.8" fill="#443b84"/><rect x="2665.7" y="2946.5" width="20.4" height="153.1" fill="#46337f"/><rect x="2665.7" y="3099.2" width="20.4" height="114.2" fill="#471365"/><rect x="2685.6" y="1801.1" width="20.4" height="534.9" fill="#38588c"/><rect x="2685.6" y="2335.6" width="20.4" height="382.2" fill="#38598c"/><rect x="2685.6" y="2717.4" width="20.4" height="76.8" fill="#3a538b"/><rect x="2685.6" y="2793.8" width="20.4" height="76.8" fill="#3d4d8a"/><rect x="2685.6" y="2870.1" width="20.4" height="76.8" fill="#3f4788"/><rect x="2685.6" y="2946.5" width="20.4" height="153.1" fill="#424086"/><rect x="2685.6" y="3099.2" width="20.4" height="114.2" fill="#471365"/><rect x="2705.6" y="1801.1" width="20.4" height="534.9" fill="#375b8d"/><rect x="2705.6" y="2335.6" width="20.4" height="153.1" fill="#365c8d"/><rect x="2705.6" y="2488.3" width="20.4" height="76.8" fill="#375b8d"/><rect x="2705.6" y="2564.7" width="20.4" height="76.8" fill="#375a8c"/><rect x="2705.6" y="2641.0" width="20.4" height="76.8" fill="#38598c"/><rect x="2705.6" y="2717.4" width="20.4" height="76.8" fill="#3b518b"/><rect x="2705.6" y="2793.8" width="20.4" height="76.8" fill="#3e4a89"/><rect x="2705.6" y="2870.1" width="20.4" height="76.8" fill="#414287"/><rect x="2705.6" y="2946.5" width="20.4" height="153.1" fill="#443a83"/><rect x="2705.6" y="3099.2" width="20.4" height="114.2" fill="#46085c"/><rect x="2725.5" y="1801.1" width="20.4" height="534.9" fill="#375b8d"/><rect x="2725.5" y="2335.6" width="20.4" height="153.1" fill="#365c8d"/><rect x="2725.5" y="2488.3" width="20.4" height="76.8" fill="#375b8d"/><rect x="2725.5" y="2564.7" width="20.4" height="76.8" fill="#375a8c"/><rect x="2725.5" y="2641.0" width="20.4" height="76.8" fill="#38598c"/><rect x="2725.5" y="2717.4" width="20.4" height="76.8" fill="#3a538b"/><rect x="2725.5" y="2793.8" width="20.4" height="76.8" fill="#3d4d8a"/><rect x="2725.5" y="2870.1" width="20.4" height="76.8" fill="#3f4788"/><rect x="2725.5" y="2946.5" width="20.4" height="153.1" fill="#424086"/><rect x="2725.5" y="3099.2" width="20.4" height="114.2" fill="#46085c"/><rect x="2745.5" y="1801.1" width="20.4" height="381.4" fill="#3a548c"/><rect x="2745.5" y="2182.1" width="20.4" height="76.0" fill="#39558c"/><rect x="2745.5" y="2257.7" width="20.4" height="78.3" fill="#38588c"/><rect x="2745.5" y="2335.6" width="20.4" height="76.8" fill="#375a8c"/><rect x="2745.5" y="2412.0" width="20.4" height="76.8" fill="#365d8d"/><rect x="2745.5" y="2488.3" width="20.4" height="76.8" fill="#375b8d"/><rect x="2745.5" y="2564.7" width="20.4" height="76.8" fill="#38588c"/><rect x="2745.5" y="2641.0" width="20.4" height="76.8" fill="#39558c"/><rect x="2745.5" y="2717.4" width="20.4" height="76.8" fill="#3b528b"/><rect x="2745.5" y="2793.8" width="20.4" height="76.8" fill="#3d4e8a"/><rect x="2745.5" y="2870.1" width="20.4" height="76.8" fill="#3e4989"/><rect x="2745.5" y="2946.5" width="20.4" height="153.1" fill="#404588"/><rect x="2745.5" y="3099.2" width="20.4" height="114.2" fill="#440154"/><rect x="2765.4" y="1801.1" width="20.4" height="381.4" fill="#3c508b"/><rect x="2765.4" y="2182.1" width="20.4" height="76.0" fill="#3b518b"/><rect x="2765.4" y="2257.7" width="20.4" height="78.3" fill="#3a548c"/><rect x="2765.4" y="2335.6" width="20.4" height="76.8" fill="#39568c"/><rect x="2765.4" y="2412.0" width="20.4" height="76.8" fill="#38598c"/><rect x="2765.4" y="2488.3" width="20.4" height="76.8" fill="#3a538b"/><rect x="2765.4" y="2564.7" width="20.4" height="76.8" fill="#3d4e8a"/><rect x="2765.4" y="2641.0" width="20.4" height="76.8" fill="#3f4889"/><rect x="2765.4" y="2717.4" width="20.4" height="76.8" fill="#424186"/><rect x="2765.4" y="2793.8" width="20.4" height="76.8" fill="#443a83"/><rect x="2765.4" y="2870.1" width="20.4" height="76.8" fill="#46337f"/><rect x="2765.4" y="2946.5" width="20.4" height="153.1" fill="#472d7b"/><rect x="2765.4" y="3099.2" width="20.4" height="114.2" fill="#440154"/><rect x="2785.4" y="1801.1" width="20.4" height="381.4" fill="#3c4f8a"/><rect x="2785.4" y="2182.1" width="20.4" height="76.0" fill="#3c508b"/><rect x="2785.4" y="2257.7" width="20.4" height="78.3" fill="#3a538b"/><rect x="2785.4" y="2335.6" width="20.4" height="76.8" fill="#39558c"/><rect x="2785.4" y="2412.0" width="20.4" height="76.8" fill="#38598c"/><rect x="2785.4" y="2488.3" width="20.4" height="76.8" fill="#39568c"/><rect x="2785.4" y="2564.7" width="20.4" height="76.8" fill="#39558c"/><rect x="2785.4" y="2641.0" width="20.4" height="76.8" fill="#3a538b"/><rect x="2785.4" y="2717.4" width="20.4" height="76.8" fill="#3e4c8a"/><rect x="2785.4" y="2793.8" width="20.4" height="76.8" fill="#414487"/><rect x="2785.4" y="2870.1" width="20.4" height="76.8" fill="#433d84"/><rect x="2785.4" y="2946.5" width="20.4" height="153.1" fill="#463480"/><rect x="2785.4" y="3099.2" width="20.4" height="114.2" fill="#440154"/><rect x="2805.3" y="1801.1" width="20.4" height="457.0" fill="#39558c"/><rect x="2805.3" y="2257.7" width="20.4" height="154.6" fill="#3a548c"/><rect x="2805.3" y="2412.0" width="20.4" height="305.8" fill="#3a538b"/><rect x="2805.3" y="2717.4" width="20.4" height="76.8" fill="#3d4d8a"/><rect x="2805.3" y="2793.8" width="20.4" height="76.8" fill="#3f4788"/><rect x="2805.3" y="2870.1" width="20.4" height="76.8" fill="#424086"/><rect x="2805.3" y="2946.5" width="20.4" height="153.1" fill="#443a83"/><rect x="2805.3" y="3099.2" width="20.4" height="114.2" fill="#440154"/><rect x="2825.3" y="1801.1" width="20.4" height="457.0" fill="#38598c"/><rect x="2825.3" y="2257.7" width="20.4" height="78.3" fill="#39568c"/><rect x="2825.3" y="2335.6" width="20.4" height="76.8" fill="#3a548c"/><rect x="2825.3" y="2412.0" width="20.4" height="305.8" fill="#3a538b"/><rect x="2825.3" y="2717.4" width="20.4" height="76.8" fill="#3c508b"/><rect x="2825.3" y="2793.8" width="20.4" height="76.8" fill="#3d4e8a"/><rect x="2825.3" y="2870.1" width="20.4" height="76.8" fill="#3e4c8a"/><rect x="2825.3" y="2946.5" width="20.4" height="153.1" fill="#3e4989"/><rect x="2825.3" y="3099.2" width="20.4" height="114.2" fill="#48186a"/><rect x="2845.2" y="1801.1" width="20.4" height="381.4" fill="#38598c"/><rect x="2845.2" y="2182.1" width="20.4" height="76.0" fill="#38588c"/><rect x="2845.2" y="2257.7" width="20.4" height="78.3" fill="#39558c"/><rect x="2845.2" y="2335.6" width="20.4" height="76.8" fill="#3a538b"/><rect x="2845.2" y="2412.0" width="20.4" height="76.8" fill="#3c508b"/><rect x="2845.2" y="2488.3" width="20.4" height="76.8" fill="#3d4d8a"/><rect x="2845.2" y="2564.7" width="20.4" height="76.8" fill="#3f4889"/><rect x="2845.2" y="2641.0" width="20.4" height="153.1" fill="#404588"/><rect x="2845.2" y="2793.8" width="20.4" height="76.8" fill="#414287"/><rect x="2845.2" y="2870.1" width="20.4" height="76.8" fill="#424186"/><rect x="2845.2" y="2946.5" width="20.4" height="153.1" fill="#424086"/><rect x="2845.2" y="3099.2" width="20.4" height="114.2" fill="#414487"/><rect x="2865.2" y="1801.1" width="20.4" height="196.6" fill="#414487"/><rect x="2865.2" y="1997.3" width="20.4" height="63.0" fill="#375b8d"/><rect x="2865.2" y="2059.9" width="20.4" height="61.5" fill="#33638d"/><rect x="2865.2" y="2121.0" width="20.4" height="61.5" fill="#375b8d"/><rect x="2865.2" y="2182.1" width="20.4" height="76.0" fill="#375a8c"/><rect x="2865.2" y="2257.7" width="20.4" height="78.3" fill="#39568c"/><rect x="2865.2" y="2335.6" width="20.4" height="76.8" fill="#3a538b"/><rect x="2865.2" y="2412.0" width="20.4" height="76.8" fill="#3c508b"/><rect x="2865.2" y="2488.3" width="20.4" height="76.8" fill="#3d4d8a"/><rect x="2865.2" y="2564.7" width="20.4" height="76.8" fill="#3f4889"/><rect x="2865.2" y="2641.0" width="20.4" height="76.8" fill="#404588"/><rect x="2865.2" y="2717.4" width="20.4" height="76.8" fill="#414287"/><rect x="2865.2" y="2793.8" width="20.4" height="76.8" fill="#424086"/><rect x="2865.2" y="2870.1" width="20.4" height="76.8" fill="#433d84"/><rect x="2865.2" y="2946.5" width="20.4" height="266.9" fill="#443a83"/><rect x="2885.1" y="1801.1" width="20.4" height="381.4" fill="#375b8d"/><rect x="2885.1" y="2182.1" width="20.4" height="76.0" fill="#38598c"/><rect x="2885.1" y="2257.7" width="20.4" height="78.3" fill="#3a538b"/><rect x="2885.1" y="2335.6" width="20.4" height="76.8" fill="#3d4e8a"/><rect x="2885.1" y="2412.0" width="20.4" height="153.1" fill="#3f4889"/><rect x="2885.1" y="2564.7" width="20.4" height="153.1" fill="#404688"/><rect x="2885.1" y="2717.4" width="20.4" height="382.2" fill="#404588"/><rect x="2885.1" y="3099.2" width="20.4" height="114.2" fill="#472e7c"/><rect x="2905.1" y="1801.1" width="20.4" height="457.0" fill="#3a548c"/><rect x="2905.1" y="2257.7" width="20.4" height="154.6" fill="#39558c"/><rect x="2905.1" y="2412.0" width="20.4" height="305.8" fill="#38588c"/><rect x="2905.1" y="2717.4" width="20.4" height="76.8" fill="#3a538b"/><rect x="2905.1" y="2793.8" width="20.4" height="76.8" fill="#3c4f8a"/><rect x="2905.1" y="2870.1" width="20.4" height="76.8" fill="#3e4c8a"/><rect x="2905.1" y="2946.5" width="20.4" height="153.1" fill="#3f4889"/><rect x="2905.1" y="3099.2" width="20.4" height="114.2" fill="#482878"/><rect x="2925.0" y="1801.1" width="20.4" height="457.0" fill="#3a548c"/><rect x="2925.0" y="2257.7" width="20.4" height="154.6" fill="#39558c"/><rect x="2925.0" y="2412.0" width="20.4" height="305.8" fill="#38588c"/><rect x="2925.0" y="2717.4" width="20.4" height="76.8" fill="#3d4e8a"/><rect x="2925.0" y="2793.8" width="20.4" height="76.8" fill="#414487"/><rect x="2925.0" y="2870.1" width="20.4" height="76.8" fill="#443983"/><rect x="2925.0" y="2946.5" width="20.4" height="153.1" fill="#472e7c"/><rect x="2925.0" y="3099.2" width="20.4" height="114.2" fill="#482878"/><rect x="2945.0" y="1801.1" width="20.4" height="457.0" fill="#38588c"/><rect x="2945.0" y="2257.7" width="20.4" height="154.6" fill="#39568c"/><rect x="2945.0" y="2412.0" width="20.4" height="76.8" fill="#3a548c"/><rect x="2945.0" y="2488.3" width="20.4" height="76.8" fill="#3b518b"/><rect x="2945.0" y="2564.7" width="20.4" height="76.8" fill="#3d4d8a"/><rect x="2945.0" y="2641.0" width="20.4" height="76.8" fill="#3e4989"/><rect x="2945.0" y="2717.4" width="20.4" height="76.8" fill="#414287"/><rect x="2945.0" y="2793.8" width="20.4" height="76.8" fill="#443b84"/><rect x="2945.0" y="2870.1" width="20.4" height="76.8" fill="#463480"/><rect x="2945.0" y="2946.5" width="20.4" height="153.1" fill="#472e7c"/><rect x="2945.0" y="3099.2" width="20.4" height="114.2" fill="#481f70"/><rect x="2964.9" y="1801.1" width="20.4" height="457.0" fill="#365d8d"/><rect x="2964.9" y="2257.7" width="20.4" height="78.3" fill="#375b8d"/><rect x="2964.9" y="2335.6" width="20.4" height="76.8" fill="#375a8c"/><rect x="2964.9" y="2412.0" width="20.4" height="76.8" fill="#38598c"/><rect x="2964.9" y="2488.3" width="20.4" height="76.8" fill="#39558c"/><rect x="2964.9" y="2564.7" width="20.4" height="76.8" fill="#3b528b"/><rect x="2964.9" y="2641.0" width="20.4" height="76.8" fill="#3c4f8a"/><rect x="2964.9" y="2717.4" width="20.4" height="76.8" fill="#3e4a89"/><rect x="2964.9" y="2793.8" width="20.4" height="76.8" fill="#404588"/><rect x="2964.9" y="2870.1" width="20.4" height="76.8" fill="#424086"/><rect x="2964.9" y="2946.5" width="20.4" height="153.1" fill="#443b84"/><rect x="2964.9" y="3099.2" width="20.4" height="114.2" fill="#472e7c"/><rect x="2984.9" y="1801.1" width="20.4" height="534.9" fill="#375b8d"/><rect x="2984.9" y="2335.6" width="20.4" height="153.1" fill="#375a8c"/><rect x="2984.9" y="2488.3" width="20.4" height="229.5" fill="#38588c"/><rect x="2984.9" y="2717.4" width="20.4" height="153.1" fill="#39568c"/><rect x="2984.9" y="2870.1" width="20.4" height="343.3" fill="#39558c"/><rect x="3004.8" y="1801.1" width="20.4" height="534.9" fill="#375b8d"/><rect x="3004.8" y="2335.6" width="20.4" height="153.1" fill="#375a8c"/><rect x="3004.8" y="2488.3" width="20.4" height="229.5" fill="#38588c"/><rect x="3004.8" y="2717.4" width="20.4" height="153.1" fill="#39568c"/><rect x="3004.8" y="2870.1" width="20.4" height="343.3" fill="#39558c"/><rect x="3024.8" y="1801.1" width="20.4" height="457.0" fill="#355f8d"/><rect x="3024.8" y="2257.7" width="20.4" height="154.6" fill="#355e8d"/><rect x="3024.8" y="2412.0" width="20.4" height="76.8" fill="#365d8d"/><rect x="3024.8" y="2488.3" width="20.4" height="76.8" fill="#375b8d"/><rect x="3024.8" y="2564.7" width="20.4" height="76.8" fill="#375a8c"/><rect x="3024.8" y="2641.0" width="20.4" height="572.3" fill="#38598c"/><rect x="3044.7" y="1801.1" width="20.4" height="457.0" fill="#355f8d"/><rect x="3044.7" y="2257.7" width="20.4" height="154.6" fill="#355e8d"/><rect x="3044.7" y="2412.0" width="20.4" height="76.8" fill="#365d8d"/><rect x="3044.7" y="2488.3" width="20.4" height="76.8" fill="#375b8d"/><rect x="3044.7" y="2564.7" width="20.4" height="76.8" fill="#375a8c"/><rect x="3044.7" y="2641.0" width="20.4" height="572.3" fill="#38598c"/><rect x="3064.7" y="1801.1" width="20.4" height="457.0" fill="#355f8d"/><rect x="3064.7" y="2257.7" width="20.4" height="154.6" fill="#34608d"/><rect x="3064.7" y="2412.0" width="20.4" height="76.8" fill="#33628d"/><rect x="3064.7" y="2488.3" width="20.4" height="76.8" fill="#34608d"/><rect x="3064.7" y="2564.7" width="20.4" height="76.8" fill="#355f8d"/><rect x="3064.7" y="2641.0" width="20.4" height="153.1" fill="#365d8d"/><rect x="3064.7" y="2793.8" width="20.4" height="153.1" fill="#355e8d"/><rect x="3064.7" y="2946.5" width="20.4" height="153.1" fill="#355f8d"/><rect x="3064.7" y="3099.2" width="20.4" height="114.2" fill="#355e8d"/><rect x="3084.6" y="1801.1" width="20.4" height="840.4" fill="#31668e"/><rect x="3084.6" y="2641.0" width="20.4" height="76.8" fill="#32648e"/><rect x="3084.6" y="2717.4" width="20.4" height="76.8" fill="#33638d"/><rect x="3084.6" y="2793.8" width="20.4" height="76.8" fill="#33628d"/><rect x="3084.6" y="2870.1" width="20.4" height="76.8" fill="#34618d"/><rect x="3084.6" y="2946.5" width="20.4" height="153.1" fill="#355f8d"/><rect x="3084.6" y="3099.2" width="20.4" height="114.2" fill="#355e8d"/><rect x="3104.6" y="1801.1" width="20.4" height="840.4" fill="#31668e"/><rect x="3104.6" y="2641.0" width="20.4" height="76.8" fill="#32648e"/><rect x="3104.6" y="2717.4" width="20.4" height="76.8" fill="#33638d"/><rect x="3104.6" y="2793.8" width="20.4" height="76.8" fill="#33628d"/><rect x="3104.6" y="2870.1" width="20.4" height="76.8" fill="#34618d"/><rect x="3104.6" y="2946.5" width="20.4" height="153.1" fill="#355f8d"/><rect x="3104.6" y="3099.2" width="20.4" height="114.2" fill="#355e8d"/><rect x="3124.5" y="1801.1" width="20.4" height="840.4" fill="#31668e"/><rect x="3124.5" y="2641.0" width="20.4" height="76.8" fill="#32648e"/><rect x="3124.5" y="2717.4" width="20.4" height="76.8" fill="#33638d"/><rect x="3124.5" y="2793.8" width="20.4" height="76.8" fill="#33628d"/><rect x="3124.5" y="2870.1" width="20.4" height="76.8" fill="#34618d"/><rect x="3124.5" y="2946.5" width="20.4" height="153.1" fill="#355f8d"/><rect x="3124.5" y="3099.2" width="20.4" height="114.2" fill="#33628d"/><rect x="3144.5" y="1801.1" width="20.4" height="457.0" fill="#33638d"/><rect x="3144.5" y="2257.7" width="20.4" height="154.6" fill="#32648e"/><rect x="3144.5" y="2412.0" width="20.4" height="229.5" fill="#31668e"/><rect x="3144.5" y="2641.0" width="20.4" height="76.8" fill="#32648e"/><rect x="3144.5" y="2717.4" width="20.4" height="76.8" fill="#33638d"/><rect x="3144.5" y="2793.8" width="20.4" height="76.8" fill="#33628d"/><rect x="3144.5" y="2870.1" width="20.4" height="76.8" fill="#34618d"/><rect x="3144.5" y="2946.5" width="20.4" height="153.1" fill="#355f8d"/><rect x="3144.5" y="3099.2" width="20.4" height="114.2" fill="#33628d"/><rect x="3164.4" y="1801.1" width="20.4" height="457.0" fill="#33638d"/><rect x="3164.4" y="2257.7" width="20.4" height="154.6" fill="#32648e"/><rect x="3164.4" y="2412.0" width="20.4" height="229.5" fill="#31668e"/><rect x="3164.4" y="2641.0" width="20.4" height="76.8" fill="#32648e"/><rect x="3164.4" y="2717.4" width="20.4" height="76.8" fill="#33638d"/><rect x="3164.4" y="2793.8" width="20.4" height="76.8" fill="#33628d"/><rect x="3164.4" y="2870.1" width="20.4" height="76.8" fill="#34618d"/><rect x="3164.4" y="2946.5" width="20.4" height="153.1" fill="#355f8d"/><rect x="3164.4" y="3099.2" width="20.4" height="114.2" fill="#33628d"/><rect x="3184.4" y="1801.1" width="20.4" height="534.9" fill="#33638d"/><rect x="3184.4" y="2335.6" width="20.4" height="229.5" fill="#33628d"/><rect x="3184.4" y="2564.7" width="20.4" height="153.1" fill="#32648e"/><rect x="3184.4" y="2717.4" width="20.4" height="76.8" fill="#34618d"/><rect x="3184.4" y="2793.8" width="20.4" height="76.8" fill="#365d8d"/><rect x="3184.4" y="2870.1" width="20.4" height="76.8" fill="#38598c"/><rect x="3184.4" y="2946.5" width="20.4" height="153.1" fill="#3a548c"/><rect x="3184.4" y="3099.2" width="20.4" height="114.2" fill="#38588c"/><rect x="3204.3" y="1801.1" width="20.4" height="534.9" fill="#33638d"/><rect x="3204.3" y="2335.6" width="20.4" height="153.1" fill="#33628d"/><rect x="3204.3" y="2488.3" width="20.4" height="76.8" fill="#355f8d"/><rect x="3204.3" y="2564.7" width="20.4" height="76.8" fill="#375b8d"/><rect x="3204.3" y="2641.0" width="20.4" height="76.8" fill="#38588c"/><rect x="3204.3" y="2717.4" width="20.4" height="76.8" fill="#3a548c"/><rect x="3204.3" y="2793.8" width="20.4" height="76.8" fill="#3b528b"/><rect x="3204.3" y="2870.1" width="20.4" height="76.8" fill="#3c508b"/><rect x="3204.3" y="2946.5" width="20.4" height="153.1" fill="#3d4e8a"/><rect x="3204.3" y="3099.2" width="20.4" height="114.2" fill="#38588c"/><rect x="3224.3" y="1801.1" width="20.4" height="534.9" fill="#33638d"/><rect x="3224.3" y="2335.6" width="20.4" height="153.1" fill="#33628d"/><rect x="3224.3" y="2488.3" width="20.4" height="76.8" fill="#355f8d"/><rect x="3224.3" y="2564.7" width="20.4" height="76.8" fill="#375b8d"/><rect x="3224.3" y="2641.0" width="20.4" height="76.8" fill="#38588c"/><rect x="3224.3" y="2717.4" width="20.4" height="76.8" fill="#3a548c"/><rect x="3224.3" y="2793.8" width="20.4" height="76.8" fill="#3b528b"/><rect x="3224.3" y="2870.1" width="20.4" height="76.8" fill="#3c508b"/><rect x="3224.3" y="2946.5" width="20.4" height="153.1" fill="#3d4e8a"/><rect x="3224.3" y="3099.2" width="20.4" height="114.2" fill="#3e4a89"/><rect x="3244.2" y="1801.1" width="20.4" height="534.9" fill="#34618d"/><rect x="3244.2" y="2335.6" width="20.4" height="153.1" fill="#34608d"/><rect x="3244.2" y="2488.3" width="20.4" height="76.8" fill="#355f8d"/><rect x="3244.2" y="2564.7" width="20.4" height="153.1" fill="#355e8d"/><rect x="3244.2" y="2717.4" width="20.4" height="76.8" fill="#365c8d"/><rect x="3244.2" y="2793.8" width="20.4" height="153.1" fill="#375b8d"/><rect x="3244.2" y="2946.5" width="20.4" height="153.1" fill="#38598c"/><rect x="3244.2" y="3099.2" width="20.4" height="114.2" fill="#3e4a89"/><rect x="3264.2" y="1801.1" width="20.4" height="534.9" fill="#34618d"/><rect x="3264.2" y="2335.6" width="20.4" height="153.1" fill="#34608d"/><rect x="3264.2" y="2488.3" width="20.4" height="76.8" fill="#355f8d"/><rect x="3264.2" y="2564.7" width="20.4" height="153.1" fill="#355e8d"/><rect x="3264.2" y="2717.4" width="20.4" height="76.8" fill="#365c8d"/><rect x="3264.2" y="2793.8" width="20.4" height="153.1" fill="#375b8d"/><rect x="3264.2" y="2946.5" width="20.4" height="153.1" fill="#38598c"/><rect x="3264.2" y="3099.2" width="20.4" height="114.2" fill="#365d8d"/><rect x="3284.2" y="1801.1" width="20.4" height="687.6" fill="#355f8d"/><rect x="3284.2" y="2488.3" width="20.4" height="76.8" fill="#355e8d"/><rect x="3284.2" y="2564.7" width="20.4" height="76.8" fill="#365d8d"/><rect x="3284.2" y="2641.0" width="20.4" height="153.1" fill="#375b8d"/><rect x="3284.2" y="2793.8" width="20.4" height="153.1" fill="#375a8c"/><rect x="3284.2" y="2946.5" width="20.4" height="153.1" fill="#38598c"/><rect x="3284.2" y="3099.2" width="20.4" height="114.2" fill="#365d8d"/><rect x="3304.1" y="1801.1" width="20.4" height="687.6" fill="#355f8d"/><rect x="3304.1" y="2488.3" width="20.4" height="76.8" fill="#355e8d"/><rect x="3304.1" y="2564.7" width="20.4" height="76.8" fill="#365d8d"/><rect x="3304.1" y="2641.0" width="20.4" height="76.8" fill="#375b8d"/><rect x="3304.1" y="2717.4" width="20.4" height="76.8" fill="#365d8d"/><rect x="3304.1" y="2793.8" width="20.4" height="76.8" fill="#355f8d"/><rect x="3304.1" y="2870.1" width="20.4" height="76.8" fill="#34608d"/><rect x="3304.1" y="2946.5" width="20.4" height="153.1" fill="#33628d"/><rect x="3304.1" y="3099.2" width="20.4" height="114.2" fill="#355f8d"/><rect x="3324.1" y="1801.1" width="20.4" height="993.1" fill="#32648e"/><rect x="3324.1" y="2793.8" width="20.4" height="153.1" fill="#33638d"/><rect x="3324.1" y="2946.5" width="20.4" height="153.1" fill="#33628d"/><rect x="3324.1" y="3099.2" width="20.4" height="114.2" fill="#355f8d"/><rect x="3344.0" y="1801.1" width="20.4" height="993.1" fill="#32648e"/><rect x="3344.0" y="2793.8" width="20.4" height="153.1" fill="#33638d"/><rect x="3344.0" y="2946.5" width="20.4" height="153.1" fill="#33628d"/><rect x="3344.0" y="3099.2" width="20.4" height="114.2" fill="#355f8d"/><rect x="3364.0" y="1801.1" width="20.4" height="993.1" fill="#32648e"/><rect x="3364.0" y="2793.8" width="20.4" height="153.1" fill="#33638d"/><rect x="3364.0" y="2946.5" width="20.4" height="153.1" fill="#33628d"/><rect x="3364.0" y="3099.2" width="20.4" height="114.2" fill="#355f8d"/><rect x="3383.9" y="1801.1" width="20.4" height="916.7" fill="#2b758e"/><rect x="3383.9" y="2717.4" width="20.4" height="76.8" fill="#2b748e"/><rect x="3383.9" y="2793.8" width="20.4" height="76.8" fill="#2c738e"/><rect x="3383.9" y="2870.1" width="20.4" height="76.8" fill="#2c728e"/><rect x="3383.9" y="2946.5" width="20.4" height="153.1" fill="#2d718e"/><rect x="3383.9" y="3099.2" width="20.4" height="114.2" fill="#31678e"/><rect x="3403.9" y="1801.1" width="20.4" height="916.7" fill="#2b758e"/><rect x="3403.9" y="2717.4" width="20.4" height="76.8" fill="#2b748e"/><rect x="3403.9" y="2793.8" width="20.4" height="76.8" fill="#2c738e"/><rect x="3403.9" y="2870.1" width="20.4" height="76.8" fill="#2c728e"/><rect x="3403.9" y="2946.5" width="20.4" height="153.1" fill="#2d718e"/><rect x="3403.9" y="3099.2" width="20.4" height="114.2" fill="#31678e"/><rect x="3423.8" y="1801.1" width="20.4" height="916.7" fill="#2b758e"/><rect x="3423.8" y="2717.4" width="20.4" height="76.8" fill="#2b748e"/><rect x="3423.8" y="2793.8" width="20.4" height="76.8" fill="#2c738e"/><rect x="3423.8" y="2870.1" width="20.4" height="76.8" fill="#2c728e"/><rect x="3423.8" y="2946.5" width="20.4" height="153.1" fill="#2d718e"/><rect x="3423.8" y="3099.2" width="20.4" height="114.2" fill="#31678e"/><rect x="3443.8" y="1801.1" width="20.4" height="916.7" fill="#2b758e"/><rect x="3443.8" y="2717.4" width="20.4" height="76.8" fill="#2b748e"/><rect x="3443.8" y="2793.8" width="20.4" height="76.8" fill="#2c728e"/><rect x="3443.8" y="2870.1" width="20.4" height="76.8" fill="#2d708e"/><rect x="3443.8" y="2946.5" width="20.4" height="153.1" fill="#2e6f8e"/><rect x="3443.8" y="3099.2" width="20.4" height="114.2" fill="#31678e"/><rect x="3463.7" y="1801.1" width="20.4" height="687.6" fill="#2d718e"/><rect x="3463.7" y="2488.3" width="20.4" height="76.8" fill="#2e6f8e"/><rect x="3463.7" y="2564.7" width="20.4" height="76.8" fill="#2e6e8e"/><rect x="3463.7" y="2641.0" width="20.4" height="153.1" fill="#2f6c8e"/><rect x="3463.7" y="2793.8" width="20.4" height="153.1" fill="#2e6d8e"/><rect x="3463.7" y="2946.5" width="20.4" height="153.1" fill="#2e6f8e"/><rect x="3463.7" y="3099.2" width="20.4" height="114.2" fill="#33628d"/><rect x="3483.7" y="1801.1" width="20.4" height="687.6" fill="#2d718e"/><rect x="3483.7" y="2488.3" width="20.4" height="76.8" fill="#2e6f8e"/><rect x="3483.7" y="2564.7" width="20.4" height="76.8" fill="#2e6e8e"/><rect x="3483.7" y="2641.0" width="20.4" height="76.8" fill="#2f6c8e"/><rect x="3483.7" y="2717.4" width="20.4" height="76.8" fill="#2f6b8e"/><rect x="3483.7" y="2793.8" width="20.4" height="76.8" fill="#306a8e"/><rect x="3483.7" y="2870.1" width="20.4" height="76.8" fill="#31688e"/><rect x="3483.7" y="2946.5" width="20.4" height="153.1" fill="#31678e"/><rect x="3483.7" y="3099.2" width="20.4" height="114.2" fill="#33628d"/><rect x="3503.6" y="1801.1" width="20.4" height="687.6" fill="#2d718e"/><rect x="3503.6" y="2488.3" width="20.4" height="76.8" fill="#2e6e8e"/><rect x="3503.6" y="2564.7" width="20.4" height="76.8" fill="#306a8e"/><rect x="3503.6" y="2641.0" width="20.4" height="458.6" fill="#31678e"/><rect x="3503.6" y="3099.2" width="20.4" height="114.2" fill="#33628d"/><rect x="3523.6" y="1801.1" width="20.4" height="687.6" fill="#2d718e"/><rect x="3523.6" y="2488.3" width="20.4" height="76.8" fill="#2e6e8e"/><rect x="3523.6" y="2564.7" width="20.4" height="76.8" fill="#306a8e"/><rect x="3523.6" y="2641.0" width="20.4" height="458.6" fill="#31678e"/><rect x="3523.6" y="3099.2" width="20.4" height="114.2" fill="#32648e"/><rect x="3543.5" y="1801.1" width="20.4" height="687.6" fill="#2d718e"/><rect x="3543.5" y="2488.3" width="20.4" height="76.8" fill="#2e6e8e"/><rect x="3543.5" y="2564.7" width="20.4" height="76.8" fill="#306a8e"/><rect x="3543.5" y="2641.0" width="20.4" height="458.6" fill="#31678e"/><rect x="3543.5" y="3099.2" width="20.4" height="114.2" fill="#32648e"/><rect x="3563.5" y="1801.1" width="20.4" height="687.6" fill="#2a778e"/><rect x="3563.5" y="2488.3" width="20.4" height="76.8" fill="#2b748e"/><rect x="3563.5" y="2564.7" width="20.4" height="76.8" fill="#2c718e"/><rect x="3563.5" y="2641.0" width="20.4" height="76.8" fill="#2e6f8e"/><rect x="3563.5" y="2717.4" width="20.4" height="76.8" fill="#2e6d8e"/><rect x="3563.5" y="2793.8" width="20.4" height="76.8" fill="#2f6c8e"/><rect x="3563.5" y="2870.1" width="20.4" height="76.8" fill="#2f6b8e"/><rect x="3563.5" y="2946.5" width="20.4" height="153.1" fill="#306a8e"/><rect x="3563.5" y="3099.2" width="20.4" height="114.2" fill="#32648e"/><rect x="3583.4" y="1801.1" width="20.4" height="687.6" fill="#2a778e"/><rect x="3583.4" y="2488.3" width="20.4" height="76.8" fill="#2b748e"/><rect x="3583.4" y="2564.7" width="20.4" height="76.8" fill="#2c718e"/><rect x="3583.4" y="2641.0" width="20.4" height="76.8" fill="#2e6f8e"/><rect x="3583.4" y="2717.4" width="20.4" height="76.8" fill="#2e6d8e"/><rect x="3583.4" y="2793.8" width="20.4" height="76.8" fill="#2f6c8e"/><rect x="3583.4" y="2870.1" width="20.4" height="76.8" fill="#2f6b8e"/><rect x="3583.4" y="2946.5" width="20.4" height="153.1" fill="#306a8e"/><rect x="3583.4" y="3099.2" width="20.4" height="114.2" fill="#32648e"/><rect x="3603.4" y="1801.1" width="20.4" height="840.4" fill="#2a778e"/><rect x="3603.4" y="2641.0" width="20.4" height="76.8" fill="#2b758e"/><rect x="3603.4" y="2717.4" width="20.4" height="76.8" fill="#2c728e"/><rect x="3603.4" y="2793.8" width="20.4" height="76.8" fill="#2d708e"/><rect x="3603.4" y="2870.1" width="20.4" height="76.8" fill="#2e6d8e"/><rect x="3603.4" y="2946.5" width="20.4" height="153.1" fill="#306a8e"/><rect x="3603.4" y="3099.2" width="20.4" height="114.2" fill="#32648e"/><rect x="3623.3" y="1801.1" width="20.4" height="840.4" fill="#2a778e"/><rect x="3623.3" y="2641.0" width="20.4" height="458.6" fill="#2b758e"/><rect x="3623.3" y="3099.2" width="20.4" height="114.2" fill="#32648e"/><rect x="3643.3" y="1801.1" width="20.4" height="840.4" fill="#287c8e"/><rect x="3643.3" y="2641.0" width="20.4" height="76.8" fill="#297a8e"/><rect x="3643.3" y="2717.4" width="20.4" height="76.8" fill="#29798e"/><rect x="3643.3" y="2793.8" width="20.4" height="76.8" fill="#2a788e"/><rect x="3643.3" y="2870.1" width="20.4" height="76.8" fill="#2a778e"/><rect x="3643.3" y="2946.5" width="20.4" height="266.9" fill="#2b758e"/><rect x="3663.2" y="1801.1" width="20.4" height="840.4" fill="#287c8e"/><rect x="3663.2" y="2641.0" width="20.4" height="76.8" fill="#297a8e"/><rect x="3663.2" y="2717.4" width="20.4" height="76.8" fill="#29798e"/><rect x="3663.2" y="2793.8" width="20.4" height="76.8" fill="#2a788e"/><rect x="3663.2" y="2870.1" width="20.4" height="76.8" fill="#2a778e"/><rect x="3663.2" y="2946.5" width="20.4" height="266.9" fill="#2b758e"/><rect x="3683.2" y="1801.1" width="20.4" height="840.4" fill="#287c8e"/><rect x="3683.2" y="2641.0" width="20.4" height="76.8" fill="#297a8e"/><rect x="3683.2" y="2717.4" width="20.4" height="76.8" fill="#29798e"/><rect x="3683.2" y="2793.8" width="20.4" height="76.8" fill="#2a788e"/><rect x="3683.2" y="2870.1" width="20.4" height="76.8" fill="#2a778e"/><rect x="3683.2" y="2946.5" width="20.4" height="266.9" fill="#2b758e"/><rect x="3703.1" y="1801.1" width="20.4" height="840.4" fill="#287c8e"/><rect x="3703.1" y="2641.0" width="20.4" height="76.8" fill="#297a8e"/><rect x="3703.1" y="2717.4" width="20.4" height="76.8" fill="#29798e"/><rect x="3703.1" y="2793.8" width="20.4" height="76.8" fill="#2a788e"/><rect x="3703.1" y="2870.1" width="20.4" height="76.8" fill="#2a778e"/><rect x="3703.1" y="2946.5" width="20.4" height="266.9" fill="#2b758e"/><rect x="3723.1" y="1801.1" width="20.4" height="764.0" fill="#287d8e"/><rect x="3723.1" y="2564.7" width="20.4" height="153.1" fill="#297b8e"/><rect x="3723.1" y="2717.4" width="20.4" height="76.8" fill="#29798e"/><rect x="3723.1" y="2793.8" width="20.4" height="76.8" fill="#2a788e"/><rect x="3723.1" y="2870.1" width="20.4" height="76.8" fill="#2a778e"/><rect x="3723.1" y="2946.5" width="20.4" height="266.9" fill="#2b758e"/><rect x="3743.0" y="1801.1" width="20.4" height="764.0" fill="#287d8e"/><rect x="3743.0" y="2564.7" width="20.4" height="648.7" fill="#297b8e"/><rect x="3763.0" y="1801.1" width="20.4" height="764.0" fill="#287d8e"/><rect x="3763.0" y="2564.7" width="20.4" height="648.7" fill="#297b8e"/><rect x="3782.9" y="1801.1" width="20.4" height="764.0" fill="#287d8e"/><rect x="3782.9" y="2564.7" width="20.4" height="648.7" fill="#297b8e"/><rect x="3802.9" y="1801.1" width="20.4" height="764.0" fill="#287d8e"/><rect x="3802.9" y="2564.7" width="20.4" height="648.7" fill="#297b8e"/>
</g></g>
<path d="M251.5 1964.6 L256.5 1965.8 L261.5 1962.4 L266.5 1958.7 L271.5 1956.9 L276.4 1951.5 L281.4 1946.1 L286.4 1941.1 L291.4 1929.5 L296.4 1925.6 L301.4 1924.5 L306.4 1921.8 L311.4 1920.3 L316.3 1922.7 L321.3 1925.0 L326.3 1932.7 L331.3 1937.2 L336.3 1943.8 L341.3 1949.2 L346.3 1957.2 L351.3 1957.6 L356.2 1964.6 L361.2 1969.2 L366.2 1968.7 L371.2 1972.8 L376.2 1972.3 L381.2 1966.7 L386.2 1965.3 L391.2 1955.0 L396.1 1951.8 L401.1 1946.3 L406.1 1936.7 L411.1 1934.5 L416.1 1926.4 L421.1 1926.4 L426.1 1921.3 L431.1 1921.3 L436.1 1918.0 L441.0 1919.1 L446.0 1925.0 L451.0 1928.7 L456.0 1935.9 L461.0 1940.8 L466.0 1949.1 L471.0 1956.4 L476.0 1962.0 L480.9 1963.7 L485.9 1965.6 L490.9 1972.4 L495.9 1973.0 L500.9 1967.0 L505.9 1966.4 L510.9 1962.0 L515.9 1955.0 L520.8 1948.9 L525.8 1943.4 L530.8 1939.7 L535.8 1932.4 L540.8 1929.9 L545.8 1925.3 L550.8 1926.9 L555.8 1930.0 L560.8 1928.7 L565.7 1927.9 L570.7 1934.2 L575.7 1938.8 L580.7 1943.5 L585.7 1948.4 L590.7 1952.6 L595.7 1958.9 L600.7 1960.2 L605.6 1967.8 L610.6 1969.9 L615.6 1968.4 L620.6 1968.6 L625.6 1970.7 L630.6 1964.5 L635.6 1957.4 L640.6 1952.2 L645.5 1947.8 L650.5 1938.3 L655.5 1932.5 L660.5 1928.3 L665.5 1927.1 L670.5 1924.7 L675.5 1924.4 L680.5 1923.7 L685.4 1922.1 L690.4 1923.6 L695.4 1927.2 L700.4 1929.8 L705.4 1933.0 L710.4 1937.9 L715.4 1941.6 L720.4 1946.3 L725.4 1948.8 L730.3 1947.3 L735.3 1950.3 L740.3 1952.7 L745.3 1952.6 L750.3 1949.5 L755.3 1942.5 L760.3 1937.6 L765.3 1935.0 L770.2 1927.0 L775.2 1924.9 L780.2 1918.6 L785.2 1918.0 L790.2 1914.5 L795.2 1918.5 L800.2 1919.7 L805.2 1920.4 L810.1 1920.4 L815.1 1922.1 L820.1 1925.8 L825.1 1925.0 L830.1 1927.9 L835.1 1932.2 L840.1 1936.4 L845.1 1936.0 L850.0 1942.4 L855.0 1946.0 L860.0 1947.2 L865.0 1949.3 L870.0 1947.4 L875.0 1942.6 L880.0 1939.6 L885.0 1935.9 L890.0 1931.3 L894.9 1929.5 L899.9 1928.4 L904.9 1926.2 L909.9 1926.2 L914.9 1926.2 L919.9 1929.8 L924.9 1932.1 L929.9 1930.0 L934.8 1933.0 L939.8 1934.8 L944.8 1932.3 L949.8 1935.7 L954.8 1935.9 L959.8 1939.6 L964.8 1942.7 L969.8 1945.4 L974.7 1946.6 L979.7 1947.8 L984.7 1948.8 L989.7 1946.6 L994.7 1946.6 L999.7 1941.6 L1004.7 1940.8 L1009.7 1935.1 L1014.7 1932.4 L1019.6 1932.3 L1024.6 1932.5 L1029.6 1938.8 L1034.6 1937.0 L1039.6 1938.4 L1044.6 1940.4 L1049.6 1943.8 L1054.6 1941.9 L1059.5 1939.9 L1064.5 1945.2 L1069.5 1942.7 L1074.5 1943.4 L1079.5 1948.3 L1084.5 1947.9 L1089.5 1951.3 L1094.5 1951.6 L1099.4 1952.0 L1104.4 1949.9 L1109.4 1947.8 L1114.4 1943.4 L1119.4 1943.3 L1124.4 1938.6 L1129.4 1934.2 L1134.4 1933.9 L1139.3 1937.0 L1144.3 1934.4 L1149.3 1937.3 L1154.3 1939.0 L1159.3 1942.4 L1164.3 1943.6 L1169.3 1947.8 L1174.3 1952.8 L1179.3 1952.9 L1184.2 1950.0 L1189.2 1951.7 L1194.2 1949.7 L1199.2 1951.2 L1204.2 1953.0 L1209.2 1950.4 L1214.2 1953.4 L1219.2 1955.4 L1224.1 1948.2 L1229.1 1950.7 L1234.1 1943.6 L1239.1 1939.7 L1244.1 1937.6 L1249.1 1938.0 L1254.1 1933.2 L1259.1 1938.5 L1264.0 1940.7 L1269.0 1942.2 L1274.0 1944.1 L1279.0 1948.1 L1284.0 1949.7 L1289.0 1953.9 L1294.0 1955.1 L1299.0 1957.1 L1304.0 1955.8 L1308.9 1954.4 L1313.9 1955.8 L1318.9 1954.6 L1323.9 1956.2 L1328.9 1956.1 L1333.9 1954.7 L1338.9 1954.3 L1343.9 1952.0 L1348.8 1947.7 L1353.8 1940.6 L1358.8 1939.7 L1363.8 1936.2 L1368.8 1935.0 L1373.8 1932.7 L1378.8 1932.8 L1383.8 1937.0 L1388.7 1938.8 L1393.7 1942.3 L1398.7 1948.3 L1403.7 1952.4 L1408.7 1953.5 L1413.7 1957.3 L1418.7 1957.5 L1423.7 1956.1 L1428.6 1955.6 L1433.6 1957.2 L1438.6 1956.8 L1443.6 1954.8 L1448.6 1954.6 L1453.6 1956.2 L1458.6 1949.9 L1463.6 1949.8 L1468.6 1944.5 L1473.5 1942.0 L1478.5 1933.4 L1483.5 1931.0 L1488.5 1925.4 L1493.5 1925.4 L1498.5 1924.4 L1503.5 1926.7 L1508.5 1930.8 L1513.4 1936.6 L1518.4 1941.1 L1523.4 1942.0 L1528.4 1946.6 L1533.4 1951.1 L1538.4 1952.3 L1543.4 1951.0 L1548.4 1949.0 L1553.3 1948.2 L1558.3 1950.8 L1563.3 1946.4 L1568.3 1943.9 L1573.3 1945.1 L1578.3 1944.8 L1583.3 1941.9 L1588.3 1939.1 L1593.2 1930.7 L1598.2 1925.9 L1603.2 1918.2 L1608.2 1914.9 L1613.2 1915.2 L1618.2 1914.6 L1623.2 1916.9 L1628.2 1923.4 L1633.2 1932.1 L1638.1 1943.4 L1643.1 1944.8 L1648.1 1952.6 L1653.1 1960.3 L1658.1 1964.7 L1663.1 1964.8 L1668.1 1964.9 L1673.1 1966.4 L1678.0 1964.1 L1683.0 1964.4 L1688.0 1962.9 L1693.0 1958.4 L1698.0 1958.0 L1703.0 1957.4 L1708.0 1951.2 L1713.0 1947.7 L1717.9 1940.7 L1722.9 1932.0 L1727.9 1925.0 L1732.9 1925.2 L1737.9 1923.2 L1742.9 1928.3 L1747.9 1929.2 L1752.9 1936.4 L1757.9 1947.2 L1762.8 1950.2 L1767.8 1954.2 L1772.8 1959.9 L1777.8 1963.9 L1782.8 1965.1 L1787.8 1970.9 L1792.8 1970.9 L1797.8 1968.2 L1802.7 1967.2 L1807.7 1961.7 L1812.7 1961.5 L1817.7 1961.2 L1822.7 1957.8 L1827.7 1947.2 L1832.7 1946.1 L1837.7 1940.4 L1842.6 1932.1 L1847.6 1925.5 L1852.6 1922.9 L1857.6 1923.7 L1862.6 1923.5 L1867.6 1920.6 L1872.6 1928.5 L1877.6 1939.2 L1882.5 1940.7 L1887.5 1946.4 L1892.5 1952.9 L1897.5 1957.8 L1902.5 1961.5 L1907.5 1967.4 L1912.5 1971.1 L1917.5 1967.8 L1922.5 1968.4 L1927.4 1963.1 L1932.4 1963.3 L1937.4 1957.9 L1942.4 1954.0 L1947.4 1946.4 L1952.4 1945.0 L1957.4 1939.3 L1962.4 1931.8 L1967.3 1925.4 L1972.3 1920.5 L1977.3 1917.6 L1982.3 1916.1 L1987.3 1914.5 L1992.3 1921.8 L1997.3 1923.9 L2002.3 1932.6 L2007.2 1944.8 L2012.2 1955.2 L2017.2 1958.2 L2022.2 1962.2 L2027.2 1967.1 L2032.2 1964.2 L2037.2 1964.8 L2042.2 1964.6 L2047.1 1960.6 L2052.1 1958.0 L2057.1 1957.6 L2062.1 1953.0 L2067.1 1950.0 L2072.1 1945.4 L2077.1 1938.4 L2082.1 1930.6 L2087.1 1925.1 L2092.0 1922.5 L2097.0 1914.2 L2102.0 1914.8 L2107.0 1912.7 L2112.0 1914.1 L2117.0 1921.9 L2122.0 1930.3 L2127.0 1938.5 L2131.9 1941.4 L2136.9 1950.1 L2141.9 1954.8 L2146.9 1957.1 L2151.9 1960.7 L2156.9 1962.6 L2161.9 1964.1 L2166.9 1966.0 L2171.8 1960.7 L2176.8 1955.0 L2181.8 1951.1 L2186.8 1945.1 L2191.8 1940.3 L2196.8 1933.8 L2201.8 1925.6 L2206.8 1921.3 L2211.8 1915.4 L2216.7 1913.1 L2221.7 1905.9 L2226.7 1906.5 L2231.7 1907.3 L2236.7 1908.4 L2241.7 1913.5 L2246.7 1923.1 L2251.7 1929.0 L2256.6 1938.4 L2261.6 1940.9 L2266.6 1946.0 L2271.6 1953.1 L2276.6 1952.6 L2281.6 1958.0 L2286.6 1955.7 L2291.6 1956.0 L2296.5 1951.8 L2301.5 1948.9 L2306.5 1948.1 L2311.5 1943.8 L2316.5 1936.1 L2321.5 1929.4 L2326.5 1925.7 L2331.5 1921.1 L2336.4 1915.6 L2341.4 1917.3 L2346.4 1913.2 L2351.4 1915.6 L2356.4 1915.5 L2361.4 1920.0 L2366.4 1924.9 L2371.4 1929.1 L2376.4 1936.3 L2381.3 1940.6 L2386.3 1947.9 L2391.3 1951.3 L2396.3 1954.6 L2401.3 1954.0 L2406.3 1956.1 L2411.3 1953.9 L2416.3 1951.8 L2421.2 1951.1 L2426.2 1946.0 L2431.2 1942.3 L2436.2 1938.1 L2441.2 1935.2 L2446.2 1931.4 L2451.2 1925.9 L2456.2 1920.7 L2461.1 1923.0 L2466.1 1919.6 L2471.1 1921.2 L2476.1 1920.5 L2481.1 1922.4 L2486.1 1923.9 L2491.1 1933.9 L2496.1 1935.1 L2501.1 1940.4 L2506.0 1944.3 L2511.0 1950.2 L2516.0 1954.9 L2521.0 1957.7 L2526.0 1957.9 L2531.0 1964.7 L2536.0 1959.6 L2541.0 1956.8 L2545.9 1953.6 L2550.9 1948.0 L2555.9 1944.2 L2560.9 1939.7 L2565.9 1933.7 L2570.9 1930.4 L2575.9 1930.1 L2580.9 1930.1 L2585.8 1928.1 L2590.8 1928.8 L2595.8 1928.2 L2600.8 1929.7 L2605.8 1931.9 L2610.8 1932.0 L2615.8 1936.4 L2620.8 1936.7 L2625.7 1939.8 L2630.7 1947.5 L2635.7 1950.2 L2640.7 1956.7 L2645.7 1955.4 L2650.7 1955.4 L2655.7 1956.3 L2660.7 1952.9 L2665.7 1950.8 L2670.6 1946.0 L2675.6 1942.1 L2680.6 1937.7 L2685.6 1934.9 L2690.6 1932.5 L2695.6 1933.2 L2700.6 1930.8 L2705.6 1930.6 L2710.5 1933.5 L2715.5 1935.7 L2720.5 1933.3 L2725.5 1933.4 L2730.5 1936.2 L2735.5 1938.7 L2740.5 1937.3 L2745.5 1936.7 L2750.4 1944.5 L2755.4 1944.2 L2760.4 1948.1 L2765.4 1950.1 L2770.4 1947.9 L2775.4 1950.1 L2780.4 1946.7 L2785.4 1941.4 L2790.3 1938.8 L2795.3 1936.8 L2800.3 1934.2 L2805.3 1930.3 L2810.3 1929.9 L2815.3 1925.2 L2820.3 1929.2 L2825.3 1931.7 L2830.3 1932.8 L2835.2 1932.2 L2840.2 1930.2 L2845.2 1930.5 L2850.2 1924.9 L2855.2 1928.2 L2860.2 1928.5 L2865.2 1927.6 L2870.2 1927.0 L2875.1 1931.4 L2880.1 1939.5 L2885.1 1940.3 L2890.1 1941.4 L2895.1 1941.3 L2900.1 1941.0 L2905.1 1939.7 L2910.1 1936.7 L2915.0 1931.4 L2920.0 1930.0 L2925.0 1923.3 L2930.0 1924.4 L2935.0 1927.4 L2940.0 1928.9 L2945.0 1931.7 L2950.0 1933.5 L2955.0 1934.2 L2959.9 1938.7 L2964.9 1937.9 L2969.9 1931.9 L2974.9 1929.8 L2979.9 1926.7 L2984.9 1923.6 L2989.9 1923.7 L2994.9 1930.4 L2999.8 1935.6 L3004.8 1936.0 L3009.8 1938.8 L3014.8 1940.0 L3019.8 1937.5 L3024.8 1934.6 L3029.8 1933.9 L3034.8 1930.1 L3039.7 1925.9 L3044.7 1923.3 L3049.7 1925.7 L3054.7 1929.7 L3059.7 1937.1 L3064.7 1936.3 L3069.7 1944.8 L3074.7 1950.1 L3079.6 1955.3 L3084.6 1957.6 L3089.6 1960.0 L3094.6 1961.7 L3099.6 1956.2 L3104.6 1953.0 L3109.6 1948.8 L3114.6 1950.0 L3119.6 1948.0 L3124.5 1944.4 L3129.5 1941.9 L3134.5 1942.0 L3139.5 1941.5 L3144.5 1938.3 L3149.5 1936.2 L3154.5 1929.7 L3159.5 1928.4 L3164.4 1924.7 L3169.4 1924.8 L3174.4 1930.0 L3179.4 1933.4 L3184.4 1939.2 L3189.4 1947.9 L3194.4 1954.6 L3199.4 1958.0 L3204.3 1964.7 L3209.3 1967.5 L3214.3 1973.0 L3219.3 1972.7 L3224.3 1967.3 L3229.3 1964.3 L3234.3 1959.3 L3239.3 1960.0 L3244.2 1956.8 L3249.2 1955.7 L3254.2 1953.9 L3259.2 1950.5 L3264.2 1943.5 L3269.2 1941.8 L3274.2 1933.5 L3279.2 1928.6 L3284.2 1926.4 L3289.1 1920.7 L3294.1 1924.2 L3299.1 1926.0 L3304.1 1932.5 L3309.1 1939.6 L3314.1 1951.6 L3319.1 1955.9 L3324.1 1963.3 L3329.0 1968.6 L3334.0 1971.1 L3339.0 1971.2 L3344.0 1969.4 L3349.0 1965.6 L3354.0 1962.4 L3359.0 1961.7 L3364.0 1954.4 L3368.9 1950.4 L3373.9 1949.1 L3378.9 1943.7 L3383.9 1942.2 L3388.9 1932.7 L3393.9 1929.2 L3398.9 1923.2 L3403.9 1914.7 L3408.9 1912.4 L3413.8 1911.5 L3418.8 1914.9 L3423.8 1915.7 L3428.8 1926.6 L3433.8 1936.5 L3438.8 1941.7 L3443.8 1949.2 L3448.8 1954.8 L3453.7 1964.2 L3458.7 1967.2 L3463.7 1968.6 L3468.7 1967.3 L3473.7 1965.6 L3478.7 1962.9 L3483.7 1958.8 L3488.7 1956.7 L3493.6 1952.7 L3498.6 1946.3 L3503.6 1943.5 L3508.6 1935.5 L3513.6 1926.5 L3518.6 1921.5 L3523.6 1913.3 L3528.6 1911.3 L3533.5 1906.9 L3538.5 1913.0 L3543.5 1911.2 L3548.5 1915.3 L3553.5 1919.5 L3558.5 1930.6 L3563.5 1941.7 L3568.5 1950.8 L3573.5 1954.3 L3578.4 1959.0 L3583.4 1963.9 L3588.4 1966.8 L3593.4 1965.0 L3598.4 1960.2 L3603.4 1956.6 L3608.4 1951.8 L3613.4 1945.7 L3618.3 1941.4 L3623.3 1931.2 L3628.3 1924.7 L3633.3 1915.8 L3638.3 1908.4 L3643.3 1904.1 L3648.3 1901.3 L3653.3 1897.4 L3658.2 1897.8 L3663.2 1900.3 L3668.2 1910.1 L3673.2 1912.4 L3678.2 1918.6 L3683.2 1925.1 L3688.2 1934.4 L3693.2 1940.4 L3698.2 1945.4 L3703.1 1948.9 L3708.1 1955.1 L3713.1 1954.3 L3718.1 1955.8 L3723.1 1951.8 L3728.1 1949.7 L3733.1 1941.9 L3738.1 1938.6 L3743.0 1933.1 L3748.0 1926.5 L3753.0 1919.2 L3758.0 1917.6 L3763.0 1908.8 L3768.0 1906.4 L3773.0 1907.8 L3778.0 1905.6 L3782.9 1908.1 L3787.9 1910.0 L3792.9 1919.6 L3797.9 1927.6 L3802.9 1933.8 L3807.9 1939.8 L3812.9 1947.9 L3817.9 1952.8 L3822.8 1960.2 L3827.8 1966.3 L3832.8 1967.9 L3837.8 1967.5 L3838.7 1973.0" fill="none" stroke="#000" stroke-width="10.42" stroke-linejoin="round" clip-path="url(#ax2)"/>
<rect x="251.5" y="322.5" width="3587.2" height="1380.1" fill="none" stroke="#000" stroke-width="3.33"/>
<path d="M251.5 1702.6 v14.6" stroke="#000" stroke-width="3.33"/>
<path d="M490.9 1702.6 v14.6" stroke="#000" stroke-width="3.33"/>
<path d="M730.3 1702.6 v14.6" stroke="#000" stroke-width="3.33"/>
<path d="M969.8 1702.6 v14.6" stroke="#000" stroke-width="3.33"/>
<path d="M1209.2 1702.6 v14.6" stroke="#000" stroke-width="3.33"/>
<path d="M1448.6 1702.6 v14.6" stroke="#000" stroke-width="3.33"/>
<path d="M1688.0 1702.6 v14.6" stroke="#000" stroke-width="3.33"/>
<path d="M1927.4 1702.6 v14.6" stroke="#000" stroke-width="3.33"/>
<path d="M2166.9 1702.6 v14.6" stroke="#000" stroke-width="3.33"/>
<path d="M2406.3 1702.6 v14.6" stroke="#000" stroke-width="3.33"/>
<path d="M2645.7 1702.6 v14.6" stroke="#000" stroke-width="3.33"/>
<path d="M2885.1 1702.6 v14.6" stroke="#000" stroke-width="3.33"/>
<path d="M3124.5 1702.6 v14.6" stroke="#000" stroke-width="3.33"/>
<path d="M3364.0 1702.6 v14.6" stroke="#000" stroke-width="3.33"/>
<path d="M3603.4 1702.6 v14.6" stroke="#000" stroke-width="3.33"/>
<rect x="251.5" y="1832.4" width="3587.2" height="1380.5" fill="none" stroke="#000" stroke-width="3.33"/>
<path d="M251.5 3212.9 v14.6" stroke="#000" stroke-width="3.33"/>
<path d="M490.9 3212.9 v14.6" stroke="#000" stroke-width="3.33"/>
<path d="M730.3 3212.9 v14.6" stroke="#000" stroke-width="3.33"/>
<path d="M969.8 3212.9 v14.6" stroke="#000" stroke-width="3.33"/>
<path d="M1209.2 3212.9 v14.6" stroke="#000" stroke-width="3.33"/>
<path d="M1448.6 3212.9 v14.6" stroke="#000" stroke-width="3.33"/>
<path d="M1688.0 3212.9 v14.6" stroke="#000" stroke-width="3.33"/>
<path d="M1927.4 3212.9 v14.6" stroke="#000" stroke-width="3.33"/>
<path d="M2166.9 3212.9 v14.6" stroke="#000" stroke-width="3.33"/>
<path d="M2406.3 3212.9 v14.6" stroke="#000" stroke-width="3.33"/>
<path d="M2645.7 3212.9 v14.6" stroke="#000" stroke-width="3.33"/>
<path d="M2885.1 3212.9 v14.6" stroke="#000" stroke-width="3.33"/>
<path d="M3124.5 3212.9 v14.6" stroke="#000" stroke-width="3.33"/>
<path d="M3364.0 3212.9 v14.6" stroke="#000" stroke-width="3.33"/>
<path d="M3603.4 3212.9 v14.6" stroke="#000" stroke-width="3.33"/>
<path d="M251.5 452.3 h-14.6" stroke="#000" stroke-width="3.33"/>
<text x="224.4" y="468.1" font-size="41.67" text-anchor="end">0</text>
<path d="M251.5 626.3 h-14.6" stroke="#000" stroke-width="3.33"/>
<text x="220.8" y="642.1" font-size="41.67" text-anchor="end">−2</text>
<path d="M251.5 800.3 h-14.6" stroke="#000" stroke-width="3.33"/>
<text x="220.8" y="816.1" font-size="41.67" text-anchor="end">−4</text>
<path d="M251.5 974.3 h-14.6" stroke="#000" stroke-width="3.33"/>
<text x="220.8" y="990.1" font-size="41.67" text-anchor="end">−6</text>
<path d="M251.5 1148.3 h-14.6" stroke="#000" stroke-width="3.33"/>
<text x="220.8" y="1164.1" font-size="41.67" text-anchor="end">−8</text>
<path d="M251.5 1322.3 h-14.6" stroke="#000" stroke-width="3.33"/>
<text x="220.8" y="1338.1" font-size="41.67" text-anchor="end">−10</text>
<path d="M251.5 1496.3 h-14.6" stroke="#000" stroke-width="3.33"/>
<text x="220.8" y="1512.1" font-size="41.67" text-anchor="end">−12</text>
<path d="M251.5 1670.3 h-14.6" stroke="#000" stroke-width="3.33"/>
<text x="220.8" y="1686.1" font-size="41.67" text-anchor="end">−14</text>
<path d="M251.5 1953.8 h-14.6" stroke="#000" stroke-width="3.33"/>
<text x="222.6" y="1969.6" font-size="41.67" text-anchor="end">0.0</text>
<path d="M251.5 2144.7 h-14.6" stroke="#000" stroke-width="3.33"/>
<text x="220.8" y="2160.5" font-size="41.67" text-anchor="end">−2.5</text>
<path d="M251.5 2335.6 h-14.6" stroke="#000" stroke-width="3.33"/>
<text x="220.8" y="2351.4" font-size="41.67" text-anchor="end">−5.0</text>
<path d="M251.5 2526.5 h-14.6" stroke="#000" stroke-width="3.33"/>
<text x="220.8" y="2542.3" font-size="41.67" text-anchor="end">−7.5</text>
<path d="M251.5 2717.4 h-14.6" stroke="#000" stroke-width="3.33"/>
<text x="220.8" y="2733.2" font-size="41.67" text-anchor="end">−10.0</text>
<path d="M251.5 2908.3 h-14.6" stroke="#000" stroke-width="3.33"/>
<text x="220.8" y="2924.1" font-size="41.67" text-anchor="end">−12.5</text>
<path d="M251.5 3099.2 h-14.6" stroke="#000" stroke-width="3.33"/>
<text x="220.8" y="3115.0" font-size="41.67" text-anchor="end">−15.0</text>
<text transform="translate(249.9 3341.5) rotate(-45)" x="0" y="15.2" font-size="41.67" text-anchor="middle">2021-05-01</text>
<text transform="translate(489.3 3341.5) rotate(-45)" x="0" y="15.2" font-size="41.67" text-anchor="middle">2021-05-03</text>
<text transform="translate(728.7 3341.5) rotate(-45)" x="0" y="15.2" font-size="41.67" text-anchor="middle">2021-05-05</text>
<text transform="translate(968.2 3341.5) rotate(-45)" x="0" y="15.2" font-size="41.67" text-anchor="middle">2021-05-07</text>
<text transform="translate(1207.6 3341.5) rotate(-45)" x="0" y="15.2" font-size="41.67" text-anchor="middle">2021-05-09</text>
<text transform="translate(1447.0 3341.5) rotate(-45)" x="0" y="15.2" font-size="41.67" text-anchor="middle">2021-05-11</text>
<text transform="translate(1686.4 3341.5) rotate(-45)" x="0" y="15.2" font-size="41.67" text-anchor="middle">2021-05-13</text>
<text transform="translate(1925.8 3341.5) rotate(-45)" x="0" y="15.2" font-size="41.67" text-anchor="middle">2021-05-15</text>
<text transform="translate(2165.3 3341.5) rotate(-45)" x="0" y="15.2" font-size="41.67" text-anchor="middle">2021-05-17</text>
<text transform="translate(2404.7 3341.5) rotate(-45)" x="0" y="15.2" font-size="41.67" text-anchor="middle">2021-05-19</text>
<text transform="translate(2644.1 3341.5) rotate(-45)" x="0" y="15.2" font-size="41.67" text-anchor="middle">2021-05-21</text>
<text transform="translate(2883.5 3341.5) rotate(-45)" x="0" y="15.2" font-size="41.67" text-anchor="middle">2021-05-23</text>
<text transform="translate(3122.9 3341.5) rotate(-45)" x="0" y="15.2" font-size="41.67" text-anchor="middle">2021-05-25</text>
<text transform="translate(3362.4 3341.5) rotate(-45)" x="0" y="15.2" font-size="41.67" text-anchor="middle">2021-05-27</text>
<text transform="translate(3601.8 3341.5) rotate(-45)" x="0" y="15.2" font-size="41.67" text-anchor="middle">2021-05-29</text>
<text transform="translate(107.7 1013.5) rotate(-90)" font-size="50" text-anchor="middle">Height (mAHD)</text>
<text transform="translate(67.8 2523.7) rotate(-90)" font-size="50" text-anchor="middle">Height (mAHD)</text>
<rect x="4062.7" y="322.5" width="68.7" height="1380.1" fill="url(#cb)" stroke="#000" stroke-width="3.33"/>
<path d="M4131.4 387.0 h14.6" stroke="#000" stroke-width="3.33"/>
<text x="4161.3" y="402.8" font-size="41.67">8.2</text>
<path d="M4131.4 537.0 h14.6" stroke="#000" stroke-width="3.33"/>
<text x="4161.3" y="552.8" font-size="41.67">8.0</text>
<path d="M4131.4 687.0 h14.6" stroke="#000" stroke-width="3.33"/>
<text x="4161.3" y="702.8" font-size="41.67">7.8</text>
<path d="M4131.4 837.0 h14.6" stroke="#000" stroke-width="3.33"/>
<text x="4161.3" y="852.8" font-size="41.67">7.6</text>
<path d="M4131.4 987.0 h14.6" stroke="#000" stroke-width="3.33"/>
<text x="4161.3" y="1002.8" font-size="41.67">7.4</text>
<path d="M4131.4 1137.0 h14.6" stroke="#000" stroke-width="3.33"/>
<text x="4161.3" y="1152.8" font-size="41.67">7.2</text>
<path d="M4131.4 1287.0 h14.6" stroke="#000" stroke-width="3.33"/>
<text x="4161.3" y="1302.8" font-size="41.67">7.0</text>
<path d="M4131.4 1437.0 h14.6" stroke="#000" stroke-width="3.33"/>
<text x="4161.3" y="1452.8" font-size="41.67">6.8</text>
<path d="M4131.4 1587.0 h14.6" stroke="#000" stroke-width="3.33"/>
<text x="4161.3" y="1602.8" font-size="41.67">6.6</text>
<text transform="translate(4280.4 1013.0) rotate(-90)" font-size="50" text-anchor="middle">Do (mg/L)</text>
<rect x="4062.7" y="1832.4" width="68.7" height="1380.5" fill="url(#cb)" stroke="#000" stroke-width="3.33"/>
<path d="M4131.4 1896.9 h14.6" stroke="#000" stroke-width="3.33"/>
<text x="4161.3" y="1912.7" font-size="41.67">8.2</text>
<path d="M4131.4 2046.9 h14.6" stroke="#000" stroke-width="3.33"/>
<text x="4161.3" y="2062.7" font-size="41.67">8.0</text>
<path d="M4131.4 2196.9 h14.6" stroke="#000" stroke-width="3.33"/>
<text x="4161.3" y="2212.7" font-size="41.67">7.8</text>
<path d="M4131.4 2346.9 h14.6" stroke="#000" stroke-width="3.33"/>
<text x="4161.3" y="2362.7" font-size="41.67">7.6</text>
<path d="M4131.4 2496.9 h14.6" stroke="#000" stroke-width="3.33"/>
<text x="4161.3" y="2512.7" font-size="41.67">7.4</text>
<path d="M4131.4 2646.9 h14.6" stroke="#000" stroke-width="3.33"/>
<text x="4161.3" y="2662.7" font-size="41.67">7.2</text>
<path d="M4131.4 2796.9 h14.6" stroke="#000" stroke-width="3.33"/>
<text x="4161.3" y="2812.7" font-size="41.67">7.0</text>
<path d="M4131.4 2946.9 h14.6" stroke="#000" stroke-width="3.33"/>
<text x="4161.3" y="2962.7" font-size="41.67">6.8</text>
<path d="M4131.4 3096.9 h14.6" stroke="#000" stroke-width="3.33"/>
<text x="4161.3" y="3112.7" font-size="41.67">6.6</text>
<text transform="translate(4280.4 2523.2) rotate(-90)" font-size="50" text-anchor="middle">Do (mg/L)</text>
<rect x="3295.4" y="1606.9" width="521.8" height="73.6" rx="8.3" ry="8.3" fill="#fff" fill-opacity="0.8" stroke="#ccc" stroke-opacity="0.8" stroke-width="4.17"/>
<path d="M3310.7 1640.8 H3394" stroke="#000" stroke-width="10.42" stroke-linecap="square"/>
<text x="3427.3" y="1654.9" font-size="41.67">Water Surface (H)</text>
<rect x="3295.4" y="3117.2" width="521.8" height="73.6" rx="8.3" ry="8.3" fill="#fff" fill-opacity="0.8" stroke="#ccc" stroke-opacity="0.8" stroke-width="4.17"/>
<path d="M3310.7 3151.1 H3394" stroke="#000" stroke-width="10.42" stroke-linecap="square"/>
<text x="3427.3" y="3165.2" font-size="41.67">Water Surface (H)</text>
</svg></body></html>
